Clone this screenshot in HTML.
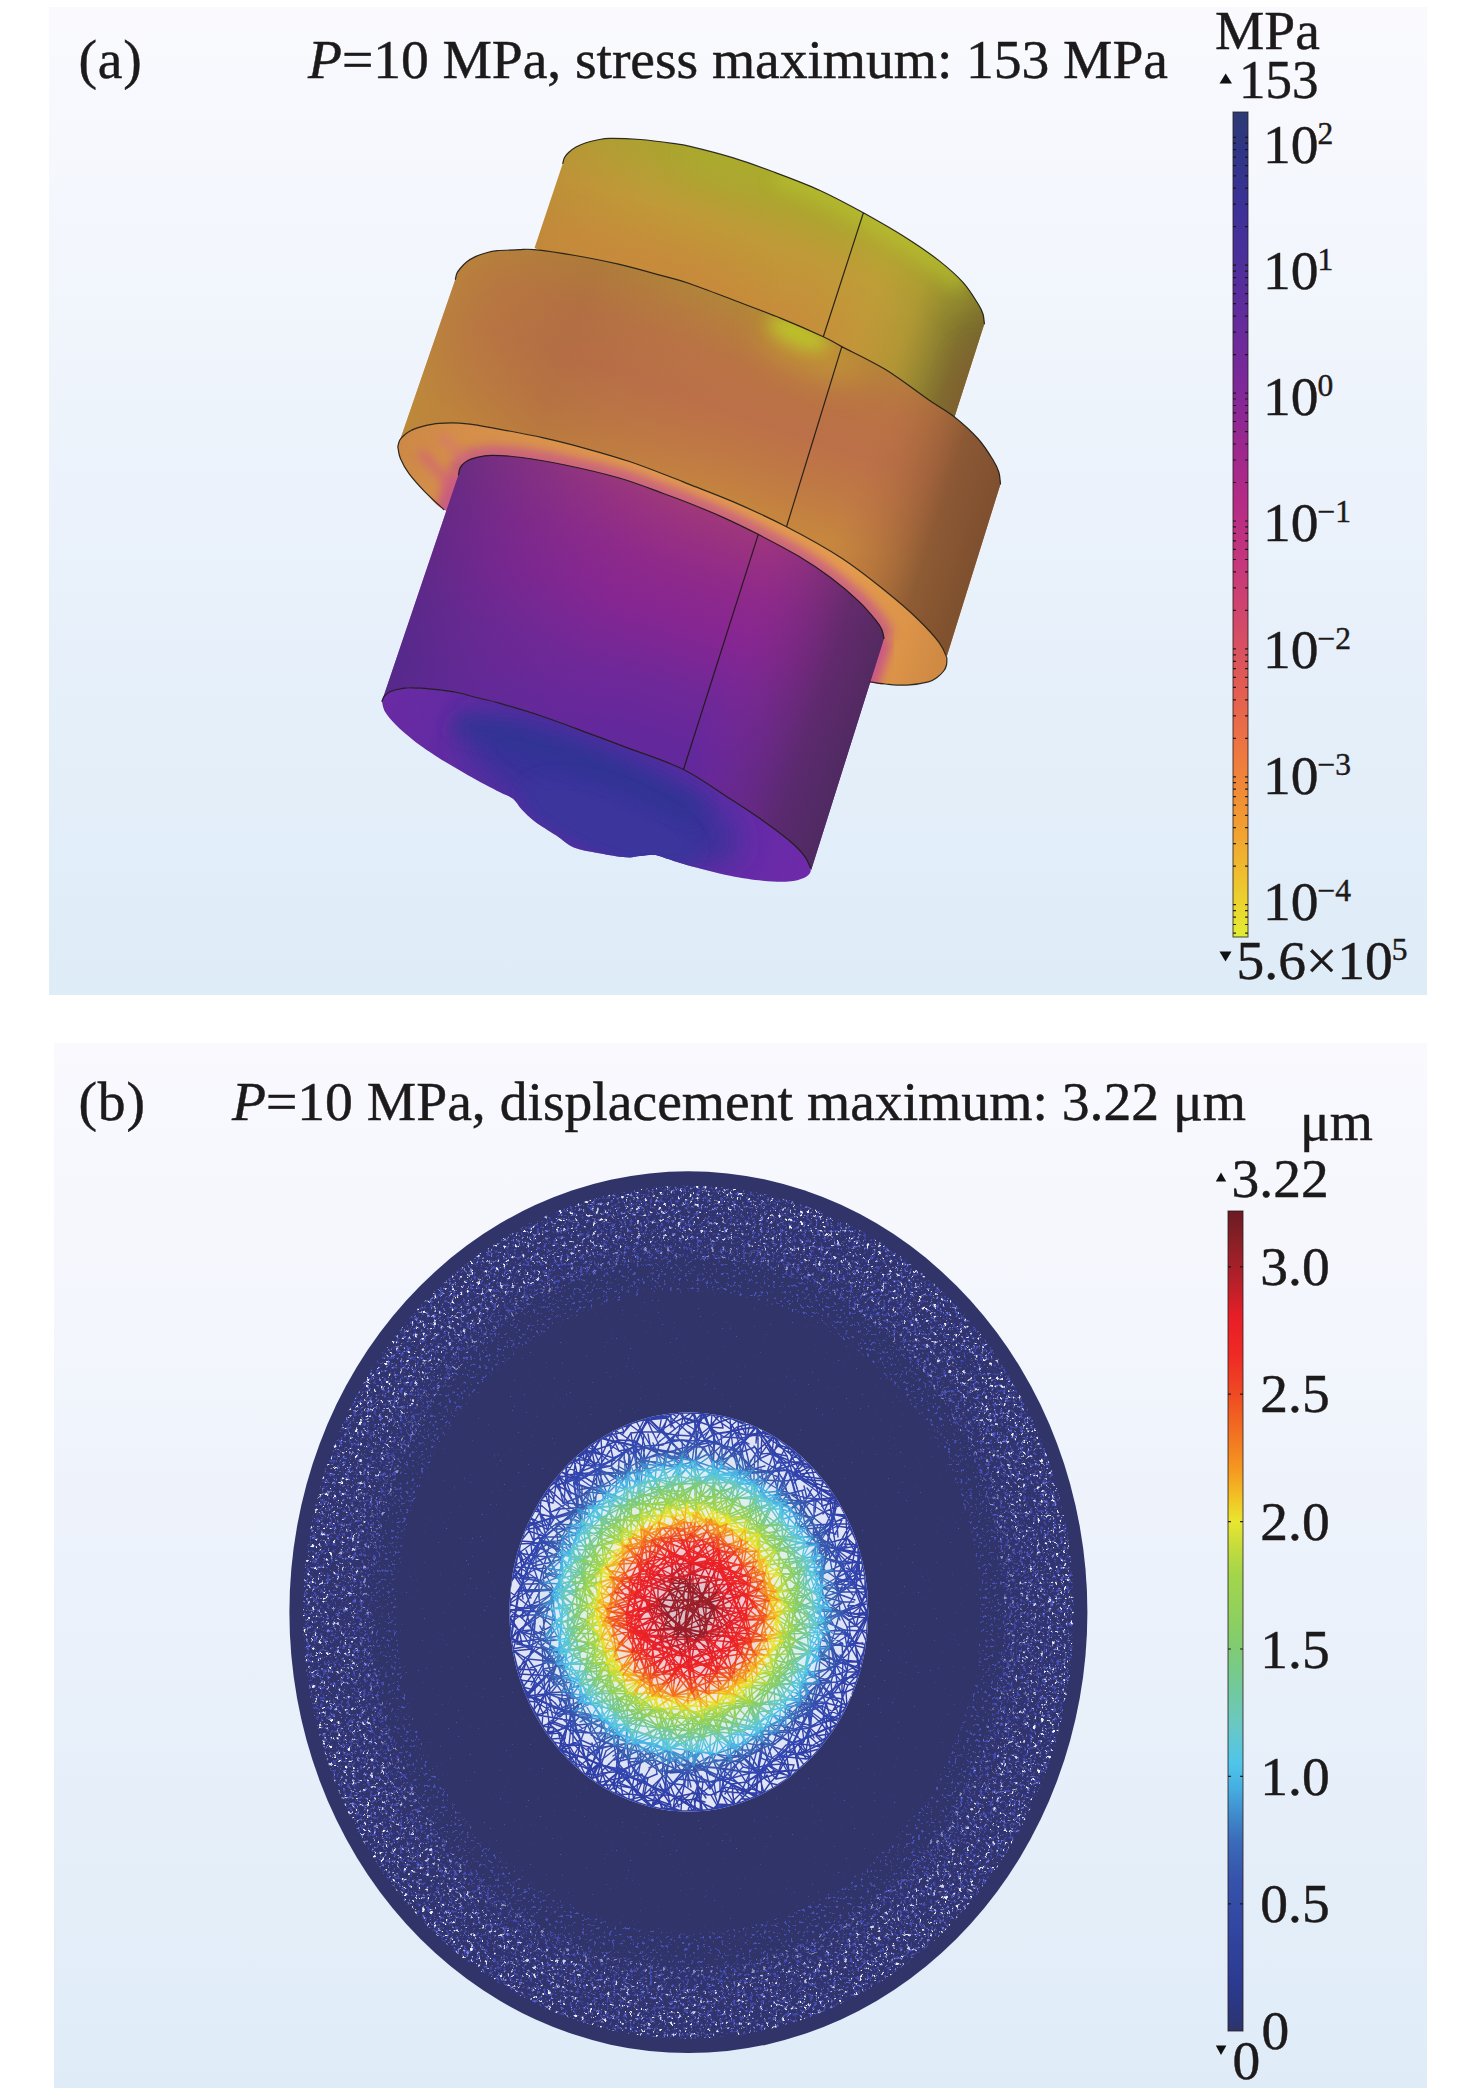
<!DOCTYPE html>
<html lang="en"><head><meta charset="utf-8"><title>Stress and displacement simulation</title>
<style>
html,body{margin:0;padding:0;background:#fff;}
body{width:1476px;height:2098px;overflow:hidden;position:relative;font-family:"Liberation Serif", serif;color:#1a1a1a;}
svg{position:absolute;left:0;top:0;display:block}
text{font-family:"Liberation Serif", serif;fill:#1d1a1b;stroke:#1d1a1b;stroke-width:0.45px;}
.t{font-size:55.6px}
.c{font-size:55.5px}
.s{font-size:31.5px}
.i{font-style:italic}
</style></head><body>
<svg width="1476" height="2098" viewBox="0 0 1476 2098">

<defs><linearGradient id="bgA" x1="0" y1="0" x2="0" y2="1"><stop offset="0.0000" stop-color="#fafafe"/><stop offset="0.2000" stop-color="#f4f7fd"/><stop offset="0.5000" stop-color="#ebf2fb"/><stop offset="0.8000" stop-color="#e3eef9"/><stop offset="1.0000" stop-color="#deecf8"/></linearGradient><linearGradient id="bgB" x1="0" y1="0" x2="0" y2="1"><stop offset="0.0000" stop-color="#f9f9fe"/><stop offset="0.2000" stop-color="#f5f7fd"/><stop offset="0.5000" stop-color="#ecf2fb"/><stop offset="0.8000" stop-color="#e4eef9"/><stop offset="1.0000" stop-color="#dfecf8"/></linearGradient><linearGradient id="cbA" x1="0" y1="0" x2="0" y2="1"><stop offset="0.0000" stop-color="#2d3a73"/><stop offset="0.0461" stop-color="#2f3585"/><stop offset="0.1067" stop-color="#3a3296"/><stop offset="0.1794" stop-color="#4b2f9b"/><stop offset="0.2521" stop-color="#642b9c"/><stop offset="0.3248" stop-color="#7b289a"/><stop offset="0.3976" stop-color="#98278f"/><stop offset="0.4703" stop-color="#b42b86"/><stop offset="0.5430" stop-color="#c4367c"/><stop offset="0.6158" stop-color="#d2486b"/><stop offset="0.6885" stop-color="#e05a55"/><stop offset="0.7612" stop-color="#ec7244"/><stop offset="0.8097" stop-color="#f08538"/><stop offset="0.8703" stop-color="#f1a030"/><stop offset="0.9309" stop-color="#eec22e"/><stop offset="0.9673" stop-color="#ead82f"/><stop offset="1.0000" stop-color="#e0ee33"/></linearGradient><linearGradient id="cbB" x1="0" y1="0" x2="0" y2="1"><stop offset="-0.0004" stop-color="#6b1b22"/><stop offset="0.0369" stop-color="#8a1f26"/><stop offset="0.0835" stop-color="#b4202a"/><stop offset="0.1301" stop-color="#e81e26"/><stop offset="0.1768" stop-color="#ee2a25"/><stop offset="0.2234" stop-color="#ef4a23"/><stop offset="0.2700" stop-color="#f27021"/><stop offset="0.3166" stop-color="#f59a20"/><stop offset="0.3477" stop-color="#f2c024"/><stop offset="0.3787" stop-color="#e9e62f"/><stop offset="0.4098" stop-color="#c4dc3c"/><stop offset="0.4409" stop-color="#a5d64a"/><stop offset="0.5030" stop-color="#8bcf62"/><stop offset="0.5341" stop-color="#7fcb74"/><stop offset="0.5807" stop-color="#72c99a"/><stop offset="0.6273" stop-color="#69c8c4"/><stop offset="0.6739" stop-color="#4fc5ea"/><stop offset="0.7050" stop-color="#45ade0"/><stop offset="0.7361" stop-color="#3f8bcc"/><stop offset="0.7671" stop-color="#3b6cba"/><stop offset="0.8138" stop-color="#3653ab"/><stop offset="0.8759" stop-color="#3146a0"/><stop offset="0.9380" stop-color="#2c3b92"/><stop offset="0.9753" stop-color="#2b367e"/><stop offset="1.0002" stop-color="#2d346c"/></linearGradient>
<clipPath id="cTw"><path d="M562.8 163.4C563.1 162.4 563.5 159.3 564.5 157.5C565.5 155.7 566.7 154.2 568.6 152.5C570.5 150.8 573.1 148.6 576.0 147.0C578.9 145.4 582.5 144.0 586.0 142.8C589.5 141.6 593.0 140.7 597.0 140.0C601.0 139.3 602.6 138.5 609.8 138.4C617.0 138.3 629.7 138.7 640.2 139.5C650.7 140.3 664.4 142.2 672.7 143.4C681.0 144.6 679.9 144.0 690.0 146.4C700.1 148.8 718.9 153.5 733.4 157.9C747.9 162.3 762.2 167.7 776.7 173.1C791.2 178.5 805.7 183.9 820.1 190.5C834.5 197.1 849.0 204.9 863.4 212.8C877.8 220.8 894.1 230.2 906.8 238.2C919.4 246.2 929.9 253.5 939.3 260.9C948.7 268.3 956.7 275.4 963.2 282.6C969.7 289.8 975.0 299.1 978.3 304.3C981.6 309.5 982.0 310.8 983.0 314.0C984.0 317.2 984.2 322.2 984.4 323.8L954.5 417.0L534.6 247.9Z"/></clipPath><clipPath id="cMw"><path d="M455.4 279.3C455.6 278.3 456.0 275.3 456.8 273.5C457.6 271.7 458.6 270.4 460.2 268.5C461.8 266.6 464.0 264.0 466.5 262.0C469.0 260.0 472.2 258.1 475.4 256.6C478.6 255.1 481.9 254.0 485.5 253.0C489.1 252.0 491.6 251.2 497.1 250.7C502.7 250.1 512.5 249.9 518.8 249.7C525.0 249.5 525.2 248.7 534.6 249.7C544.0 250.7 561.1 253.1 575.1 255.5C589.1 257.9 604.0 260.8 618.5 264.2C633.0 267.6 649.9 272.4 661.8 275.7C673.7 278.9 678.1 279.6 690.0 283.7C701.9 287.8 718.2 294.2 733.4 300.0C748.6 305.8 766.0 312.3 781.0 318.4C796.0 324.5 813.2 332.1 823.3 336.8C833.4 341.5 831.5 341.2 841.8 346.6C852.1 352.0 870.6 360.5 885.1 369.3C899.6 378.1 916.9 391.8 928.5 399.7C940.1 407.6 946.2 410.4 954.5 417.0C962.8 423.6 971.8 431.7 978.3 439.0C984.8 446.3 990.1 455.2 993.5 460.7C996.9 466.2 997.6 468.1 998.8 472.0C1000.0 475.9 1000.2 482.0 1000.5 484.0L946.9 656.0C945.6 655.5 944.2 649.3 939.3 642.8C934.4 636.3 926.6 627.7 917.6 619.0C908.6 610.3 897.7 600.9 885.1 590.8C872.5 580.7 858.2 569.0 841.8 558.3C825.4 547.6 804.6 536.2 786.5 526.8C768.4 517.4 749.5 508.9 733.4 501.9C717.3 494.9 700.0 488.6 690.0 484.6C680.0 480.6 683.5 481.8 673.5 478.0C663.5 474.2 644.7 466.7 630.2 461.8C615.8 456.9 601.3 452.8 586.8 448.8C572.3 444.8 557.8 441.1 543.4 437.9C529.0 434.6 512.7 431.6 500.1 429.3C487.5 427.0 477.7 424.8 467.6 423.8C457.5 422.8 447.3 422.8 439.4 423.4C431.4 423.9 424.5 426.0 419.9 427.1C415.2 428.2 414.0 429.0 411.5 430.3C409.0 431.6 406.6 433.1 404.7 434.7C402.8 436.3 400.9 438.0 399.8 440.0C398.7 442.0 398.1 445.5 397.8 446.6Z"/></clipPath><clipPath id="cMb"><path d="M397.8 446.6C398.1 445.5 398.7 442.0 399.8 440.0C400.9 438.0 402.8 436.3 404.7 434.7C406.6 433.1 409.0 431.6 411.5 430.3C414.0 429.0 415.2 428.2 419.9 427.1C424.5 426.0 431.4 423.9 439.4 423.4C447.3 422.8 457.5 422.8 467.6 423.8C477.7 424.8 487.5 427.0 500.1 429.3C512.7 431.6 529.0 434.6 543.4 437.9C557.8 441.1 572.3 444.8 586.8 448.8C601.3 452.8 615.8 456.9 630.2 461.8C644.7 466.7 663.5 474.2 673.5 478.0C683.5 481.8 680.0 480.6 690.0 484.6C700.0 488.6 717.3 494.9 733.4 501.9C749.5 508.9 768.4 517.4 786.5 526.8C804.6 536.2 825.4 547.6 841.8 558.3C858.2 569.0 872.5 580.7 885.1 590.8C897.7 600.9 908.6 610.3 917.6 619.0C926.6 627.7 934.4 636.3 939.3 642.8C944.2 649.3 945.6 655.5 946.9 658.0C946.8 659.2 947.0 662.8 946.5 665.0C946.0 667.2 945.3 668.9 943.7 671.0C942.1 673.1 939.5 675.7 937.0 677.5C934.5 679.3 933.5 680.5 928.5 681.8C923.5 683.1 914.0 684.7 906.8 685.1C899.6 685.5 891.2 684.5 885.1 684.0C879.0 683.5 887.5 686.6 870.0 681.8C852.5 677.0 815.0 667.0 780.0 655.0C745.0 643.0 696.7 625.0 660.0 610.0C623.3 595.0 588.3 578.3 560.0 565.0C531.7 551.7 509.4 539.2 490.0 530.0C470.6 520.8 454.7 516.0 443.7 509.5C432.7 503.0 430.0 497.1 424.2 491.1C418.4 485.1 413.0 479.1 409.0 473.7C405.0 468.3 402.3 463.0 400.4 458.5C398.5 454.0 398.2 448.6 397.8 446.6Z"/></clipPath><clipPath id="cBw"><path d="M458.5 474.8C458.7 473.9 458.9 471.1 459.5 469.5C460.1 467.9 460.9 466.4 462.1 465.0C463.4 463.6 465.0 462.1 467.0 461.0C469.0 459.9 470.0 459.1 474.1 458.1C478.2 457.2 483.4 455.4 491.4 455.3C499.3 455.2 509.5 455.9 521.8 457.5C534.1 459.1 548.9 461.6 565.1 465.0C581.4 468.4 603.0 473.3 619.3 478.0C635.6 482.7 650.9 488.9 662.7 493.2C674.5 497.4 680.0 499.5 690.0 503.5C700.0 507.5 711.1 512.0 722.5 517.1C733.9 522.2 745.6 527.9 758.3 534.4C770.9 540.9 786.3 548.9 798.4 556.1C810.5 563.3 820.8 570.2 830.9 577.8C841.0 585.4 851.5 594.4 859.1 601.6C866.7 608.8 872.7 616.4 876.5 621.1C880.3 625.8 880.8 627.1 882.0 630.0C883.2 632.9 883.7 637.1 884.0 638.5L811.2 870.0C809.6 865.9 807.5 859.8 803.8 855.1C800.1 850.4 795.5 845.8 788.6 840.0C781.7 834.2 772.4 827.3 762.6 820.4C752.9 813.5 743.3 807.3 730.1 798.8C716.9 790.3 700.1 777.8 683.5 769.5C666.9 761.2 646.3 755.0 630.2 748.9C614.1 742.8 601.3 738.0 586.8 732.6C572.3 727.2 557.8 721.7 543.4 716.8C529.0 711.9 510.9 706.5 500.1 703.4C489.3 700.3 485.6 699.8 478.4 698.0C471.2 696.2 463.9 693.9 456.7 692.5C449.5 691.1 442.2 690.2 435.0 689.4C427.8 688.6 418.8 688.0 413.4 687.8C408.0 687.6 406.3 687.7 402.5 688.3C398.7 688.9 393.5 690.2 390.5 691.5C387.5 692.8 385.9 694.4 384.5 696.0C383.1 697.6 382.3 700.4 381.9 701.3Z"/></clipPath><clipPath id="cBf"><path d="M381.9 701.3C382.3 700.4 383.1 697.6 384.5 696.0C385.9 694.4 387.5 692.8 390.5 691.5C393.5 690.2 398.7 688.9 402.5 688.3C406.3 687.7 408.0 687.6 413.4 687.8C418.8 688.0 427.8 688.6 435.0 689.4C442.2 690.2 449.5 691.1 456.7 692.5C463.9 693.9 471.2 696.2 478.4 698.0C485.6 699.8 489.3 700.3 500.1 703.4C510.9 706.5 529.0 711.9 543.4 716.8C557.8 721.7 572.3 727.2 586.8 732.6C601.3 738.0 614.1 742.8 630.2 748.9C646.3 755.0 666.9 761.2 683.5 769.5C700.1 777.8 716.9 790.3 730.1 798.8C743.3 807.3 752.9 813.5 762.6 820.4C772.4 827.3 781.7 834.2 788.6 840.0C795.5 845.8 800.1 850.4 803.8 855.1C807.5 859.8 809.6 865.9 810.7 868.1C810.6 868.9 811.1 871.4 810.0 873.0C808.9 874.6 807.4 876.5 803.8 877.9C800.2 879.3 795.5 881.1 788.6 881.6C781.7 882.1 772.4 881.7 762.6 880.7C752.9 879.7 742.8 878.3 730.1 875.7C717.5 873.1 697.6 867.9 686.7 864.9C675.9 861.9 670.4 859.6 665.0 858.0C659.6 856.4 658.4 855.4 654.2 855.1C650.0 854.8 644.7 855.6 640.0 856.0C635.3 856.4 633.1 857.8 626.0 857.3C618.9 856.8 606.3 854.6 597.6 853.0C588.9 851.4 580.7 850.4 573.8 847.5C566.9 844.6 562.9 839.9 556.4 835.6C549.9 831.3 540.6 825.8 534.8 821.5C529.0 817.2 525.4 813.4 521.8 809.6C518.2 805.8 516.7 801.7 513.1 798.8C509.5 795.9 507.7 796.3 500.1 792.3C492.5 788.3 478.5 781.0 467.6 774.9C456.8 768.8 444.0 761.2 435.0 755.4C426.0 749.6 419.9 745.3 413.4 740.2C406.9 735.1 400.7 729.7 396.0 725.0C391.3 720.3 387.6 716.0 385.2 712.0C382.8 708.0 382.4 703.1 381.9 701.3Z"/></clipPath><filter id="bl5" x="-60%" y="-60%" width="220%" height="220%"><feGaussianBlur stdDeviation="5"/></filter><filter id="bl8" x="-60%" y="-60%" width="220%" height="220%"><feGaussianBlur stdDeviation="8"/></filter><filter id="bl16" x="-60%" y="-60%" width="220%" height="220%"><feGaussianBlur stdDeviation="16"/></filter><filter id="bl28" x="-60%" y="-60%" width="220%" height="220%"><feGaussianBlur stdDeviation="28"/></filter><linearGradient id="gTv" gradientUnits="userSpaceOnUse" x1="700.0" y1="146.0" x2="641.5" y2="321.6"><stop offset="0.000" stop-color="#a6a62e"/><stop offset="0.150" stop-color="#aea432"/><stop offset="0.380" stop-color="#c09a38"/><stop offset="0.700" stop-color="#c68e3b"/><stop offset="1.000" stop-color="#c8863c"/></linearGradient><linearGradient id="gTu" gradientUnits="userSpaceOnUse" x1="562.8" y1="163.4" x2="989.8" y2="305.6"><stop offset="0.000" stop-color="#b88438" stop-opacity="0.35"/><stop offset="0.120" stop-color="#c08c3a" stop-opacity="0.2"/><stop offset="0.300" stop-color="#c2963a" stop-opacity="0.0"/><stop offset="0.600" stop-color="#c0a036" stop-opacity="0.0"/><stop offset="0.740" stop-color="#b8aa34" stop-opacity="0.3"/><stop offset="0.840" stop-color="#a09c30" stop-opacity="0.55"/><stop offset="0.910" stop-color="#84802e" stop-opacity="0.8"/><stop offset="0.960" stop-color="#7a702e" stop-opacity="0.92"/><stop offset="1.000" stop-color="#76682e" stop-opacity="0.95"/></linearGradient><linearGradient id="gMv" gradientUnits="userSpaceOnUse" x1="700.0" y1="285.0" x2="636.8" y2="474.8"><stop offset="0.000" stop-color="#b08a38"/><stop offset="0.120" stop-color="#b6803c"/><stop offset="0.300" stop-color="#ba7444"/><stop offset="0.550" stop-color="#bc7048"/><stop offset="0.800" stop-color="#c07a44"/><stop offset="1.000" stop-color="#c6863e"/></linearGradient><linearGradient id="gMu" gradientUnits="userSpaceOnUse" x1="455.4" y1="279.3" x2="1004.9" y2="462.3"><stop offset="0.000" stop-color="#b88a38" stop-opacity="0.6"/><stop offset="0.080" stop-color="#b27c3a" stop-opacity="0.4"/><stop offset="0.220" stop-color="#a4663e" stop-opacity="0.35"/><stop offset="0.400" stop-color="#b06a46" stop-opacity="0.15"/><stop offset="0.550" stop-color="#bc7048" stop-opacity="0.0"/><stop offset="0.760" stop-color="#bc7046" stop-opacity="0.0"/><stop offset="0.850" stop-color="#a0623a" stop-opacity="0.5"/><stop offset="0.920" stop-color="#845432" stop-opacity="0.85"/><stop offset="1.000" stop-color="#7c4e2e" stop-opacity="0.95"/></linearGradient><linearGradient id="gMb" gradientUnits="userSpaceOnUse" x1="397.8" y1="446.6" x2="947.3" y2="629.6"><stop offset="0.000" stop-color="#cc8846"/><stop offset="0.080" stop-color="#d48e4a"/><stop offset="0.400" stop-color="#e0984e"/><stop offset="0.800" stop-color="#e49c4e"/><stop offset="0.930" stop-color="#dc9448"/><stop offset="1.000" stop-color="#d08a44"/></linearGradient><linearGradient id="gBv" gradientUnits="userSpaceOnUse" x1="640.0" y1="476.0" x2="561.0" y2="713.2"><stop offset="0.000" stop-color="#a23e76"/><stop offset="0.100" stop-color="#9c347e"/><stop offset="0.300" stop-color="#902a8a"/><stop offset="0.500" stop-color="#862692"/><stop offset="0.750" stop-color="#702898"/><stop offset="1.000" stop-color="#62289c"/></linearGradient><linearGradient id="gBu" gradientUnits="userSpaceOnUse" x1="458.5" y1="474.8" x2="893.1" y2="619.5"><stop offset="0.000" stop-color="#4e2a80" stop-opacity="0.6"/><stop offset="0.120" stop-color="#5c2a88" stop-opacity="0.45"/><stop offset="0.300" stop-color="#6c2a8e" stop-opacity="0.2"/><stop offset="0.500" stop-color="#8a2692" stop-opacity="0.0"/><stop offset="0.680" stop-color="#8c2890" stop-opacity="0.0"/><stop offset="0.800" stop-color="#6e2a78" stop-opacity="0.45"/><stop offset="0.900" stop-color="#582a64" stop-opacity="0.8"/><stop offset="1.000" stop-color="#4e2a5c" stop-opacity="0.92"/></linearGradient><linearGradient id="gBf" gradientUnits="userSpaceOnUse" x1="381.9" y1="701.3" x2="818.4" y2="846.7"><stop offset="0.000" stop-color="#6a2aa4"/><stop offset="0.300" stop-color="#5c2ca0"/><stop offset="0.700" stop-color="#5e2ca4"/><stop offset="1.000" stop-color="#6e2aaa"/></linearGradient><clipPath id="cIn"><ellipse cx="688.8" cy="1612.0" rx="179.5" ry="199.5"/></clipPath><radialGradient id="gGlow" gradientUnits="userSpaceOnUse" cx="0" cy="0" r="1" gradientTransform="translate(688.5 1609.5) scale(176.5 190.0)"><stop offset="0.000" stop-color="#781a22" stop-opacity="0.26"/><stop offset="0.100" stop-color="#991e28" stop-opacity="0.24200000000000002"/><stop offset="0.200" stop-color="#d61e29" stop-opacity="0.224"/><stop offset="0.300" stop-color="#ec2426" stop-opacity="0.20600000000000002"/><stop offset="0.360" stop-color="#ee3924" stop-opacity="0.1952"/><stop offset="0.420" stop-color="#f26d21" stop-opacity="0.1844"/><stop offset="0.500" stop-color="#ecda2b" stop-opacity="0.17"/><stop offset="0.580" stop-color="#96d258" stop-opacity="0.15560000000000002"/><stop offset="0.660" stop-color="#72c99a" stop-opacity="0.1412"/><stop offset="0.720" stop-color="#57c6de" stop-opacity="0.13040000000000002"/><stop offset="0.800" stop-color="#3b6fbc" stop-opacity="0.11600000000000002"/><stop offset="0.900" stop-color="#3248af" stop-opacity="0.098"/><stop offset="1.000" stop-color="#2f3ca0" stop-opacity="0.08000000000000002"/></radialGradient><filter id="spk1" filterUnits="userSpaceOnUse" x="280" y="1160" width="820" height="905" color-interpolation-filters="sRGB"><feTurbulence type="fractalNoise" baseFrequency="0.3" numOctaves="3" seed="3" result="n"/><feColorMatrix in="n" type="matrix" values="0 0 0 0 0.263 0 0 0 0 0.298 0 0 0 0 0.714 7 0 0 0 -4.0" result="a"/><feComposite in="a" in2="SourceGraphic" operator="in"/></filter><filter id="spk2" filterUnits="userSpaceOnUse" x="280" y="1160" width="820" height="905" color-interpolation-filters="sRGB"><feTurbulence type="fractalNoise" baseFrequency="0.33" numOctaves="3" seed="8" result="n"/><feColorMatrix in="n" type="matrix" values="0 0 0 0 0.463 0 0 0 0 0.502 0 0 0 0 0.863 8 0 0 0 -5.15" result="a"/><feComposite in="a" in2="SourceGraphic" operator="in"/></filter><filter id="spk3" filterUnits="userSpaceOnUse" x="280" y="1160" width="820" height="905" color-interpolation-filters="sRGB"><feTurbulence type="fractalNoise" baseFrequency="0.27" numOctaves="3" seed="21" result="n"/><feColorMatrix in="n" type="matrix" values="0 0 0 0 0.941 0 0 0 0 0.949 0 0 0 0 1.000 9 0 0 0 -5.78" result="a"/><feComposite in="a" in2="SourceGraphic" operator="in"/></filter><filter id="spk4" filterUnits="userSpaceOnUse" x="280" y="1160" width="820" height="905" color-interpolation-filters="sRGB"><feTurbulence type="fractalNoise" baseFrequency="0.33" numOctaves="3" seed="5" result="n"/><feColorMatrix in="n" type="matrix" values="0 0 0 0 0.290 0 0 0 0 0.329 0 0 0 0 0.753 9 0 0 0 -5.6" result="a"/><feComposite in="a" in2="SourceGraphic" operator="in"/></filter><filter id="spk5" filterUnits="userSpaceOnUse" x="280" y="1160" width="820" height="905" color-interpolation-filters="sRGB"><feTurbulence type="fractalNoise" baseFrequency="0.5" numOctaves="2" seed="9" result="n"/><feColorMatrix in="n" type="matrix" values="0 0 0 0 0.290 0 0 0 0 0.329 0 0 0 0 0.753 10 0 0 0 -7.3" result="a"/><feComposite in="a" in2="SourceGraphic" operator="in"/></filter></defs>
<rect x="49" y="7" width="1378" height="988" fill="url(#bgA)"/><rect x="54" y="1043" width="1373" height="1045" fill="url(#bgB)"/>
<g id="figA"><g clip-path="url(#cTw)"><rect x="500" y="120" width="520" height="320" fill="url(#gTv)"/><rect x="500" y="120" width="520" height="320" fill="url(#gTu)"/><path d="M690.0 146.4C697.2 148.3 718.9 153.5 733.4 157.9C747.9 162.3 762.2 167.7 776.7 173.1C791.2 178.5 805.7 183.9 820.1 190.5C834.5 197.1 849.0 204.9 863.4 212.8C877.8 220.8 894.1 230.2 906.8 238.2C919.4 246.2 929.9 253.5 939.3 260.9C948.7 268.3 956.7 275.4 963.2 282.6C969.7 289.8 975.8 300.7 978.3 304.3" stroke="#b2b62e" stroke-width="34" fill="none" opacity="0.45" filter="url(#bl16)"/><path d="M776.7 173.1C783.9 176.0 805.7 183.9 820.1 190.5C834.5 197.1 849.0 204.9 863.4 212.8C877.8 220.8 894.1 230.2 906.8 238.2C919.4 246.2 929.9 253.5 939.3 260.9C948.7 268.3 959.2 279.0 963.2 282.6" stroke="#b8c42e" stroke-width="24" fill="none" opacity="0.55" filter="url(#bl8)"/><ellipse cx="964" cy="395" rx="18" ry="55" transform="rotate(18 964 395)" fill="#845c30" opacity="0.7" filter="url(#bl16)"/><ellipse cx="640" cy="262" rx="110" ry="26" transform="rotate(14 640 262)" fill="#c8883e" opacity="0.55" filter="url(#bl16)"/></g><g clip-path="url(#cMw)"><rect x="380" y="230" width="640" height="460" fill="url(#gMv)"/><rect x="380" y="230" width="640" height="460" fill="url(#gMu)"/><ellipse cx="812" cy="350" rx="58" ry="24" transform="rotate(24 812 350)" fill="#c8a034" opacity="0.6" filter="url(#bl16)"/><ellipse cx="798" cy="333" rx="32" ry="13" transform="rotate(24 798 333)" fill="#bcc42c" opacity="0.95" filter="url(#bl8)"/></g><g clip-path="url(#cMb)"><rect x="380" y="400" width="600" height="300" fill="url(#gMb)"/><path d="M458.5 474.8C458.7 473.9 458.9 471.1 459.5 469.5C460.1 467.9 460.9 466.4 462.1 465.0C463.4 463.6 465.0 462.1 467.0 461.0C469.0 459.9 470.0 459.1 474.1 458.1C478.2 457.2 483.4 455.4 491.4 455.3C499.3 455.2 509.5 455.9 521.8 457.5C534.1 459.1 548.9 461.6 565.1 465.0C581.4 468.4 603.0 473.3 619.3 478.0C635.6 482.7 650.9 488.9 662.7 493.2C674.5 497.4 680.0 499.5 690.0 503.5C700.0 507.5 711.1 512.0 722.5 517.1C733.9 522.2 745.6 527.9 758.3 534.4C770.9 540.9 786.3 548.9 798.4 556.1C810.5 563.3 820.8 570.2 830.9 577.8C841.0 585.4 851.5 594.4 859.1 601.6C866.7 608.8 872.7 616.4 876.5 621.1C880.3 625.8 880.8 627.1 882.0 630.0C883.2 632.9 883.7 637.1 884.0 638.5" stroke="#c6568a" stroke-width="19" fill="none" opacity="0.78" filter="url(#bl5)"/><path d="M458.5 474.8 L440 530" stroke="#c8528a" stroke-width="22" fill="none" opacity="0.85" filter="url(#bl5)"/><path d="M884 638.5 L868 690" stroke="#c8528a" stroke-width="18" fill="none" opacity="0.9" filter="url(#bl5)"/><path d="M420 452 L452 486" stroke="#d4647a" stroke-width="10" fill="none" opacity="0.7" filter="url(#bl5)"/><path d="M440 436 L468 462" stroke="#d8707a" stroke-width="8" fill="none" opacity="0.6" filter="url(#bl5)"/></g><g clip-path="url(#cBw)"><rect x="360" y="440" width="560" height="460" fill="url(#gBv)"/><rect x="360" y="440" width="560" height="460" fill="url(#gBu)"/></g><g clip-path="url(#cBf)"><rect x="360" y="670" width="480" height="230" fill="url(#gBf)"/><ellipse cx="600" cy="790" rx="150" ry="46" transform="rotate(24 600 790)" fill="#38329a" filter="url(#bl16)"/><ellipse cx="610" cy="822" rx="92" ry="34" transform="rotate(20 610 822)" fill="#3a349c" filter="url(#bl8)"/><path d="M455 722 C520 735 600 765 700 812" stroke="#2f3692" stroke-width="26" fill="none" opacity="0.65" filter="url(#bl8)"/></g><path d="M562.8 163.4C563.1 162.4 563.5 159.3 564.5 157.5C565.5 155.7 566.7 154.2 568.6 152.5C570.5 150.8 573.1 148.6 576.0 147.0C578.9 145.4 582.5 144.0 586.0 142.8C589.5 141.6 593.0 140.7 597.0 140.0C601.0 139.3 602.6 138.5 609.8 138.4C617.0 138.3 629.7 138.7 640.2 139.5C650.7 140.3 664.4 142.2 672.7 143.4C681.0 144.6 679.9 144.0 690.0 146.4C700.1 148.8 718.9 153.5 733.4 157.9C747.9 162.3 762.2 167.7 776.7 173.1C791.2 178.5 805.7 183.9 820.1 190.5C834.5 197.1 849.0 204.9 863.4 212.8C877.8 220.8 894.1 230.2 906.8 238.2C919.4 246.2 929.9 253.5 939.3 260.9C948.7 268.3 956.7 275.4 963.2 282.6C969.7 289.8 975.0 299.1 978.3 304.3C981.6 309.5 982.0 310.8 983.0 314.0C984.0 317.2 984.2 322.2 984.4 323.8M863.4 212.8C856.7 233.5 830.0 316.1 823.3 336.8M455.4 279.3C455.6 278.3 456.0 275.3 456.8 273.5C457.6 271.7 458.6 270.4 460.2 268.5C461.8 266.6 464.0 264.0 466.5 262.0C469.0 260.0 472.2 258.1 475.4 256.6C478.6 255.1 481.9 254.0 485.5 253.0C489.1 252.0 491.6 251.2 497.1 250.7C502.7 250.1 512.5 249.9 518.8 249.7C525.0 249.5 525.2 248.7 534.6 249.7C544.0 250.7 561.1 253.1 575.1 255.5C589.1 257.9 604.0 260.8 618.5 264.2C633.0 267.6 649.9 272.4 661.8 275.7C673.7 278.9 678.1 279.6 690.0 283.7C701.9 287.8 718.2 294.2 733.4 300.0C748.6 305.8 766.0 312.3 781.0 318.4C796.0 324.5 813.2 332.1 823.3 336.8C833.4 341.5 831.5 341.2 841.8 346.6C852.1 352.0 870.6 360.5 885.1 369.3C899.6 378.1 916.9 391.8 928.5 399.7C940.1 407.6 946.2 410.4 954.5 417.0C962.8 423.6 971.8 431.7 978.3 439.0C984.8 446.3 990.1 455.2 993.5 460.7C996.9 466.2 997.6 468.1 998.8 472.0C1000.0 475.9 1000.2 482.0 1000.5 484.0M841.8 346.6C832.6 376.6 795.7 496.8 786.5 526.8M397.8 446.6C398.1 445.5 398.7 442.0 399.8 440.0C400.9 438.0 402.8 436.3 404.7 434.7C406.6 433.1 409.0 431.6 411.5 430.3C414.0 429.0 415.2 428.2 419.9 427.1C424.5 426.0 431.4 423.9 439.4 423.4C447.3 422.8 457.5 422.8 467.6 423.8C477.7 424.8 487.5 427.0 500.1 429.3C512.7 431.6 529.0 434.6 543.4 437.9C557.8 441.1 572.3 444.8 586.8 448.8C601.3 452.8 615.8 456.9 630.2 461.8C644.7 466.7 663.5 474.2 673.5 478.0C683.5 481.8 680.0 480.6 690.0 484.6C700.0 488.6 717.3 494.9 733.4 501.9C749.5 508.9 768.4 517.4 786.5 526.8C804.6 536.2 825.4 547.6 841.8 558.3C858.2 569.0 872.5 580.7 885.1 590.8C897.7 600.9 908.6 610.3 917.6 619.0C926.6 627.7 934.4 636.3 939.3 642.8C944.2 649.3 945.6 655.5 946.9 658.0M458.5 474.8C458.7 473.9 458.9 471.1 459.5 469.5C460.1 467.9 460.9 466.4 462.1 465.0C463.4 463.6 465.0 462.1 467.0 461.0C469.0 459.9 470.0 459.1 474.1 458.1C478.2 457.2 483.4 455.4 491.4 455.3C499.3 455.2 509.5 455.9 521.8 457.5C534.1 459.1 548.9 461.6 565.1 465.0C581.4 468.4 603.0 473.3 619.3 478.0C635.6 482.7 650.9 488.9 662.7 493.2C674.5 497.4 680.0 499.5 690.0 503.5C700.0 507.5 711.1 512.0 722.5 517.1C733.9 522.2 745.6 527.9 758.3 534.4C770.9 540.9 786.3 548.9 798.4 556.1C810.5 563.3 820.8 570.2 830.9 577.8C841.0 585.4 851.5 594.4 859.1 601.6C866.7 608.8 872.7 616.4 876.5 621.1C880.3 625.8 880.8 627.1 882.0 630.0C883.2 632.9 883.7 637.1 884.0 638.5M758.3 534.4C745.8 573.6 696.0 730.3 683.5 769.5M381.9 701.3C382.3 700.4 383.1 697.6 384.5 696.0C385.9 694.4 387.5 692.8 390.5 691.5C393.5 690.2 398.7 688.9 402.5 688.3C406.3 687.7 408.0 687.6 413.4 687.8C418.8 688.0 427.8 688.6 435.0 689.4C442.2 690.2 449.5 691.1 456.7 692.5C463.9 693.9 471.2 696.2 478.4 698.0C485.6 699.8 489.3 700.3 500.1 703.4C510.9 706.5 529.0 711.9 543.4 716.8C557.8 721.7 572.3 727.2 586.8 732.6C601.3 738.0 614.1 742.8 630.2 748.9C646.3 755.0 666.9 761.2 683.5 769.5C700.1 777.8 716.9 790.3 730.1 798.8C743.3 807.3 752.9 813.5 762.6 820.4C772.4 827.3 781.7 834.2 788.6 840.0C795.5 845.8 800.1 850.4 803.8 855.1C807.5 859.8 809.6 865.9 810.7 868.1M946.9 658.0C946.8 659.2 947.0 662.8 946.5 665.0C946.0 667.2 945.3 668.9 943.7 671.0C942.1 673.1 939.5 675.7 937.0 677.5C934.5 679.3 933.5 680.5 928.5 681.8C923.5 683.1 914.0 684.7 906.8 685.1C899.6 685.5 891.2 684.5 885.1 684.0C879.0 683.5 872.5 682.2 870.0 681.8M443.7 509.5C440.4 506.4 430.0 497.1 424.2 491.1C418.4 485.1 413.0 479.1 409.0 473.7C405.0 468.3 402.3 463.0 400.4 458.5C398.5 454.0 398.2 448.6 397.8 446.6" stroke="#1c1a14" stroke-width="1.2" fill="none" stroke-linecap="round" opacity="0.9"/></g>
<g id="figB"><ellipse cx="688.4" cy="1612.2" rx="399.0" ry="440.9" fill="#303468"/><path d="M302.9 1612.2A385.5 426.5 0 1 1 1073.9 1612.2A385.5 426.5 0 1 1 302.9 1612.2ZM372.4 1612.2A316.0 355.0 0 1 0 1004.4 1612.2A316.0 355.0 0 1 0 372.4 1612.2Z" fill="#3a42a0" opacity="0.08"/><path d="M302.9 1612.2A385.5 426.5 0 1 1 1073.9 1612.2A385.5 426.5 0 1 1 302.9 1612.2ZM372.4 1612.2A316.0 355.0 0 1 0 1004.4 1612.2A316.0 355.0 0 1 0 372.4 1612.2Z" fill="#fff" filter="url(#spk1)"/><g filter="url(#spk2)"><path d="M358.5 1612.2A329.9 369.3 0 1 1 1018.3 1612.2A329.9 369.3 0 1 1 358.5 1612.2ZM372.4 1612.2A316.0 355.0 0 1 0 1004.4 1612.2A316.0 355.0 0 1 0 372.4 1612.2Z" fill="#fff" fill-opacity="0.5"/><path d="M331.7 1612.2A356.7 396.8 0 1 1 1045.1 1612.2A356.7 396.8 0 1 1 331.7 1612.2ZM356.1 1612.2A332.3 371.8 0 1 0 1020.7 1612.2A332.3 371.8 0 1 0 356.1 1612.2Z" fill="#fff" fill-opacity="0.85"/><path d="M302.9 1612.2A385.5 426.5 0 1 1 1073.9 1612.2A385.5 426.5 0 1 1 302.9 1612.2ZM329.3 1612.2A359.1 399.3 0 1 0 1047.5 1612.2A359.1 399.3 0 1 0 329.3 1612.2Z" fill="#fff" fill-opacity="1.0"/></g><g filter="url(#spk3)"><path d="M358.5 1612.2A329.9 369.3 0 1 1 1018.3 1612.2A329.9 369.3 0 1 1 358.5 1612.2ZM372.4 1612.2A316.0 355.0 0 1 0 1004.4 1612.2A316.0 355.0 0 1 0 372.4 1612.2Z" fill="#fff" fill-opacity="0.5"/><path d="M331.7 1612.2A356.7 396.8 0 1 1 1045.1 1612.2A356.7 396.8 0 1 1 331.7 1612.2ZM356.1 1612.2A332.3 371.8 0 1 0 1020.7 1612.2A332.3 371.8 0 1 0 356.1 1612.2Z" fill="#fff" fill-opacity="0.85"/><path d="M302.9 1612.2A385.5 426.5 0 1 1 1073.9 1612.2A385.5 426.5 0 1 1 302.9 1612.2ZM329.3 1612.2A359.1 399.3 0 1 0 1047.5 1612.2A359.1 399.3 0 1 0 329.3 1612.2Z" fill="#fff" fill-opacity="1.0"/></g><path d="M372.4 1612.2A316.0 355.0 0 1 1 1004.4 1612.2A316.0 355.0 0 1 1 372.4 1612.2ZM396.4 1612.2A292.0 321.0 0 1 0 980.4 1612.2A292.0 321.0 0 1 0 396.4 1612.2Z" fill="#fff" filter="url(#spk4)"/><path d="M396.4 1612.2A292.0 321.0 0 1 1 980.4 1612.2A292.0 321.0 0 1 1 396.4 1612.2ZM500.9 1612.2A187.5 207.5 0 1 0 875.9 1612.2A187.5 207.5 0 1 0 500.9 1612.2Z" fill="#fff" filter="url(#spk5)"/><ellipse cx="688.8" cy="1612.0" rx="179.5" ry="199.5" fill="#f1f4fd"/><g clip-path="url(#cIn)"><ellipse cx="688.8" cy="1612.0" rx="179.5" ry="199.5" fill="url(#gGlow)"/><path d="M790 1461l8 -7M559 1476l-6 6M600 1762l-3 21M579 1478l-18 -6M731 1803l7 1M846 1692l9 -4M554 1722l-12 4M794 1452l-4 9M651 1807l-17 -5M633 1423l16 -5M649 1418l13 -3M648 1421l14 -6M540 1512l1 -12M519 1553l-5 15M553 1503l-12 -3M628 1426l-6 1M695 1793l-7 17M833 1505l-2 9M859 1562l1 -12M798 1744l8 15M563 1746l-2 6M860 1579l3 -17M624 1798l-16 -8M866 1578l2 21M659 1432l3 -17M529 1646l-17 3M778 1446l-4 -10M640 1432l-9 1M844 1551l11 1M559 1476l20 2M592 1451l3 15M556 1485l-3 18M708 1810l-14 1M741 1793l-21 -2M593 1443l12 -7M800 1479l12 -13M554 1728l-12 -2M597 1783l11 7M746 1781l-5 12M838 1701l-8 15M519 1553l2 -12M868 1610l-0 -11M783 1764l-4 9M680 1413l11 -0M535 1697l8 16M860 1672l2 -8M585 1775l-5 -4M543 1713l-1 13M534 1522l-7 3M677 1811l-14 -2M788 1757l-5 7M860 1579l8 20M830 1499l2 -8M592 1451l1 -8M581 1465l-8 -5M783 1764l11 1M723 1428l-3 -13M860 1607l7 11M580 1771l-10 -10M705 1413l15 2M720 1415l15 4M846 1692l1 14M536 1509l5 -9M790 1461l17 6M831 1514l15 3M723 1428l-14 -1M779 1773l-9 10M764 1778l-12 8M752 1786l-11 7M535 1697l-8 1M554 1728l-3 11M747 1437l3 -13M711 1795l8 14M829 1734l-13 2M619 1783l13 5M592 1451l10 3M632 1788l10 11M534 1522l-0 20M847 1538l13 12M859 1562l4 -0M864 1653l-2 11M527 1592l-18 12M832 1491l6 11M855 1644l4 20M738 1804l-19 5M573 1460l10 -9M556 1485l-15 15M788 1757l18 2M559 1476l-3 9M778 1446l-6 7M779 1773l-15 5M662 1415l18 -2M535 1697l-1 16M534 1542l-13 -1M624 1432l-19 4M762 1433l-12 -9M741 1793l-10 10M536 1509l4 3M812 1480l12 1M816 1736l7 7M847 1538l6 -6M695 1793l13 17M831 1514l15 1M608 1790l-16 -10M565 1738l-2 8M691 1413l14 0M860 1672l-1 5M849 1616l18 2M652 1806l-1 1M615 1779l-7 11M542 1726l-8 -13M584 1460l-11 -0M534 1713l-7 -15M823 1743l-2 4M522 1567l-8 1M789 1447l9 7M830 1499l8 3M510 1617l17 -2M798 1744l13 14M559 1476l-4 7M568 1482l-12 3M859 1664l1 8M847 1538l8 14M555 1483l-2 -1M610 1445l-18 6M522 1567l-1 10M510 1617l-1 1M554 1728l11 10M868 1630l-2 11M527 1698l-7 -18M520 1680l-3 -12M812 1466l12 15M819 1493l5 -12M741 1793l11 0M752 1793l11 0M683 1418l-3 -5M829 1734l-6 9M535 1682l-8 16M762 1433l12 3M520 1608l-10 9M510 1590l4 -22M846 1517l-0 -2M860 1550l3 12M673 1809l-10 0M770 1783l8 2M819 1493l11 6M510 1617l9 14M823 1743l8 -10M610 1445l-5 -9M648 1421l-8 11M830 1716l1 17M709 1427l11 -12M798 1744l12 1M810 1745l11 2M821 1747l-10 11M859 1664l4 -11M863 1653l3 -12M862 1631l6 -1M521 1541l6 -16M720 1791l8 15M556 1485l-3 -3M830 1499l3 6M615 1779l-18 4M669 1425l-10 7M860 1607l8 -8M695 1793l-20 4M534 1542l-7 -17M624 1432l-2 -5M778 1446l10 6M762 1433l1 -2M843 1678l12 10M642 1799l10 7M551 1739l-9 -13M763 1431l11 5M846 1517l-11 5M673 1809l4 2M632 1788l2 14M512 1649l-1 -11M645 1781l-13 7M779 1773l11 3M656 1791l-14 8M540 1512l-6 10M830 1716l11 3M526 1663l-6 17M580 1745l-8 13M709 1427l-4 -14M764 1778l6 5M788 1452l1 -5M794 1452l4 2M584 1460l-1 -9M572 1758l-2 3M596 1757l-11 18M720 1791l-9 4M631 1433l-7 11M520 1608l-11 -4M737 1427l13 -3M509 1618l0 -14M675 1797l-2 12M741 1799l10 0M509 1604l1 -14M846 1515l7 17M853 1532l7 18M843 1678l16 -1M838 1701l9 5M737 1427l5 11M741 1793l10 6M683 1418l8 -5M521 1577l-7 -9M700 1423l5 -10M642 1799l-8 3M829 1734l2 -1M535 1682l-15 -2M600 1762l-8 18M831 1733l-10 14M867 1618l-5 13M580 1745l-17 1M514 1568l3 -15M808 1735l13 12M863 1562l3 16M669 1425l11 -12M772 1453l2 -17M688 1810l6 1M770 1783l-7 10M847 1672l13 -0M794 1452l-5 -5M563 1746l9 12M572 1758l8 13M550 1706l-7 7M751 1799l-13 5M553 1482l8 -10M600 1762l-15 13M648 1421l11 11M561 1472l12 -12M526 1663l-14 -14M675 1797l-12 12M747 1437l15 -4M859 1664l3 0M862 1631l4 10M534 1542l-15 11M807 1467l5 -1M540 1512l-6 -1M737 1427l-13 10M517 1668l-5 -19M719 1809l-11 1M535 1682l0 15M806 1759l5 -1M630 1777l-11 6M555 1483l1 2M700 1423l-9 -10M642 1799l9 8M788 1452l6 0M675 1797l4 10M519 1631l-10 -13M565 1738l-14 1M846 1517l1 21M859 1562l1 17M656 1791l7 18M728 1806l-9 3M762 1433l-1 21M645 1781l-3 18M683 1418l-2 8M511 1638l-2 -20M656 1791l-4 15M852 1585l16 14M519 1631l-2 13M572 1758l-11 -6M527 1525l7 -14M862 1631l-7 13M559 1476l2 -4M592 1451l-8 9M741 1799l-3 5M761 1454l13 -18M767 1765l12 8M695 1793l16 2M519 1553l-2 -0M628 1426l5 -3M534 1511l7 -11M541 1500l12 -18M830 1499l1 15M519 1553l3 14M867 1618l1 -8M783 1764l7 12M728 1806l10 -2M794 1765l-4 11M585 1775l7 5M615 1779l15 -2M683 1418l-14 7M694 1811l-17 0M605 1436l17 -9M860 1579l6 -1M592 1451l-9 -0M683 1418l17 5M540 1514l-3 -8M629 1794l0 6M617 1795l-18 -10M599 1785l-14 -11M790 1454l-13 -10M776 1438l17 12M859 1662l-10 -18M660 1803l2 6M653 1433l-6 -13M718 1804l-1 5M804 1765l-13 11M570 1761l-11 -11M765 1436l1 -4M614 1785l3 10M568 1483l-10 -7M521 1680l-4 -11M522 1584l-9 -14M697 1421l15 -7M644 1796l-12 -8M803 1461l2 -1M513 1651l-2 -12M511 1639l-1 -12M864 1571l3 21M777 1444l16 6M619 1451l-8 -16M851 1571l10 -14M777 1786l-15 8M815 1483l-14 -9M601 1438l11 -6M725 1794l7 -10M797 1755l7 -14M825 1722l14 -7M662 1809l-13 -3M712 1414l19 4M509 1616l1 -12M510 1604l0 -12M790 1454l3 -4M718 1804l16 1M746 1435l20 -3M521 1680l2 7M532 1649l-19 2M693 1811l3 -12M696 1799l2 -13M629 1794l3 -6M766 1432l10 6M644 1796l-15 -2M644 1435l-15 -11M575 1464l-2 -4M697 1421l-11 3M673 1808l8 3M547 1734l-9 -13M660 1803l-16 -7M629 1794l-12 1M856 1592l1 -16M718 1804l3 -13M801 1474l15 -2M536 1670l-13 17M849 1644l16 4M660 1803l-11 3M614 1785l-11 -12M667 1418l-20 2M647 1420l-11 1M523 1687l-6 -18M842 1699l6 -14M856 1541l5 16M686 1424l-4 -11M713 1809l-17 2M524 1563l-5 -13M765 1436l11 2M854 1555l7 2M602 1455l9 -20M632 1788l-18 -3M839 1715l-17 -9M851 1571l13 -0M521 1600l-11 -8M529 1521l8 -15M773 1455l4 -11M511 1628l-1 -1M718 1804l-4 -11M528 1659l-15 -8M861 1605l-5 -13M614 1785l12 -14M863 1643l-14 1M859 1662l-16 -0M713 1809l4 0M843 1662l17 10M559 1750l-12 -16M831 1733l-12 16M519 1550l-2 3M816 1472l13 16M548 1489l10 -13M842 1682l18 -10M693 1811l-11 -16M524 1563l-7 -10M629 1794l-15 -9M602 1455l-1 -17M597 1775l4 -10M603 1773l-4 12M711 1426l9 -4M850 1528l6 13M575 1464l9 -14M673 1808l-11 1M538 1721l-5 -10M533 1711l-5 -10M528 1701l-5 -14M849 1522l7 19M551 1724l-4 10M577 1473l-3 0M529 1531l-8 10M868 1615l-0 14M868 1629l-3 19M577 1473l-2 -9M536 1670l-19 -1M720 1422l-8 -8M534 1690l-11 -3M815 1483l14 5M842 1699l0 -17M611 1435l-10 3M746 1435l-5 -9M673 1808l9 -13M602 1455l-18 -5M777 1444l-12 -8M765 1436l-19 -1M860 1672l-3 10M850 1528l-1 -6M517 1553l4 -12M644 1435l-8 -14M513 1651l4 18M623 1434l6 -10M791 1776l-14 10M584 1450l17 -12M546 1708l-10 -6M856 1626l12 -11M732 1784l7 9M739 1793l7 8M859 1662l6 -14M574 1473l1 -9M856 1626l5 -21M706 1798l-8 -12M851 1571l3 -16M762 1794l-16 7M559 1730l-12 4M612 1432l17 -8M614 1772l-11 1M595 1466l-11 -16M698 1786l-1 13M601 1765l-16 9M577 1759l8 15M519 1550l2 -9M542 1506l-5 0M761 1774l1 20M857 1576l10 16M854 1555l2 -9M510 1627l-1 -11M711 1426l-14 -5M597 1775l-12 -1M848 1685l-6 -3M644 1796l5 10M841 1718l-10 15M537 1506l11 -17M536 1702l-8 -1M529 1531l-0 -10M839 1715l3 -16M553 1742l-6 -8M532 1564l-13 -14M865 1648l-2 12M675 1429l-8 -11M839 1715l8 -9M636 1421l-7 3M797 1755l11 -3M808 1752l11 -3M848 1685l9 -3M720 1422l11 -4M819 1749l-7 8M812 1757l-8 8M611 1435l1 -3M746 1435l-11 -3M573 1460l11 -10M718 1804l-5 5M667 1418l-19 -0M801 1474l-5 -10M796 1464l-6 -10M746 1782l16 12M856 1546l0 -5M711 1426l1 -12M670 1795l-11 -9M528 1659l-11 10M734 1805l-17 4M771 1762l3 12M592 1445l9 -7M850 1528l-13 -2M845 1539l5 -11M569 1745l-16 -3M673 1808l-13 -5M732 1784l2 21M859 1662l1 10M513 1570l4 -17M681 1811l-19 -2M663 1432l4 -14M602 1455l-10 -10M803 1461l-13 -7M696 1413l16 1M848 1685l12 -13M569 1745l-10 5M735 1432l-15 -10M761 1774l-15 8M682 1795l-1 16M644 1796l4 -18M857 1682l-5 12M820 1499l-5 -16M521 1541l8 -20M649 1806l-20 -6M731 1418l14 5M592 1445l-8 5M670 1795l-13 0M657 1795l-13 1M825 1722l6 11M577 1759l-8 -14M829 1488l12 17M644 1796l-15 4M536 1702l-13 -15M569 1745l1 16M529 1579l-16 -9M839 1715l-8 -18M746 1801l-12 4M511 1610l-2 6M746 1435l-1 -12M839 1715l2 3M797 1755l7 10M538 1529l-9 -8M603 1773l-6 2M868 1615l-0 -11M868 1604l-1 -12M861 1605l6 -13M820 1499l21 6M667 1418l-2 -4M856 1592l11 0M614 1785l-15 -0M825 1722l16 -4M824 1512l17 -7M577 1759l4 -19M717 1809l-21 2M560 1489l-2 -13M665 1414l17 -1M682 1413l14 -0M643 1780l-10 8M783 1758l8 18M573 1743l7 8M580 1751l7 9M694 1799l10 5M704 1804l11 5M843 1537l7 -13M515 1562l3 -11M711 1427l7 -12M518 1551l4 -11M522 1540l3 -10M857 1681l-4 11M591 1445l10 -7M601 1438l10 -6M739 1784l9 8M566 1475l11 -19M603 1775l-13 4M611 1432l11 -5M622 1427l11 -5M773 1788l-15 8M758 1796l-11 4M747 1800l-12 5M808 1739l-2 12M643 1780l-5 11M638 1791l-6 10M694 1799l-6 1M757 1427l17 9M677 1417l-6 -4M625 1431l8 -9M609 1791l-9 -6M600 1785l-10 -6M699 1426l-5 -13M695 1427l-1 -14M857 1543l3 10M842 1704l-3 18M804 1464l-11 11M793 1475l18 -9M525 1658l-12 -8M767 1775l6 13M549 1722l-2 12M603 1775l6 16M564 1503l-16 -15M676 1798l12 2M664 1795l7 10M632 1801l-11 -5M621 1796l-12 -5M845 1682l-2 11M526 1696l-4 -12M842 1704l6 -0M843 1660l20 2M518 1672l-3 -11M806 1751l19 -9M525 1658l-7 14M613 1788l10 8M525 1530l9 -19M534 1511l7 -12M541 1499l7 -11M614 1431l19 -9M694 1799l11 3M848 1704l-9 18M832 1732l-7 10M732 1425l6 -5M776 1779l15 -3M852 1583l15 6M849 1559l8 -16M671 1427l-0 -14M832 1524l18 0M545 1694l-19 2M623 1796l9 5M587 1760l-10 8M764 1765l12 14M525 1612l-16 -9M688 1800l8 11M822 1506l16 -5M856 1648l7 14M800 1740l6 11M735 1805l-20 4M549 1500l-1 -12M774 1436l10 8M784 1444l11 7M657 1800l-12 1M717 1806l-2 3M590 1779l-13 -11M783 1758l-7 21M587 1760l3 19M863 1564l2 12M600 1761l3 14M525 1612l-15 11M657 1800l14 5M827 1715l-1 14M826 1729l-1 13M513 1650l-2 -13M511 1637l-1 -14M594 1451l-3 -6M732 1425l7 13M732 1425l-2 12M566 1475l-5 -3M847 1671l16 -9M577 1474l-11 1M749 1779l-1 13M748 1792l-13 13M618 1440l-7 -8M538 1527l-13 3M650 1790l7 10M821 1490l-14 -8M758 1450l16 -14M566 1475l-9 6M557 1481l-9 7M618 1440l-12 6M704 1791l-10 8M613 1788l-4 3M861 1603l6 -14M664 1795l-7 5M548 1488l13 -16M519 1630l-9 -7M748 1792l10 4M562 1727l-13 -5M620 1782l3 14M561 1733l-14 1M724 1787l11 18M683 1413l11 -0M756 1778l-8 14M739 1438l-1 -18M696 1811l-13 -0M683 1811l-13 -1M811 1466l12 13M664 1795l-10 -7M614 1431l-3 1M868 1612l-0 -12M868 1600l-1 -11M732 1425l-14 -10M810 1728l15 14M618 1767l-5 21M787 1456l-6 -10M781 1446l-7 -10M748 1792l-12 -3M736 1789l-12 -2M795 1451l8 8M803 1459l8 7M835 1512l3 -11M545 1694l-12 17M686 1423l8 -10M577 1768l-15 -15M806 1751l-12 3M562 1753l-8 -9M554 1744l-7 -10M521 1586l-8 -12M808 1477l15 2M842 1704l-15 11M861 1603l7 9M566 1475l-1 14M724 1787l-7 19M868 1623l-1 11M519 1630l3 14M554 1498l-6 -10M657 1800l-7 7M717 1806l18 -1M867 1634l-2 14M865 1648l-2 14M547 1708l2 14M821 1490l17 11M827 1715l12 7M521 1586l-12 17M858 1627l9 7M561 1472l8 -8M569 1464l8 -8M594 1451l-17 5M600 1761l-10 18M657 1800l13 10M808 1761l-8 7M800 1768l-9 8M804 1464l7 2M791 1776l-9 6M782 1782l-9 6M694 1413l12 1M706 1414l12 1M849 1559l14 5M821 1490l2 -11M718 1415l20 5M767 1775l-10 9M757 1784l-9 8M670 1810l-20 -3M573 1743l-11 10M830 1490l8 11M623 1796l-14 -5M838 1501l6 12M849 1620l19 -8M547 1734l-7 -12M540 1722l-7 -11M533 1711l-7 -15M758 1439l-1 -12M694 1799l2 12M588 1460l-11 -4M787 1456l-14 -3M688 1800l-18 10M804 1464l-9 -13M519 1630l-6 20M575 1755l2 13M855 1642l4 -10M859 1632l5 -10M864 1622l4 -10M830 1736l-9 11M620 1771l-2 11M618 1782l-3 12M642 1805l-13 -6M511 1642l-1 -16M510 1626l-1 -16M555 1743l-10 -11M866 1604l-14 5M519 1674l-4 -16M515 1658l-4 -16M595 1756l-5 14M615 1430l15 -6M630 1424l15 -6M732 1792l3 13M731 1433l-1 -15M769 1765l10 6M779 1771l11 6M602 1763l-12 7M865 1589l-14 -1M558 1731l3 12M561 1743l3 11M758 1771l3 11M761 1782l3 11M801 1462l-7 11M588 1447l13 -8M601 1439l14 -9M695 1421l7 -8M801 1462l8 13M809 1475l8 13M777 1463l10 -18M519 1674l-1 -1M521 1593l-10 6M752 1789l12 4M858 1574l-0 -14M858 1560l-0 -15M811 1758l-10 9M801 1767l-11 10M669 1416l3 -3M537 1715l8 17M790 1777l-13 8M801 1462l-15 5M636 1802l-11 -4M619 1444l-4 -14M528 1557l-12 8M580 1770l-12 -11M810 1747l10 -6M820 1741l10 -5M695 1421l-12 -4M771 1451l-5 -11M554 1500l-9 -8M669 1416l-12 1M657 1417l-12 1M598 1453l-10 -6M549 1717l-12 -2M523 1609l-14 1M743 1424l-13 -6M516 1565l12 8M854 1614l14 -2M519 1674l17 1M693 1792l-11 9M826 1703l20 5M512 1577l3 -11M515 1566l2 -11M517 1555l3 -11M615 1794l-11 -7M604 1787l-11 -6M788 1764l2 13M548 1723l10 8M807 1733l3 14M645 1418l14 -2M516 1630l-5 12M568 1478l-2 -12M590 1770l-11 -5M579 1765l-11 -6M509 1610l1 -11M866 1645l-3 14M832 1492l7 11M516 1565l4 -21M639 1430l6 -12M669 1416l-6 11M526 1662l-7 12M701 1797l-1 14M822 1724l8 12M799 1754l12 4M801 1462l10 4M654 1785l-9 9M817 1488l15 4M516 1565l-4 12M656 1786l-7 9M735 1805l-12 2M723 1807l-11 2M712 1809l-12 2M699 1426l3 -13M868 1612l-1 16M867 1628l-1 17M865 1589l0 -13M855 1642l2 16M857 1658l2 16M850 1665l9 9M825 1483l7 9M545 1732l-8 -14M844 1544l14 1M842 1695l4 13M801 1462l-14 -17M540 1530l-9 -12M764 1793l-15 6M749 1799l-14 6M542 1702l-5 13M566 1481l0 -15M531 1518l7 -13M538 1505l7 -13M568 1759l-8 -9M560 1750l-7 -9M553 1741l-8 -9M574 1757l16 13M519 1674l6 15M525 1689l5 15M865 1589l2 11M867 1600l1 12M855 1642l11 3M558 1731l-13 1M636 1802l6 3M535 1543l-15 1M831 1719l-1 17M828 1503l4 -11M520 1544l5 -13M525 1531l6 -13M858 1545l4 16M862 1561l3 15M558 1731l8 13M566 1744l8 13M672 1413l15 0M687 1413l15 0M657 1808l-15 -3M585 1461l3 -14M568 1478l-2 3M859 1674l-4 11M851 1697l-5 11M845 1514l4 10M849 1524l5 11M854 1535l4 10M518 1673l-3 -15M515 1658l-4 -16M700 1811l-14 -0M686 1811l-14 -0M549 1506l-4 -14M822 1724l-6 11M590 1770l3 11M526 1641l-15 1M582 1475l-16 -9M858 1574l7 2M537 1715l-7 -11M633 1442l-18 -12M669 1416l11 9M724 1797l11 8M526 1579l-14 -2M867 1600l-1 -12M866 1588l-1 -12M544 1525l-13 -7M810 1747l1 11M530 1704l-4 -10M526 1694l-4 -10M522 1684l-4 -11M817 1488l-3 -11M814 1477l-3 -11M695 1421l-15 4M545 1492l7 -8M559 1475l7 -9M666 1788l3 11M669 1799l3 12M579 1459l9 -12M548 1712l-11 3M789 1462l12 -0M730 1418l15 5M774 1437l13 8M609 1764l-8 8M757 1430l-1 13M840 1524l5 -10M566 1481l-10 6M579 1459l3 16M757 1430l6 11M763 1441l7 11M579 1459l-13 7M702 1413l14 2M716 1415l14 3M574 1757l-6 2M511 1599l-2 11M522 1618l-13 -8M846 1708l-8 14" stroke="#303fa6" stroke-width="1.4" fill="none" stroke-linecap="round"/><path d="M565 1487l-7 -12M815 1734l11 -5M826 1729l11 -4M585 1758l-13 -4M572 1754l-13 -4M854 1583l3 -15M857 1568l3 -15M823 1499l13 -1M735 1786l11 5M746 1791l10 6M623 1443l-11 -2M612 1441l-11 -3M519 1591l-2 12M517 1603l-2 12M515 1615l-2 11M513 1626l-2 12M758 1773l14 -1M772 1772l13 -1M785 1771l14 -1M582 1747l3 11M665 1792l-13 15M698 1423l5 -10M539 1522l-13 5M824 1715l13 10M585 1758l6 10M591 1768l5 9M596 1777l6 10M539 1700l-12 -4M563 1737l-4 13M796 1756l3 14M849 1551l11 2M520 1630l-9 8M534 1687l-8 8M665 1792l-12 -5M850 1665l11 4M708 1424l-5 -11M596 1763l-11 -5M627 1780l8 9M635 1789l9 9M644 1798l8 9M698 1788l2 11M700 1799l2 12M748 1437l8 -10M772 1449l-8 -11M764 1438l-8 -11M665 1792l12 6M677 1798l12 7M689 1805l13 6M657 1427l-9 -9M807 1481l10 6M817 1487l9 5M826 1492l10 6M856 1614l12 1M834 1510l2 -12M535 1688l-8 8M526 1561l-7 10M519 1571l-8 10M588 1461l6 -12M594 1449l7 -11M856 1634l6 -10M862 1624l6 -9M641 1432l7 -14M523 1645l-12 -7M728 1432l14 -3M742 1429l14 -2M619 1772l-9 7M610 1779l-8 8M758 1773l-1 12M757 1785l-1 12M841 1683l10 -7M851 1676l10 -7M859 1594l4 10M863 1604l5 11" stroke="#303fa6" stroke-width="2.1" fill="none" stroke-linecap="round"/><path d="M842 1562l17 0M526 1663l9 19M669 1783l6 14M683 1785l-8 12M847 1538l-15 4M645 1781l11 10M724 1437l18 1M731 1779l-11 12M823 1696l7 20M855 1644l-6 9M683 1785l12 8M596 1757l4 5M600 1762l8 9M556 1485l12 6M752 1769l-6 12M798 1744l-10 13M534 1522l6 18M855 1552l-13 10M554 1722l13 5M761 1454l11 -1M847 1538l-11 12M700 1423l-8 13M630 1777l15 4M532 1630l-13 1M819 1493l-5 5M849 1653l-2 19M847 1538l-3 13M772 1453l18 8M808 1735l-10 9M747 1437l-5 1M860 1607l-11 9M640 1432l5 14M844 1630l18 1M790 1461l10 18M847 1647l8 -3M556 1485l12 18M800 1479l12 1M517 1644l12 2M832 1693l14 -1M567 1727l-2 11M681 1426l11 10M579 1478l-11 4M720 1776l0 15M535 1697l15 9M860 1579l-8 6M519 1553l17 3M550 1694l-15 3M800 1479l10 7M810 1486l9 7M747 1437l-3 4M847 1580l13 -1M540 1512l8 18M536 1556l-14 11M581 1465l-2 13M832 1693l6 8M811 1726l-3 9M610 1445l14 9M778 1754l5 10M752 1769l12 9M550 1706l4 16M567 1727l13 18M709 1427l7 15M610 1445l3 13M859 1562l-16 2M640 1432l19 -0M659 1432l16 3M520 1608l7 7M767 1765l-3 13M595 1466l-14 -1M617 1762l-2 17M519 1631l3 2M709 1427l15 10M584 1460l11 6M534 1522l14 8M823 1696l15 5M778 1754l10 3M742 1438l2 3M830 1716l-19 10M580 1745l16 12M847 1672l-4 6M772 1758l11 6M631 1433l3 21M783 1764l-16 1M859 1562l-12 18M521 1577l6 15M825 1722l-16 6M536 1670l-8 -11M842 1699l-11 -2M838 1537l-1 -11M682 1795l3 -13M527 1596l-5 -12M782 1459l-9 -4M761 1774l-0 -2M771 1762l-10 10M532 1649l-10 -17M528 1659l4 -10M857 1576l-6 -5M746 1782l15 -10M531 1608l-20 2M746 1782l-14 2M546 1537l-17 -6M809 1728l5 10M856 1546l-16 3M721 1791l3 -13M780 1759l-9 3M708 1795l-10 -9M682 1795l-8 -11M834 1517l-10 -5M714 1793l-5 -11M797 1755l-7 -5M825 1722l-3 -16M837 1526l-3 -9M632 1788l-6 -17M556 1714l-5 10M780 1759l10 -9M522 1584l7 -5M861 1605l-13 1M815 1483l-8 15M556 1518l-16 -4M522 1632l4 -10M632 1788l3 -15M854 1555l-14 -6M717 1437l-6 -11M569 1745l2 -19M556 1714l-10 -6M577 1473l18 -7M602 1455l-7 11M801 1474l-9 -8M792 1466l-10 -7M831 1697l11 -15M571 1726l-12 4M626 1771l-12 1M701 1434l-15 -10M851 1571l-6 -11M804 1741l-14 9M701 1434l-4 -13M840 1549l5 -10M543 1525l-3 -11M711 1426l-10 8M848 1584l9 -8M761 1774l10 -12M670 1795l-3 -11M556 1518l-14 -12M581 1740l-12 5M804 1741l5 -13M532 1564l-8 -1M530 1611l-19 -1M614 1768l-13 -3M529 1579l-5 -16M563 1503l-3 -14M842 1682l1 -20M704 1439l7 -12M541 1534l-10 10M821 1490l1 16M729 1775l10 9M830 1693l12 11M810 1728l-2 11M704 1439l-5 -13M521 1586l2 13M564 1713l-15 9M847 1671l-2 11M531 1544l1 11M594 1451l6 14M566 1475l12 9M850 1634l6 14M671 1440l-10 -12M550 1512l-1 -12M739 1438l10 6M589 1747l-2 13M618 1440l-9 12M714 1783l2 12M589 1747l-16 -4M588 1473l-11 1M827 1715l-17 13M526 1550l7 16M843 1660l4 11M807 1482l-14 -7M635 1441l-17 -1M714 1783l-10 8M618 1767l2 15M764 1765l-8 13M861 1603l-11 5M537 1675l-6 10M654 1788l-11 -8M832 1524l3 -12M677 1433l9 -10M519 1630l11 8M794 1754l-11 4M793 1475l15 2M618 1767l-15 8M545 1694l2 14M787 1456l6 19M849 1620l9 7M660 1784l4 11M758 1450l-0 -11M600 1465l-12 -5M531 1622l-12 8M628 1773l-6 10M638 1777l-1 13M582 1475l-16 6M729 1779l11 5M826 1703l5 16M608 1460l-10 -7M561 1719l-12 -2M786 1751l2 13M568 1478l14 -3M858 1574l-12 5M633 1442l6 -12M663 1427l-6 11M533 1651l-7 11M703 1782l-2 15M523 1609l-1 9M786 1751l13 3M695 1421l2 19M697 1440l2 -14M837 1682l5 13M547 1689l-5 13M826 1703l-4 21M545 1685l-8 10M777 1758l-8 7M823 1514l5 -11M582 1475l3 -14M680 1425l-2 12M566 1481l5 13M680 1425l-10 8M573 1733l0 12M769 1765l-11 6M858 1574l-12 -6M777 1463l12 -1M835 1534l5 -10M837 1682l11 -4M770 1452l7 11" stroke="#3143ad" stroke-width="1.4" fill="none" stroke-linecap="round"/><path d="M804 1739l11 -5M725 1781l10 5M635 1446l-12 -3M693 1434l5 -11M529 1566l-5 12M524 1578l-5 13M552 1518l-13 4M550 1705l-11 -5M568 1725l-5 12M793 1743l3 13M838 1549l11 2M674 1783l-9 9M529 1622l-9 8M542 1680l-8 7M653 1787l-11 -5M642 1782l-12 -5M630 1777l-11 -5M714 1434l-6 -10M619 1772l-12 -5M607 1767l-11 -4M619 1772l8 8M739 1447l9 -10M788 1470l-8 -11M780 1459l-8 -10M666 1436l-9 -9M530 1590l-11 1M788 1470l10 5M798 1475l9 6M831 1522l3 -12M543 1680l-8 8M533 1551l-7 10M574 1483l7 -11M581 1472l7 -11M850 1643l6 -9M635 1446l6 -14M596 1750l-11 8M767 1766l-9 7M714 1434l14 -2M666 1778l-1 14M831 1691l10 -8M854 1583l5 11M854 1583l-7 -9" stroke="#3143ad" stroke-width="2.1" fill="none" stroke-linecap="round"/><path d="M720 1776l11 3M521 1577l15 1M849 1653l-13 12M595 1466l1 3M539 1605l-19 3M724 1437l-8 5M617 1762l13 15M836 1665l7 13M744 1441l3 13M543 1669l-8 13M836 1534l-11 -3M532 1630l-10 3M772 1453l4 16M807 1488l7 10M540 1540l-4 16M814 1498l9 8M535 1682l15 12M790 1461l-14 8M706 1770l4 19M720 1776l-10 13M522 1567l14 2M527 1615l5 15M847 1647l2 6M701 1776l9 13M602 1454l11 4M548 1530l-8 10M536 1569l-15 8M744 1441l8 9M847 1580l5 5M761 1454l-2 5M550 1694l-0 12M624 1444l0 10M532 1630l-3 16M836 1524l-11 7M790 1461l-6 20M831 1514l-6 13M550 1706l16 6M843 1564l4 16M596 1469l-17 9M599 1749l-3 8M844 1630l3 17M566 1712l-12 10M832 1693l-9 3M843 1602l11 -0M692 1436l-17 -1M836 1665l11 7M778 1754l-6 4M742 1438l-9 8M701 1776l-6 17M754 1446l7 8M624 1444l10 10M599 1749l1 13M844 1630l11 14M831 1682l1 11M566 1712l1 15M551 1512l-3 18M786 1745l-8 9M772 1758l-5 7M744 1441l-11 5M642 1774l3 7M844 1551l-8 -1M669 1783l14 2M568 1503l-17 9M772 1453l-13 6M731 1773l-0 6M743 1767l-12 12M752 1769l15 -4M642 1774l-12 3M592 1743l4 14M786 1745l12 -1M809 1728l-7 -2M628 1449l-9 2M822 1706l9 -9M531 1608l-4 -12M794 1483l7 -9M659 1445l-6 -12M847 1627l9 -1M845 1581l6 -10M746 1782l-11 -17M571 1726l-15 -12M578 1490l-10 -7M722 1448l-1 -13M771 1762l-10 -4M804 1741l-16 -9M742 1452l4 -17M826 1527l8 -10M842 1682l-12 -13M581 1740l-10 -14M825 1722l-15 -11M589 1480l-12 -7M856 1592l-17 -0M742 1452l-7 -20M722 1448l13 -16M531 1608l-10 -8M601 1765l-2 -17M650 1445l-6 -10M849 1644l-2 -17M648 1778l-13 -5M553 1529l-13 -15M606 1751l-5 14M578 1490l-4 -17M556 1714l-5 -11M551 1703l-5 -10M778 1477l4 -18M526 1622l4 -11M843 1662l-1 -19M755 1447l-13 5M837 1526l-9 5M578 1490l-1 -17M599 1748l-18 -8M848 1606l8 -14M807 1498l-3 -12M546 1537l-12 2M533 1584l-11 0M820 1499l-13 -1M601 1470l1 -15M642 1448l2 -13M534 1635l-12 -3M708 1443l-7 -9M546 1537l-3 -12M532 1564l7 -14M546 1693l-5 -12M541 1681l-5 -11M856 1626l-8 -20M831 1697l-7 -9M804 1741l-2 -15M761 1460l-6 -13M546 1537l-8 -8M856 1626l-16 -12M709 1782l15 -4M626 1771l-12 -3M793 1475l4 13M814 1701l13 14M836 1549l7 -12M812 1714l-2 14M695 1441l-0 -14M542 1646l-17 12M836 1549l13 10M703 1779l11 4M618 1767l13 7M849 1620l1 14M521 1586l10 12M822 1506l10 18M657 1774l-14 6M720 1767l4 20M794 1730l6 10M545 1694l10 9M677 1433l-6 7M547 1542l-16 2M730 1437l-3 11M609 1452l-9 13M649 1770l-6 10M749 1767l-0 12M832 1524l2 12M551 1524l-13 3M543 1664l-13 4M550 1512l10 -3M635 1441l8 6M576 1732l-14 -5M850 1634l-4 13M603 1747l-3 14M847 1671l-14 5M688 1774l-0 13M570 1723l6 9M533 1566l-6 10M565 1489l-1 14M544 1679l1 15M599 1472l-11 -8M615 1460l-15 5M636 1771l7 9M849 1559l-6 10M589 1747l11 14M531 1544l11 5M836 1549l11 -3M772 1746l11 12M550 1512l1 12M845 1586l8 9M618 1440l11 15M780 1467l13 8M745 1439l-12 9M522 1618l9 10M835 1670l2 12M766 1754l3 11M531 1595l-8 14M733 1448l-2 -15M816 1500l-1 12M839 1554l10 10M539 1550l-11 7M651 1450l-18 -8M563 1507l-9 -7M651 1450l-3 -16M573 1721l-12 -2M811 1714l11 10M594 1475l-12 0M532 1610l-10 8M697 1440l11 -8M662 1777l-8 8M855 1600l-11 -4M761 1757l-3 14M662 1777l-6 9M840 1655l10 10M824 1529l10 -8M786 1751l-9 7M845 1634l10 8M729 1779l-13 2M716 1781l-13 1M553 1520l-4 -14M758 1771l-15 4M743 1775l-14 4M789 1740l-3 11M837 1682l-5 11M832 1693l-6 10M689 1432l8 8M670 1433l-10 8M573 1721l-0 12M750 1763l8 8M662 1777l4 11M573 1721l-15 10M617 1756l-8 8M703 1782l-14 -2" stroke="#3247af" stroke-width="1.4" fill="none" stroke-linecap="round"/><path d="M571 1498l-6 -11M793 1743l11 -4M618 1759l1 13M759 1762l-1 11M811 1501l12 -2M714 1776l11 5M714 1434l-10 7M579 1736l3 11M540 1541l-5 12M535 1553l-6 13M812 1705l12 10M561 1709l-11 -4M635 1446l-10 6M625 1452l-10 6M595 1471l-10 6M585 1477l-11 6M838 1662l12 3M696 1776l2 12M788 1470l4 11M854 1583l-9 6M758 1773l-13 -1M788 1470l-12 1M843 1612l13 2M829 1535l2 -13M540 1541l-7 10M844 1652l6 -9M631 1766l-12 6M535 1651l-12 -6M799 1731l-6 12M793 1743l-9 8M784 1751l-8 7M776 1758l-9 8M847 1574l-7 -9M758 1773l-8 -8" stroke="#3247af" stroke-width="2.1" fill="none" stroke-linecap="round"/><path d="M611 1466l-15 3M757 1750l-5 19M832 1542l4 8M536 1615l-4 15M825 1531l7 11M834 1584l18 1M843 1602l6 14M556 1524l-8 6M539 1605l-12 10M549 1557l-13 -1M613 1458l-2 8M759 1459l17 10M675 1435l-12 10M568 1491l12 6M836 1665l-5 17M823 1696l-13 16M805 1504l9 -6M579 1730l11 3M645 1446l-11 8M831 1682l-8 14M716 1442l6 3M613 1458l11 -4M752 1450l7 9M536 1578l-9 14M733 1446l8 11M543 1669l6 11M675 1435l-9 18M757 1750l15 8M752 1769l-9 -2M793 1720l15 15M793 1720l18 6M579 1478l13 9M847 1580l-13 4M547 1550l-11 6M825 1527l0 4M659 1771l10 12M740 1762l12 7M768 1746l4 12M645 1446l18 -1M550 1694l15 7M617 1762l11 -3M579 1478l1 19M776 1469l8 12M784 1481l16 -2M847 1647l-11 18M716 1442l-12 5M810 1712l1 14M536 1556l0 13M596 1469l-4 18M675 1435l11 12M814 1498l0 20M549 1680l1 14M541 1648l-12 -2M595 1466l16 -0M536 1615l-9 0M628 1759l2 18M689 1770l-6 15M802 1491l3 13M540 1591l-13 1M692 1436l-6 11M596 1469l11 4M836 1550l6 12M624 1454l-13 12M639 1758l-9 19M685 1782l2 -13M635 1773l6 -10M824 1512l-15 -9M839 1592l6 -11M530 1611l1 -3M735 1765l-11 13M531 1608l7 -13M836 1559l4 -10M532 1649l2 -14M771 1762l-7 -9M761 1772l-11 -17M790 1750l-2 -18M674 1784l-9 -11M635 1773l-8 -17M847 1627l-7 -13M802 1726l8 -15M824 1512l-13 6M581 1740l6 -16M822 1706l-12 5M724 1778l2 -11M809 1728l1 -17M697 1445l4 -11M742 1452l-20 -4M556 1714l12 -6M837 1560l3 -11M536 1612l-5 -4M562 1699l-16 -6M548 1661l-16 -12M722 1448l-5 -11M562 1692l-16 1M697 1445l-15 -5M851 1571l-17 0M556 1714l6 -15M544 1583l-15 -4M548 1661l-20 -2M698 1786l-11 -17M534 1635l1 -12M619 1460l9 -11M539 1550l7 -13M839 1592l9 -8M570 1714l-14 -0M571 1726l-1 -12M682 1440l-11 2M671 1442l-12 3M843 1662l-13 7M782 1459l-15 13M708 1443l-11 2M840 1549l-11 -6M822 1706l-12 -0M534 1635l-2 -12M767 1472l6 -17M545 1558l-13 6M543 1573l-11 -9M840 1612l9 8M720 1767l9 8M559 1699l5 14M780 1467l-11 9M814 1701l-2 13M758 1450l-7 11M811 1495l-10 6M554 1685l-9 9M577 1498l-13 5M810 1728l-16 2M691 1774l12 5M600 1465l-1 7M688 1774l3 13M836 1578l16 5M600 1465l14 4M836 1578l14 -7M555 1703l9 10M560 1509l-9 15M834 1634l16 -0M574 1711l2 21M793 1475l-8 12M682 1772l3 14M720 1767l-6 16M794 1730l-6 14M772 1746l-8 19M682 1772l-9 11M834 1536l2 13M622 1755l-4 12M836 1549l0 15M540 1611l-15 1M850 1608l-10 4M543 1664l-6 11M850 1634l-11 7M758 1450l0 12M530 1638l12 8M808 1713l2 15M591 1733l-15 -1M695 1441l-12 -1M683 1440l-12 -0M543 1664l1 15M643 1447l-14 8M704 1439l12 4M716 1443l11 5M828 1703l-14 -2M533 1566l6 17M832 1524l-7 10M629 1762l7 9M843 1569l-7 9M613 1751l-13 10M832 1524l-16 1M531 1628l9 11M786 1751l-12 -4M852 1609l-13 5M640 1765l-2 12M540 1581l-9 14M601 1741l-6 15M851 1588l-15 0M794 1473l-7 11M601 1741l-14 8M830 1544l9 10M786 1467l-14 5M550 1542l-11 8M528 1573l12 8M536 1675l16 1M605 1474l-11 1M735 1767l-6 12M540 1639l-7 12M537 1602l-14 7M804 1490l-12 3M552 1676l-5 13M552 1676l-7 9M550 1542l-15 1M826 1703l-13 1M582 1475l11 8M540 1639l-14 2M733 1448l-12 -3M721 1445l-12 -3M709 1442l-12 -2M660 1441l-9 9M540 1581l-14 -2M777 1463l-5 9M573 1721l9 7M837 1682l-12 1M569 1705l-10 4M689 1780l-13 -1M633 1442l2 16" stroke="#334ab0" stroke-width="1.4" fill="none" stroke-linecap="round"/><path d="M838 1662l-6 11M550 1546l-10 -5M761 1751l-2 11M540 1541l6 12M704 1441l-11 6M714 1434l-0 14M575 1725l4 11M688 1444l5 -10M565 1514l-13 4M640 1455l-5 -9M572 1713l-11 -4M572 1713l-4 12M827 1547l11 2M684 1774l-10 9M537 1614l-8 8M550 1672l-8 8M615 1458l-10 6M605 1464l-10 7M793 1743l-10 -5M635 1446l1 11M792 1481l3 11M745 1772l-13 -2M549 1533l-9 8M674 1445l-8 -9M574 1483l2 13M550 1672l-7 8M788 1470l-5 11M838 1662l6 -10M834 1651l4 11M805 1718l-6 13M607 1742l-11 8M585 1487l-11 -4M812 1705l10 -7M822 1698l9 -7M647 1448l-12 -2M840 1565l-6 -9" stroke="#334ab0" stroke-width="2.1" fill="none" stroke-linecap="round"/><path d="M590 1733l7 6M747 1454l3 13M784 1481l3 11M713 1760l7 16M731 1761l-11 15M645 1446l-2 13M832 1542l-15 1M550 1694l21 2M843 1564l-12 6M834 1584l9 18M689 1770l-14 1M624 1454l1 12M786 1726l11 5M532 1630l13 6M592 1487l-12 10M675 1771l-16 0M536 1569l9 4M614 1745l-15 4M536 1556l11 12M750 1467l9 -8M740 1762l3 5M844 1630l-15 1M808 1693l15 3M847 1647l-16 -4M558 1544l-18 -4M843 1564l-9 20M833 1654l3 11M565 1701l1 11M655 1449l11 4M614 1745l3 17M819 1683l4 13M568 1503l15 2M814 1518l11 9M782 1736l-14 10M731 1761l-0 12M634 1454l-4 12M716 1442l-7 15M596 1469l1 19M786 1726l6 9M648 1763l11 8M733 1446l4 13M805 1504l9 14M546 1638l-17 8M824 1558l19 6M842 1562l-18 -4M547 1568l-11 1M844 1630l-13 13M686 1447l18 0M568 1503l2 15M733 1446l-8 9M563 1678l-13 16M570 1518l-14 6M810 1712l-17 8M787 1492l18 12M731 1761l9 1M843 1602l-8 7M831 1682l-12 1M539 1605l-3 10M835 1609l14 7M836 1665l-11 5M689 1770l17 0M722 1445l-13 12M580 1716l-10 -2M735 1765l15 -10M810 1711l-0 -5M601 1487l-0 -17M842 1643l-11 -6M788 1493l-10 -16M543 1604l-12 4M802 1726l-8 -7M599 1748l-6 -12M593 1736l-6 -12M829 1647l13 -4M711 1455l-3 -12M601 1487l-12 -7M562 1699l-0 -7M687 1769l-22 4M587 1724l-16 2M807 1498l-19 -5M710 1775l-5 -12M627 1756l-13 4M715 1451l-7 -8M818 1537l3 -12M778 1477l-11 -5M657 1454l-7 -9M834 1571l3 -11M698 1772l-11 -3M562 1537l-16 0M830 1681l-12 -1M567 1515l-11 3M657 1454l2 -9M568 1708l-6 -9M828 1531l-10 6M631 1466l-12 -6M601 1487l-6 -21M578 1501l-0 -11M640 1461l-12 -12M810 1711l-16 8M552 1678l-4 -17M683 1457l-1 -17M544 1583l-11 1M535 1623l1 -11M640 1461l2 -13M775 1744l13 -12M615 1745l-16 3M589 1488l-11 2M631 1466l-3 -17M802 1726l-14 6M824 1688l-6 -8M843 1662l-14 -15M578 1512l-15 -9M829 1543l-11 -6M606 1751l9 -6M571 1726l9 -10M830 1669l-1 -11M839 1592l-5 -21M562 1537l-9 -8M566 1529l-10 -11M653 1443l6 14M599 1472l4 11M797 1488l4 13M727 1448l9 12M542 1646l1 18M836 1549l-10 7M829 1648l14 12M682 1772l6 2M553 1673l1 12M819 1682l11 11M599 1472l-5 10M594 1482l-5 10M589 1492l-12 6M836 1578l1 12M837 1590l2 11M839 1601l1 11M695 1441l13 13M671 1440l-4 15M546 1641l-14 -5M643 1447l2 12M553 1660l-10 4M574 1711l-10 2M655 1760l2 14M655 1760l-6 10M750 1755l-1 12M642 1761l-13 1M833 1676l-14 6M614 1473l-15 -1M836 1549l-7 10M568 1697l-4 16M548 1563l-15 3M539 1583l0 14M573 1508l-13 1M740 1449l2 11M589 1725l-13 7M548 1675l6 10M783 1738l-11 8M819 1544l17 5M682 1772l-12 1M542 1549l10 5M840 1612l-3 11M836 1578l9 8M543 1614l-12 8M833 1658l2 12M540 1639l4 12M548 1664l4 12M697 1440l-11 10M763 1742l3 12M558 1533l-8 9M625 1748l-12 8M663 1764l-1 13M573 1514l-10 -7M733 1448l-10 7M800 1705l11 9M651 1450l11 5M542 1602l-10 8M733 1448l10 10M694 1766l9 16M846 1579l-12 4M742 1756l-7 11M844 1596l-11 -4M763 1742l-2 15M706 1770l11 5M672 1770l-10 7M843 1644l-12 2M697 1440l-1 13M835 1626l10 8M733 1448l2 11M754 1469l18 3M582 1487l-0 11M797 1716l-4 12M550 1542l-3 13M547 1555l-4 13M543 1568l-3 13M591 1735l10 6M742 1756l8 7M755 1456l-1 13M765 1466l-11 3M772 1472l4 12" stroke="#354fad" stroke-width="1.4" fill="none" stroke-linecap="round"/><path d="M578 1509l-7 -11M832 1673l-7 11M825 1684l-7 11M818 1695l-6 10M618 1747l0 12M799 1503l12 -2M704 1770l10 6M572 1713l3 12M683 1454l5 -10M838 1662l-10 -5M693 1765l3 11M730 1456l9 -9M795 1492l4 11M845 1589l-9 7M732 1770l-13 -2M568 1517l-9 8M559 1525l-10 8M541 1590l-11 0M776 1471l-13 1M827 1547l2 -12M576 1496l2 13M644 1761l-13 5M546 1658l-11 -7M812 1705l-7 13M596 1490l-11 -3M668 1764l-2 14M671 1452l-12 -2M659 1450l-12 -2M834 1556l-7 -9M750 1765l-7 -8" stroke="#354fad" stroke-width="2.1" fill="none" stroke-linecap="round"/><path d="M843 1602l-14 6M547 1568l-2 5M737 1750l3 12M825 1531l-8 12M781 1491l6 1M553 1650l-9 12M676 1759l-1 12M580 1497l3 8M757 1750l-17 12M583 1505l-13 13M825 1527l-14 11M835 1609l5 11M784 1481l-3 10M697 1760l9 10M814 1518l-8 11M583 1501l0 4M704 1447l-6 11M793 1720l-7 6M671 1762l4 9M571 1696l-6 5M536 1578l18 12M611 1466l6 11M592 1487l5 1M825 1527l-19 2M819 1683l-11 10M741 1457l9 10M643 1459l-0 5M597 1739l17 6M803 1515l11 3M556 1524l2 20M731 1761l-18 -1M768 1746l-11 4M611 1466l14 13M639 1758l9 5M831 1643l2 11M614 1745l14 14M814 1675l17 7M545 1636l1 2M571 1696l-5 16M671 1762l-12 9M787 1492l2 7M805 1504l-2 11M686 1447l-20 6M592 1487l-9 14M558 1544l-11 6M761 1469l2 11M799 1701l11 11M627 1744l1 15M786 1726l-4 10M805 1504l-16 -5M808 1693l2 19M543 1669l20 9M704 1447l5 10M565 1665l-22 4M686 1447l3 11M824 1621l20 9M572 1525l-16 -1M639 1758l-11 1M818 1658l18 7M651 1752l8 19M544 1662l10 -7M551 1609l-15 6M634 1454l9 10M584 1702l-18 10M825 1531l-14 7M553 1650l-12 -2M592 1716l-2 17M666 1453l-11 3M655 1456l-12 3M776 1469l-13 11M713 1760l-7 10M722 1445l-5 18M580 1497l3 4M556 1524l12 8M563 1678l-14 2M607 1473l10 4M676 1759l13 11M784 1481l-21 -1M824 1597l19 5M540 1626l5 10M562 1692l-10 -14M837 1631l-6 -11M829 1553l-11 -16M641 1763l5 -10M788 1732l-14 1M742 1452l-20 8M549 1653l-8 -9M587 1724l-7 -8M538 1595l6 -12M830 1669l-11 -8M764 1753l-8 -8M839 1592l-12 -9M747 1472l-5 -20M830 1669l-13 2M695 1461l2 -16M818 1680l12 -11M735 1765l-7 -9M687 1769l7 -8M536 1612l9 -7M769 1487l9 -10M548 1661l1 -8M618 1480l-17 -10M726 1767l2 -11M557 1664l-9 -3M566 1529l-13 -0M832 1570l-3 -17M811 1518l-13 -3M829 1553l-13 -8M722 1460l-7 -9M810 1706l4 -13M814 1693l4 -13M618 1480l1 -20M719 1766l9 -10M544 1583l-1 -10M798 1515l9 -17M821 1562l8 -9M722 1460l-0 -12M831 1609l8 -17M578 1512l-11 3M788 1732l6 -13M775 1744l-19 1M756 1745l-6 10M657 1454l-17 7M750 1755l-22 1M834 1571l-2 -1M683 1457l-12 -6M552 1626l-16 -14M665 1773l-2 -11M575 1698l-13 1M794 1719l16 -13M640 1750l-13 6M818 1537l-7 -19M578 1512l-0 -11M775 1744l-14 -9M793 1504l-5 -11M840 1614l-9 6M670 1457l-13 -3M558 1553l-12 -16M631 1466l9 -5M767 1472l-20 0M665 1773l6 -15M697 1445l-14 12M577 1702l-9 6M670 1456l-13 -2M580 1716l-12 -8M788 1732l-8 -9M543 1573l8 -10M552 1626l-18 9M820 1693l-2 -13M552 1678l5 -14M736 1470l6 -18M663 1762l-14 6M601 1487l-12 1M627 1756l-12 -11M592 1503l-14 -13M809 1503l-11 12M840 1614l-9 -5M611 1485l-10 -15M829 1658l0 -11M747 1472l4 -12M558 1553l-13 5M779 1477l-2 11M778 1731l16 -1M831 1605l9 7M548 1602l-8 9M655 1760l14 6M669 1766l13 6M553 1660l0 13M701 1765l-10 9M688 1760l-6 12M751 1461l-7 10M754 1743l-4 12M819 1670l-0 12M631 1751l-2 11M834 1634l-5 14M674 1761l8 11M801 1501l-1 13M575 1505l11 2M546 1641l-4 5M614 1469l14 5M820 1658l14 7M563 1540l-16 2M836 1578l-10 6M778 1731l-6 15M696 1764l-14 8M819 1682l-5 19M629 1455l-1 19M840 1612l-11 6M540 1611l3 3M727 1448l-5 14M543 1614l1 13M544 1627l2 14M729 1757l-9 10M819 1682l-13 16M627 1742l2 20M655 1760l-13 1M547 1575l-8 8M606 1733l-3 14M573 1696l1 15M801 1501l-10 7M839 1641l-10 7M542 1646l11 14M539 1597l1 14M695 1441l-3 21M586 1507l-13 1M758 1462l-0 12M806 1698l8 3M806 1698l2 15M801 1501l-13 -1M789 1709l5 21M606 1733l-15 -0M761 1750l-11 5M825 1534l-6 10M750 1755l-15 6M735 1761l-15 6M837 1623l-3 11M832 1659l-12 -1M627 1742l-14 9M822 1568l14 10M772 1472l-6 10M625 1748l-2 11M540 1639l10 6M831 1646l2 12M544 1651l4 13M774 1747l-11 -5M641 1752l-7 11M681 1764l11 9M825 1659l6 11M641 1752l-1 13M641 1752l11 12M787 1484l-8 12M601 1741l12 4M613 1745l12 3M814 1524l-1 12M628 1472l-4 -14M552 1574l-12 7M570 1527l-12 6M813 1536l17 8M546 1617l-3 11M543 1628l-3 11M628 1472l-10 -6M614 1735l-13 6M616 1473l-11 1M800 1705l4 14M556 1663l-4 13M561 1544l-11 -2M743 1458l11 11M550 1542l13 10M552 1594l-15 8M590 1722l5 10M595 1732l6 9M694 1766l12 4M681 1764l-9 6M830 1544l-8 12M792 1493l-13 3M580 1702l-7 19M763 1742l-10 7M753 1749l-11 7M552 1676l9 9M813 1536l11 -7M813 1704l-13 1M813 1536l5 -11M593 1483l10 7M582 1498l-0 12M676 1448l-2 12M800 1705l-3 11M694 1766l-13 -2M742 1756l-12 2M706 1763l-12 3M630 1457l-2 15M651 1450l-7 11M825 1683l-12 1M834 1562l-12 -6M607 1731l-6 10M625 1748l-8 8" stroke="#3758ae" stroke-width="1.4" fill="none" stroke-linecap="round"/><path d="M565 1689l4 12M569 1701l3 12M561 1551l-11 -5M762 1740l-1 11M808 1694l4 11M693 1765l11 5M546 1553l6 12M827 1547l-9 7M693 1447l-10 7M584 1718l-12 -5M714 1448l-1 14M578 1509l-13 5M646 1465l-6 -10M812 1705l-11 -3M693 1765l-9 9M546 1605l-9 9M558 1664l-8 8M783 1738l-10 -4M827 1547l-12 -2M636 1457l1 12M719 1768l-13 -1M706 1767l-13 -2M578 1509l-10 8M683 1454l-9 -9M799 1503l7 11M806 1514l7 11M813 1525l7 11M820 1536l7 11M763 1472l-12 1M831 1610l12 2M827 1547l-2 13M558 1664l-8 8M783 1481l-5 11M579 1703l-7 10M812 1705l-12 6M830 1641l4 10M558 1664l-12 -6M683 1454l-12 -2" stroke="#3758ae" stroke-width="2.1" fill="none" stroke-linecap="round"/><path d="M769 1725l-1 21M635 1744l4 14M651 1752l-3 11M750 1467l1 14M563 1678l8 18M666 1453l-3 13M737 1750l20 -0M614 1745l13 -1M651 1752l-12 6M811 1538l6 5M583 1505l5 1M562 1557l-13 -0M554 1590l-15 15M606 1719l-9 20M635 1744l-7 15M831 1570l-12 6M676 1759l-5 3M831 1643l-13 15M625 1466l0 13M583 1501l12 5M651 1752l20 10M829 1631l2 12M553 1650l1 5M716 1754l-3 6M688 1750l1 20M643 1464l-9 7M545 1573l15 6M786 1726l-17 -1M808 1693l-9 8M579 1714l13 2M829 1608l6 1M562 1557l-15 11M686 1447l-5 15M592 1487l3 19M583 1501l5 5M666 1453l15 9M568 1532l-10 12M570 1518l2 7M597 1488l-2 18M545 1573l9 17M799 1701l-6 19M789 1499l14 16M572 1525l-4 7M716 1754l15 7M756 1735l1 15M814 1675l5 8M819 1576l15 8M617 1477l-10 6M607 1483l-10 5M643 1459l20 7M630 1466l-5 13M558 1544l4 13M737 1459l4 13M806 1529l5 9M588 1506l-18 12M803 1515l-11 -3M570 1518l11 4M712 1753l-6 17M737 1750l-6 11M725 1455l-8 8M750 1467l-9 5M756 1735l12 11M817 1543l7 15M763 1480l18 11M536 1615l20 6M803 1515l3 14M546 1638l7 12M781 1491l8 8M554 1590l-14 1M547 1568l13 11M592 1716l-12 6M835 1609l-11 12M539 1605l12 4M606 1719l-16 14M750 1467l13 13M769 1725l13 11M825 1670l-11 5M709 1457l8 6M834 1584l-10 13M666 1453l14 11M544 1662l21 3M821 1640l10 3M613 1726l-16 13M591 1718l-11 -2M756 1745l-10 -2M736 1470l-14 -10M554 1599l-10 -16M611 1485l7 -5M774 1733l-13 2M562 1537l4 -8M569 1675l-17 3M794 1719l-10 -7M839 1592l-19 6M562 1692l7 -17M831 1637l-10 -5M687 1769l-0 -11M615 1745l6 -11M554 1599l-11 5M557 1664l-8 -11M628 1477l3 -11M715 1468l-4 -13M666 1461l-9 -7M695 1461l6 -9M657 1462l-0 -8M687 1769l-16 -11M809 1687l9 -7M563 1575l-20 -2M695 1461l-12 -4M683 1459l-0 -2M640 1473l0 -12M592 1503l-14 9M558 1553l4 -16M794 1719l-12 -2M753 1482l14 -10M788 1493l-14 2M574 1694l-12 -2M728 1756l-14 -2M631 1466l-13 14M627 1756l6 -13M657 1462l-17 -1M648 1470l-8 -9M802 1528l9 -10M798 1515l-5 -11M683 1459l-13 -2M601 1734l1 -14M683 1457l-13 -1M566 1529l12 -17M671 1758l-8 4M551 1563l7 -10M756 1745l5 -10M781 1503l7 -10M633 1743l-18 2M611 1485l-10 2M810 1706l-10 -12M750 1755l-4 -12M816 1545l2 -8M549 1653l2 -14M794 1719l3 -12M764 1485l3 -13M587 1724l15 -4M818 1537l-13 -0M728 1756l9 -6M592 1503l9 -16M834 1571l-19 3M831 1620l-0 -11M638 1463l8 7M603 1483l4 11M553 1660l12 9M840 1612l-19 -1M736 1460l8 11M826 1556l-11 7M710 1756l10 11M708 1454l-16 8M574 1711l14 3M589 1492l-3 15M769 1476l-11 10M710 1756l-9 9M539 1583l18 11M806 1698l-17 11M783 1720l-5 11M820 1658l-1 12M606 1733l10 5M560 1654l-7 6M789 1709l10 10M554 1631l-8 10M565 1669l-11 16M785 1487l-9 12M645 1459l1 11M745 1740l5 15M710 1756l-14 8M682 1451l10 11M607 1494l-18 -2M829 1648l-9 10M627 1742l-5 13M650 1457l-4 13M554 1567l-7 8M811 1517l-12 10M708 1454l5 11M628 1474l-14 -1M829 1559l-7 9M571 1682l-3 15M738 1746l12 9M562 1559l-14 4M589 1492l5 17M759 1731l13 15M742 1460l2 11M560 1654l-18 -8M571 1682l-17 3M602 1717l-13 8M644 1750l11 10M557 1640l-11 1M809 1536l10 8M823 1636l6 12M546 1641l14 13M550 1604l-7 10M552 1554l10 5M816 1525l-17 2M805 1526l8 10M686 1450l-12 10M839 1614l-14 4M819 1647l6 12M754 1469l-16 2M663 1752l-0 12M836 1588l-14 -0M743 1744l-1 12M813 1536l4 10M817 1546l5 10M801 1685l12 9M800 1705l-9 9M791 1714l-9 9M782 1723l-10 10M772 1733l-9 9M828 1632l3 14M823 1635l8 11M582 1521l-9 -7M549 1605l-3 12M723 1455l-9 8M825 1618l15 -2M662 1455l12 5M628 1472l-12 1M552 1594l-10 8M559 1636l-19 3M834 1583l-12 5M831 1646l-12 1M580 1702l5 10M585 1712l5 10M833 1592l-11 -4M641 1752l-16 -4M733 1748l9 8M540 1581l12 13M561 1685l10 8M571 1693l9 9M696 1453l-0 13M754 1469l0 11M558 1533l15 12M825 1618l10 8M567 1678l-15 -2M735 1459l3 12M822 1556l-0 16M576 1508l6 13M730 1758l-12 3M718 1761l-12 2M644 1461l-7 12M580 1702l-11 3M635 1458l2 15M776 1484l3 12" stroke="#3b6cba" stroke-width="1.4" fill="none" stroke-linecap="round"/><path d="M558 1664l4 13M562 1677l3 12M618 1734l0 13M606 1729l-11 -5M595 1724l-11 -6M828 1657l-10 -6M799 1503l-14 -0M722 1466l8 -10M590 1508l-12 1M836 1596l-9 6M553 1589l-12 1M825 1560l-2 12M693 1765l-12 -7M578 1509l4 11M800 1711l-13 6M693 1461l-10 -7M656 1755l-12 6M826 1630l4 11M618 1734l-11 8M799 1503l-11 8M607 1493l-11 -3M743 1757l-8 -8" stroke="#3b6cba" stroke-width="2.1" fill="none" stroke-linecap="round"/><path d="M741 1472l10 9M751 1481l12 -1M773 1715l13 11M595 1506l-7 0M829 1631l-8 9M554 1590l-3 19M688 1750l-12 9M668 1748l3 14M821 1640l-3 18M563 1678l12 4M620 1735l7 9M789 1499l-8 10M562 1557l4 -5M558 1544l13 7M717 1463l12 5M729 1468l12 4M824 1597l5 11M763 1480l-11 4M688 1750l9 10M643 1464l-2 19M698 1458l-6 11M709 1457l8 13M568 1532l12 2M797 1527l9 2M741 1472l-5 5M712 1753l1 7M558 1640l-12 -2M597 1488l18 12M634 1471l-9 8M709 1457l-17 12M643 1464l6 10M730 1743l7 7M817 1543l-12 4M819 1576l5 21M568 1532l3 19M716 1754l-4 -1M575 1682l-4 14M763 1480l-3 13M819 1683l-19 -0M663 1466l-20 -2M813 1562l11 -4M617 1477l-1 12M824 1621l5 10M558 1544l8 8M779 1505l10 -6M717 1463l0 7M554 1655l11 10M635 1744l16 8M556 1621l-11 15M547 1568l16 3M817 1543l-4 19M824 1558l-5 18M829 1608l-5 13M668 1748l8 11M689 1458l3 11M799 1701l-14 5M571 1696l13 6M785 1706l1 20M785 1706l8 14M781 1491l-2 14M556 1621l-10 17M756 1735l-9 8M747 1743l-10 7M814 1675l-6 -1M717 1463l10 7M584 1702l8 14M781 1491l-21 2M572 1525l8 9M800 1683l8 10M635 1744l-8 0M814 1675l-14 8M818 1658l-4 17M625 1479l-8 -2M565 1665l-2 13M613 1726l1 19M681 1462l-1 2M663 1466l17 -2M803 1515l-6 12M551 1609l5 12M580 1685l-9 11M730 1743l1 18M602 1720l-11 -2M831 1620l-14 6M715 1468l7 -8M663 1762l6 -12M646 1753l6 -10M816 1545l-12 -4M821 1632l10 -12M687 1758l-18 -8M639 1485l-8 -19M577 1535l-11 -6M728 1756l-0 -10M561 1564l-3 -11M798 1515l-17 -12M827 1583l-12 -9M695 1461l-12 -2M817 1671l-12 2M671 1758l-2 -8M715 1468l-20 -7M694 1761l7 -9M675 1468l-18 -6M545 1605l9 -6M582 1684l-20 8M675 1468l-9 -7M589 1515l-11 -3M557 1664l6 -17M705 1763l-4 -11M761 1735l5 -10M615 1745l-2 -17M582 1528l-4 -16M831 1609l-11 -11M800 1694l9 -7M683 1459l-8 9M818 1680l-13 -7M604 1500l-12 3M814 1572l7 -10M829 1647l-8 -15M552 1626l1 -14M553 1612l1 -13M832 1570l-18 2M580 1716l7 -20M811 1558l5 -13M736 1470l-21 -2M544 1583l19 -8M714 1754l-13 -2M604 1500l7 -15M795 1526l3 -11M587 1696l-12 2M577 1535l-15 2M800 1694l1 -5M815 1558l1 -13M815 1574l17 -4M561 1584l-17 -1M818 1680l-17 9M747 1472l-11 -2M587 1696l-10 6M687 1758l-16 -0M817 1626l14 -17M829 1647l-20 5M557 1636l-5 -10M753 1482l-6 -10M582 1528l-16 1M604 1500l-3 -13M551 1639l1 -13M797 1707l3 -13M761 1735l-15 8M571 1557l-9 -20M563 1647l-14 6M701 1752l-14 6M737 1750l9 -7M663 1762l-11 -19M569 1675l-12 -11M687 1758l6 -7M606 1738l7 -10M777 1488l-1 11M659 1457l5 13M822 1568l-4 11M744 1471l14 15M823 1597l8 8M557 1594l-9 8M592 1703l-18 8M588 1714l14 3M805 1668l14 14M789 1709l-6 11M759 1731l-5 12M633 1739l-2 12M806 1698l-12 1M560 1654l5 15M665 1749l9 12M800 1514l-1 13M616 1738l11 4M633 1739l-6 3M806 1698l-10 -5M563 1540l-1 19M602 1717l4 16M834 1634l-17 -10M667 1455l-3 15M665 1749l-10 11M594 1509l-8 -2M819 1544l-4 19M829 1618l-12 6M780 1715l-2 16M778 1731l-19 -0M791 1508l8 19M563 1540l8 9M806 1683l-0 15M628 1474l-11 10M617 1484l-10 10M738 1746l-9 11M562 1559l-8 8M829 1648l-21 3M776 1499l15 9M586 1507l-3 21M573 1534l-10 6M571 1682l2 14M815 1563l7 5M769 1722l9 9M758 1474l-0 12M819 1544l-8 8M583 1528l-16 -2M788 1500l-12 -1M692 1462l-14 4M646 1470l-18 4M633 1739l11 11M819 1544l-14 -2M562 1622l-19 -8M799 1527l10 9M745 1740l-7 6M619 1734l8 8M572 1518l11 10M557 1594l-7 10M610 1725l-4 8M565 1669l6 13M738 1746l-14 5M724 1751l-14 5M744 1471l-13 3M766 1482l-5 11M779 1496l9 10M788 1506l8 10M796 1516l9 10M779 1496l1 11M550 1645l10 5M744 1732l19 10M738 1471l4 9M672 1752l9 12M791 1695l9 10M637 1473l-9 -1M652 1746l-11 6M825 1618l3 14M627 1728l-2 20M801 1685l-1 20M563 1568l-11 6M674 1460l-12 4M662 1464l-13 5M649 1469l-12 4M582 1521l-12 6M628 1472l-7 12M813 1536l-5 11M552 1594l-3 11M674 1460l11 9M552 1594l2 14M560 1650l-4 13M822 1588l1 15M823 1603l2 15M573 1545l-12 -1M698 1752l-4 14M685 1750l-4 14M692 1751l2 15M760 1727l3 15M580 1691l-0 11M813 1536l-15 2M754 1469l-12 11M582 1510l-0 11M822 1572l-0 16M628 1472l2 14M634 1740l7 12M800 1705l-14 2M822 1556l-5 11M813 1684l-12 1" stroke="#408fce" stroke-width="1.4" fill="none" stroke-linecap="round"/><path d="M565 1655l-7 9M763 1729l-1 11M804 1682l4 12M552 1565l6 12M589 1514l-11 -5M618 1734l-12 -5M651 1475l-5 -10M801 1702l-11 -3M683 1454l-4 13M555 1597l-9 8M773 1734l-10 -5M696 1753l-3 12M815 1545l-12 -2M637 1469l1 12M751 1473l-13 1M818 1609l13 1M823 1572l-1 12M681 1758l-12 -8M778 1492l-6 11M787 1717l-12 6M775 1723l-12 6M703 1468l-10 -7M669 1750l-13 5M822 1619l4 11M559 1652l-1 12M669 1750l-1 14" stroke="#408fce" stroke-width="2.1" fill="none" stroke-linecap="round"/><path d="M773 1715l-4 10M680 1464l-7 11M814 1607l10 14M661 1739l-10 13M563 1571l-3 8M800 1683l-1 18M779 1505l2 4M554 1590l4 -1M625 1479l3 12M730 1743l-14 11M613 1726l7 9M565 1665l13 13M570 1643l-17 7M680 1464l11 11M821 1640l-10 13M553 1650l14 1M584 1702l15 2M632 1733l-5 11M797 1527l0 9M810 1627l19 4M717 1470l19 7M813 1562l6 14M781 1509l8 9M789 1518l8 9M562 1557l1 14M681 1462l11 7M578 1678l-3 4M571 1551l-5 1M751 1481l-15 -4M811 1653l7 5M578 1678l-15 0M571 1551l-9 6M688 1750l12 2M700 1752l12 1M744 1735l12 0M752 1484l8 9M562 1557l5 11M616 1489l-1 11M692 1469l13 1M705 1470l12 -0M572 1525l20 1M731 1734l6 16M637 1732l-2 12M568 1532l9 14M751 1481l1 3M808 1674l-8 9M615 1500l-20 6M560 1579l-6 11M806 1667l8 8M575 1682l5 3M736 1477l16 7M652 1737l-17 7M663 1466l-14 8M727 1470l9 7M592 1716l14 3M606 1719l7 7M756 1723l0 12M715 1743l-3 10M786 1699l-1 7M760 1493l9 6M769 1499l10 6M786 1699l13 2M792 1512l-11 -3M785 1706l-12 9M632 1733l3 11M617 1477l11 14M806 1667l2 7M811 1538l-8 7M567 1651l-2 14M556 1621l7 11M769 1725l-13 10M797 1536l14 2M599 1704l-7 12M806 1529l-9 7M688 1750l-20 -2M588 1506l4 20M560 1579l-2 10M567 1651l-13 4M580 1685l4 17M625 1479l16 4M814 1607l15 1M692 1469l-12 -5M651 1752l17 -4M652 1737l-1 15M818 1658l-12 9M824 1597l-10 10M554 1590l9 7M582 1684l-13 -9M652 1743l-19 0M801 1689l4 -16M800 1694l-12 6M753 1482l-15 3M728 1756l-10 -16M669 1750l-17 -7M784 1712l-9 -7M756 1496l-3 -14M816 1545l-14 2M571 1557l-13 -4M563 1575l-2 -11M678 1476l5 -17M665 1474l10 -6M819 1661l-10 -9M783 1519l-2 -16M746 1743l-18 3M625 1489l3 -12M761 1735l-5 -9M577 1535l5 -7M815 1642l6 -10M761 1497l8 -10M820 1598l-2 -12M818 1586l-3 -12M821 1632l-4 -6M766 1725l5 -11M746 1743l10 -17M698 1472l-3 -11M701 1752l-8 -1M601 1518l-9 -15M655 1480l2 -18M625 1489l-7 -9M639 1485l1 -12M782 1717l-11 -3M761 1497l-8 -15M831 1609l-19 -7M774 1495l-13 2M746 1743l-7 -12M728 1481l8 -11M587 1696l-13 -2M573 1655l-16 9M655 1480l-7 -10M652 1743l-12 7M793 1537l9 -9M574 1546l3 -11M781 1503l-20 -6M814 1572l1 -14M604 1500l10 -6M602 1720l-7 -12M595 1708l-8 -12M646 1736l-13 7M563 1647l-6 -11M780 1723l-9 -9M738 1485l-2 -15M613 1728l-11 -8M554 1599l7 -15M562 1597l-8 2M738 1485l9 -13M761 1497l3 -12M687 1758l-2 -16M800 1694l-9 -10M815 1574l-1 -2M678 1476l17 -15M783 1519l15 -4M625 1489l-14 -4M818 1579l-3 11M573 1660l-8 9M815 1590l8 7M791 1508l-4 21M695 1748l-7 12M628 1474l-1 14M776 1499l-5 4M759 1731l-14 9M562 1559l7 9M628 1724l-1 18M571 1682l11 11M582 1693l10 10M758 1486l-22 -4M577 1539l-6 10M710 1744l-0 12M820 1658l-15 10M758 1486l9 6M767 1492l9 7M607 1494l2 11M821 1611l-4 13M610 1725l-8 -8M692 1462l-10 12M799 1527l6 15M594 1509l-11 19M562 1622l-8 9M705 1470l-13 -8M781 1700l8 9M607 1494l-13 15M822 1568l-15 -1M826 1584l-11 6M791 1508l-20 -5M562 1559l-2 12M560 1571l-1 11M559 1582l-2 12M808 1651l12 7M805 1668l1 15M722 1462l-5 15M713 1465l4 12M583 1528l-10 6M628 1474l8 10M592 1703l10 14M646 1470l-1 11M724 1739l14 7M571 1549l-9 10M758 1486l13 17M665 1749l-11 -3M654 1746l-10 -3M644 1743l-11 -4M678 1466l-14 4M705 1745l5 11M664 1470l-18 0M817 1624l6 12M610 1725l9 9M744 1471l-8 11M557 1594l2 14M738 1471l-15 3M587 1694l-7 8M816 1624l2 12M818 1636l1 11M810 1640l9 7M744 1732l-1 12M560 1583l-8 11M637 1473l14 4M674 1460l2 12M582 1521l-5 12M577 1533l-4 12M816 1624l7 11M621 1484l-7 13M560 1650l7 10M559 1636l1 14M714 1463l-10 8M627 1728l-13 7M812 1577l10 11M554 1608l2 14M556 1622l3 14M593 1705l-13 -3M603 1505l-11 8M592 1513l-10 8M779 1496l-12 3M819 1647l-6 13M813 1660l-6 12M807 1672l-6 13M563 1592l-11 2M552 1594l8 11M724 1740l9 8M819 1647l-11 6M825 1618l-9 6M754 1480l1 12M603 1490l11 7M825 1618l-10 -6M637 1473l-3 14M581 1680l-14 -2M627 1728l7 12M803 1558l19 -2M817 1567l-5 10M614 1721l-7 10M738 1471l-7 9" stroke="#48b4e3" stroke-width="1.4" fill="none" stroke-linecap="round"/><path d="M571 1556l-10 -5M571 1664l-13 0M558 1577l6 12M669 1750l-13 -4M656 1746l-13 -4M643 1742l-12 -4M631 1738l-13 -4M818 1554l-8 8M713 1462l0 14M564 1589l-9 8M785 1503l-13 -0M713 1476l9 -10M602 1507l-12 1M827 1602l-9 7M564 1589l-11 0M738 1474l-12 1M822 1584l-2 12M820 1596l-2 13M625 1726l-7 8M586 1693l-7 10M582 1520l4 10M818 1609l4 10M618 1497l-11 -4M561 1627l-1 12M560 1639l-1 13M616 1722l2 12M735 1749l-8 -8" stroke="#48b4e3" stroke-width="2.1" fill="none" stroke-linecap="round"/><path d="M599 1704l7 15M595 1506l14 6M571 1576l-11 3M797 1670l11 4M570 1608l-14 13M752 1484l-10 8M810 1635l1 18M773 1715l-17 8M692 1469l-1 6M800 1683l-14 16M779 1505l-8 4M580 1685l15 9M595 1506l-3 20M736 1477l-2 11M641 1483l-13 8M771 1509l10 0M641 1483l7 -2M760 1493l11 16M674 1740l14 10M571 1551l6 -5M729 1733l1 10M661 1739l7 9M572 1604l-21 5M595 1506l8 19M805 1575l14 1M736 1477l-4 11M570 1643l-12 -3M808 1614l16 7M649 1474l-8 9M717 1470l1 8M718 1478l18 -1M731 1734l-1 9M556 1621l11 1M813 1562l-8 13M570 1643l-3 8M810 1627l11 13M819 1576l-8 15M704 1737l8 16M731 1734l13 1M797 1670l3 13M649 1474l-1 7M578 1678l2 7M663 1466l-3 15M756 1723l13 2M628 1491l-13 9M610 1710l-4 9M824 1621l-14 6M620 1718l-7 8M811 1591l13 6M810 1635l11 5M663 1466l4 19M649 1474l11 7M637 1732l-5 1M571 1551l-4 17M620 1718l-14 1M581 1522l11 4M613 1726l19 7M563 1632l7 11M680 1464l2 19M674 1740l-6 8M811 1653l-5 14M806 1667l-9 3M581 1661l-16 4M592 1526l-12 8M781 1509l1 16M563 1571l4 -3M580 1534l-3 12M717 1470l-15 12M752 1484l-1 13M719 1732l-3 22M551 1609l19 -1M595 1694l-11 8M797 1527l-15 -2M788 1700l-13 5M804 1541l-11 -4M678 1476l-3 -8M571 1569l0 -12M685 1742l-16 8M771 1714l4 -9M589 1531l-7 -3M791 1684l14 -11M568 1613l-14 -14M701 1752l17 -12M601 1518l3 -18M621 1734l7 -11M655 1480l10 -6M781 1503l-19 10M778 1524l3 -21M728 1746l-10 -6M809 1652l6 -10M693 1751l-8 -9M601 1518l-12 -3M589 1531l-12 4M771 1714l-3 -1M587 1696l-5 -12M552 1626l16 -13M633 1743l-5 -20M561 1584l2 -9M628 1723l-15 5M821 1632l-14 1M573 1655l-10 -8M602 1720l-0 -15M814 1572l-9 -2M812 1602l8 -4M805 1570l6 -12M756 1726l-17 5M801 1689l-10 -5M793 1537l2 -11M583 1545l-6 -10M571 1557l3 -11M701 1752l-5 -11M728 1746l11 -15M562 1597l-1 -13M614 1494l11 -5M569 1675l4 -20M771 1714l-15 12M805 1673l4 -21M701 1752l3 -13M715 1468l-13 14M601 1518l-19 10M718 1480l-3 -12M815 1574l-10 -4M563 1647l5 -18M652 1743l9 -7M793 1537l-10 -18M613 1728l3 -15M761 1497l-5 -1M756 1726l12 -13M706 1484l9 -16M805 1537l-12 -0M655 1480l-16 5M563 1575l8 -18M568 1629l-16 -3M616 1713l-14 7M817 1626l-3 -12M639 1485l-14 4M756 1496l-18 -11M808 1651l-3 17M607 1494l20 8M572 1566l-10 -7M805 1668l-10 5M738 1726l7 14M589 1688l3 15M574 1649l-14 5M557 1594l10 12M755 1718l4 13M585 1672l-14 10M677 1745l-12 4M815 1563l-13 -4M754 1499l17 4M771 1503l8 13M610 1708l-8 9M583 1528l2 11M812 1603l9 8M758 1486l-10 6M646 1470l6 18M794 1699l-13 1M583 1528l-6 11M759 1731l-21 -5M796 1693l-10 -4M817 1624l-4 14M813 1638l-5 13M645 1734l-12 5M787 1529l18 13M717 1477l-12 -7M821 1611l-11 -4M738 1726l-0 20M799 1527l-12 2M781 1700l-1 15M610 1725l18 -1M585 1672l-20 -3M594 1509l10 9M815 1590l6 21M566 1586l-9 8M569 1638l-9 16M760 1713l9 9M615 1712l-5 13M811 1552l-9 7M805 1542l-3 17M664 1470l-12 18M815 1563l-8 4M628 1724l5 15M569 1638l-12 2M692 1462l5 21M670 1738l-5 11M805 1542l-13 3M758 1486l-4 13M807 1567l4 11M811 1578l4 12M571 1549l6 12M717 1477l19 5M662 1739l3 10M559 1608l3 14M731 1474l-14 3M594 1509l6 10M794 1675l7 10M614 1497l-4 11M780 1507l1 11M723 1474l-14 2M663 1739l9 13M663 1739l-11 7M663 1739l-0 13M567 1572l-7 11M651 1477l14 4M639 1732l-12 -4M742 1480l-4 12M581 1680l6 14M575 1561l-12 7M808 1547l-5 11M567 1660l7 10M574 1670l7 10M822 1588l-14 6M568 1639l-8 11M742 1480l7 11M742 1480l-11 8M704 1471l-9 8M685 1469l10 10M607 1708l-14 -3M614 1497l-11 8M563 1552l12 9M702 1738l-4 14M803 1558l9 19M689 1737l3 14M587 1538l-14 7M587 1694l11 6M696 1466l-1 13M581 1680l-1 11M801 1685l-14 -5M571 1649l-11 1M786 1707l-14 3M573 1545l2 16" stroke="#56c6df" stroke-width="1.4" fill="none" stroke-linecap="round"/><path d="M571 1646l-6 9M799 1671l5 11M772 1503l-12 -6M760 1497l-11 -5M725 1481l-12 -5M600 1519l-11 -5M818 1651l-10 -5M657 1485l-6 -10M790 1699l-11 -4M678 1742l-9 8M679 1467l-4 12M698 1741l-2 12M803 1543l-12 -2M756 1717l7 12M638 1481l1 11M763 1729l-12 -2M726 1475l-13 1M713 1476l-10 -8M666 1739l3 11M788 1511l-11 8M564 1589l-1 12M563 1601l-1 13M562 1614l-1 13" stroke="#56c6df" stroke-width="2.1" fill="none" stroke-linecap="round"/><path d="M691 1475l11 7M673 1475l-6 10M760 1706l13 9M567 1651l14 10M719 1732l11 11M780 1684l6 15M610 1710l10 8M718 1478l-16 4M558 1589l14 15M771 1509l11 16M641 1483l-1 11M637 1732l15 5M797 1527l-14 12M581 1661l-3 17M745 1720l11 3M660 1481l-12 -0M813 1562l-17 -1M567 1622l3 21M729 1733l2 1M718 1478l5 11M580 1559l-13 9M599 1704l11 6M756 1506l15 3M595 1694l4 10M604 1700l6 10M587 1668l-7 17M604 1700l-5 4M768 1702l17 4M760 1493l-4 13M692 1469l10 13M805 1547l-11 5M805 1575l6 16M811 1653l-11 1M652 1737l9 2M661 1739l13 1M587 1668l-9 10M576 1592l-18 -3M756 1723l-12 6M744 1729l-13 5M599 1533l-19 1M693 1737l-5 13M595 1694l9 6M580 1534l7 12M579 1650l-12 1M808 1614l2 13M587 1546l-10 0M810 1627l-0 8M704 1737l-16 13M571 1551l9 8M811 1653l-11 4M615 1500l5 5M691 1475l2 9M768 1702l5 13M560 1579l16 13M648 1481l-8 13M797 1536l-3 16M794 1552l19 10M577 1546l3 13M719 1732l-4 11M776 1687l10 12M691 1475l-9 8M628 1491l12 3M797 1536l-14 3M803 1545l-9 7M814 1607l-6 7M780 1684l20 -1M563 1571l20 2M786 1699l-18 3M628 1491l-8 14M615 1500l-6 12M811 1591l3 16M620 1718l12 15M677 1736l11 14M718 1478l-6 10M563 1597l9 7M570 1608l-3 14M752 1484l4 22M636 1497l-11 -8M595 1686l-13 -2M756 1726l-11 -11M571 1581l0 -12M802 1547l-15 1M690 1479l-12 -3M621 1508l4 -19M756 1726l-3 -12M585 1560l-14 -3M578 1641l-15 6M820 1598l-17 -13M817 1626l-10 -9M568 1613l-6 -16M571 1581l-8 -6M702 1482l-4 -10M571 1581l-10 3M775 1705l-7 8M587 1696l8 -10M783 1519l-5 5M809 1652l-2 -19M602 1691l-15 5M718 1740l10 -4M728 1736l11 -5M762 1513l-6 -17M669 1750l0 -21M670 1483l8 -7M678 1476l-11 2M667 1478l-12 2M762 1513l-1 -16M693 1751l-3 -20M621 1508l-17 -8M805 1673l-12 -8M650 1488l-11 -3M756 1496l-15 2M809 1652l-16 13M590 1669l-21 6M652 1743l6 -15M793 1537l-15 -13M636 1497l3 -12M562 1597l9 -16M568 1629l-0 -16M589 1531l12 -13M807 1633l10 -7M628 1723l-12 -10M815 1574l-12 11M814 1614l-2 -12M775 1705l8 -10M783 1695l8 -11M815 1590l-11 6M717 1477l-20 6M595 1528l-12 -0M585 1672l4 16M808 1651l-14 10M701 1735l-6 13M689 1740l-12 5M627 1488l-0 14M779 1516l8 13M569 1568l6 9M736 1482l2 16M711 1732l-1 12M736 1482l-21 1M609 1505l2 11M682 1474l-10 11M562 1622l7 16M599 1694l-7 9M771 1503l-4 10M575 1577l-9 9M771 1503l-12 8M805 1668l-15 5M636 1484l8 9M586 1550l-15 -1M645 1481l-1 12M711 1732l13 7M807 1567l-1 15M817 1624l-15 5M701 1735l4 10M606 1701l-14 2M802 1559l5 8M809 1614l8 10M794 1661l11 7M664 1470l8 15M781 1700l-15 2M717 1477l-2 6M637 1719l-4 20M761 1493l-6 10M610 1508l-5 11M781 1518l1 11M709 1476l-14 3M783 1685l8 10M816 1624l-12 0M575 1561l-8 11M676 1472l3 12M663 1739l13 -1M663 1739l-12 -3M651 1736l-12 -4M805 1612l11 12M749 1491l6 12M748 1717l-4 15M767 1499l-12 4M689 1737l-4 13M620 1711l7 17M793 1549l10 9M575 1590l-12 2M560 1605l8 11M573 1545l9 11M744 1732l-13 -2M598 1700l11 5M632 1500l-18 -3M715 1732l9 8M808 1653l-10 6M758 1712l2 15M585 1669l-4 11M755 1492l0 11M798 1538l-15 3M751 1722l-7 10M815 1612l-11 -6M634 1487l-2 13M582 1521l19 9M576 1627l-17 9M636 1722l-9 6M630 1486l2 14M772 1710l-14 2M803 1558l-3 14M812 1577l-9 12M620 1711l-6 10M599 1688l-12 6M731 1480l-8 8M614 1497l8 9" stroke="#69c8c2" stroke-width="1.4" fill="none" stroke-linecap="round"/><path d="M818 1609l-10 9M582 1561l-11 -5M583 1664l-12 0M795 1659l4 12M749 1492l-12 -6M737 1486l-12 -5M810 1562l-9 7M713 1476l-11 7M713 1476l1 12M575 1596l-11 -7M615 1506l-13 1M818 1609l-13 -3M751 1727l-12 -3M577 1583l-13 6M632 1718l-7 8M593 1683l-7 10M586 1530l4 10M772 1503l-11 4M629 1500l-11 -3M772 1503l-5 10M614 1710l2 12M727 1741l-8 -8" stroke="#69c8c2" stroke-width="2.1" fill="none" stroke-linecap="round"/><path d="M760 1706l-4 17M702 1482l10 6M581 1661l6 7M609 1512l-6 13M695 1732l-18 4M796 1561l9 14M583 1573l-12 3M811 1591l-8 10M643 1719l9 18M742 1492l-10 8M805 1575l-7 -1M695 1732l9 5M771 1509l-8 17M734 1488l-2 12M643 1719l-6 13M667 1729l-15 8M660 1481l-4 16M797 1622l13 5M609 1512l6 7M732 1488l-3 11M797 1670l-17 14M788 1661l18 6M667 1729l7 11M570 1643l9 7M729 1733l-10 -1M783 1539l11 13M660 1481l7 4M618 1702l-8 8M682 1483l-15 2M572 1604l2 11M768 1702l-8 4M751 1713l5 10M579 1650l2 11M667 1729l-6 10M782 1525l-8 8M572 1604l-2 4M610 1693l-0 17M794 1552l2 9M795 1641l16 12M600 1677l-5 17M805 1575l-6 12M760 1704l8 -2M574 1633l5 17M677 1736l-3 4M782 1525l1 14M620 1505l-11 7M600 1677l-20 8M610 1693l-15 1M643 1719l-11 14M667 1729l10 7M599 1533l-12 13M776 1687l-8 15M567 1568l16 5M574 1633l-4 10M682 1483l11 1M702 1482l-9 2M693 1737l11 -0M719 1732l-15 5M788 1661l9 9M810 1635l-15 6M587 1546l-7 13M814 1607l-20 4M734 1718l-3 16M592 1526l7 7M648 1481l8 16M574 1615l-7 7M567 1622l7 11M677 1736l16 1M695 1732l-2 5M751 1497l-2 13M811 1591l-12 -4M631 1718l-11 -0M603 1525l-11 1M628 1491l-1 19M734 1718l-5 15M570 1608l4 7M791 1684l2 -19M807 1633l-5 -13M580 1590l-18 7M578 1641l-10 -12M628 1723l-1 -13M726 1500l12 -15M702 1482l-12 -3M571 1581l7 -11M602 1691l-7 -5M739 1731l-3 -13M793 1537l-19 -1M787 1548l6 -11M573 1655l5 -14M601 1518l10 -5M611 1513l10 -5M791 1684l-9 -10M775 1705l-13 -1M807 1633l-9 6M592 1662l-19 -7M602 1540l-13 -9M649 1494l-13 3M636 1497l-15 11M580 1607l-18 -10M573 1655l12 -5M791 1684l-7 -10M738 1485l-17 7M718 1740l0 -14M805 1570l-9 -11M796 1559l-9 -11M590 1544l-1 -13M778 1524l-16 -11M685 1742l-16 -13M662 1491l-7 -11M602 1705l-0 -14M812 1602l-9 -17M739 1731l-21 -5M791 1684l-17 1M685 1742l5 -11M662 1491l8 -8M658 1728l-15 -2M643 1726l-15 -3M721 1492l7 -11M590 1669l-17 -14M718 1740l-11 -14M683 1491l-5 -15M803 1585l2 -15M696 1741l-6 -10M662 1491l-12 -3M616 1713l-7 -11M609 1702l-7 -11M580 1629l-12 0M809 1652l-20 -6M812 1602l-14 -12M658 1728l-12 8M704 1739l3 -13M582 1684l8 -15M721 1492l-3 -12M706 1484l-4 -2M752 1509l4 -13M661 1736l8 -7M812 1602l-15 6M775 1705l-1 -20M568 1629l6 -11M807 1633l-8 -12M590 1556l-19 1M627 1710l-11 3M610 1526l-9 -8M715 1483l12 8M727 1491l11 7M583 1573l-11 -7M795 1673l-9 6M637 1719l-9 5M581 1652l-8 8M607 1529l-12 -1M567 1606l10 11M776 1684l5 16M585 1672l10 6M652 1488l-8 5M672 1485l-20 3M701 1735l-12 5M585 1539l1 11M804 1596l8 7M798 1642l10 9M748 1492l-10 6M807 1567l-14 1M786 1689l-10 -5M578 1629l-9 9M624 1711l4 13M658 1728l-13 6M577 1617l-15 5M810 1607l-10 -4M644 1493l-17 9M715 1483l-5 10M808 1651l-13 -5M791 1554l11 5M738 1726l-14 3M724 1729l-13 3M754 1499l-16 -1M711 1732l-10 3M697 1483l-12 1M685 1484l-13 1M806 1582l-2 14M697 1483l18 -0M802 1559l-11 5M807 1567l-8 13M787 1529l-14 3M800 1603l9 11M577 1561l6 12M658 1728l4 11M745 1715l-7 11M600 1519l7 10M573 1627l-4 11M715 1483l-9 9M787 1665l7 10M605 1519l-4 11M782 1529l1 12M679 1484l-12 4M801 1632l9 8M665 1481l14 3M658 1724l5 15M676 1738l13 -1M803 1558l-7 10M576 1627l-8 12M620 1711l-13 -3M783 1541l10 8M568 1616l8 11M695 1479l-16 5M601 1530l-14 8M731 1730l-12 -3M609 1705l11 6M597 1679l-10 15M671 1732l-8 7M695 1479l7 13M755 1503l7 9M762 1512l7 10M758 1712l-7 10M583 1649l-12 0M575 1561l6 13M731 1723l13 9M803 1558l-13 1M597 1679l-16 1" stroke="#70c9a2" stroke-width="1.4" fill="none" stroke-linecap="round"/><path d="M577 1637l-6 9M611 1524l-11 -5M808 1646l-11 -5M779 1695l-10 -3M686 1734l-8 8M675 1479l-4 13M701 1729l-3 12M791 1541l-11 -2M627 1505l-12 1M663 1727l3 12M777 1519l-10 8M613 1699l1 11" stroke="#70c9a2" stroke-width="2.1" fill="none" stroke-linecap="round"/><path d="M798 1574l1 13M630 1704l-20 6M779 1667l18 3M756 1506l7 20M734 1718l11 2M667 1485l-0 14M723 1489l6 10M603 1525l-4 8M784 1563l12 -2M667 1485l-11 12M630 1704l-10 14M667 1485l6 14M597 1554l-17 5M808 1614l-11 8M587 1546l16 -1M794 1552l-10 11M810 1627l-16 3M587 1668l13 9M643 1719l12 5M655 1724l12 5M640 1712l-20 6M800 1654l-12 -0M713 1717l-9 20M587 1546l10 8M580 1559l3 14M712 1488l1 9M794 1611l14 3M693 1484l7 12M712 1488l-12 8M640 1494l-13 16M620 1505l7 5M640 1494l16 3M682 1483l-9 16M760 1704l-0 2M627 1510l-12 9M800 1657l-12 4M756 1506l-7 4M723 1713l6 20M640 1494l4 8M576 1592l-4 12M587 1642l-8 8M763 1526l19 -1M620 1505l-5 14M780 1684l-4 3M574 1615l0 18M796 1561l2 13M794 1630l16 5M712 1488l17 11M756 1506l-5 12M763 1693l-3 11M610 1693l-6 7M583 1573l-7 19M643 1719l-12 -1M603 1525l12 -6M702 1482l-2 14M802 1620l-5 -12M787 1548l-13 -12M798 1590l5 -5M721 1492l-15 -8M578 1570l7 -10M647 1715l-19 8M753 1714l-3 -12M807 1633l-19 1M683 1491l-21 -0M807 1617l-10 -9M768 1713l-18 -11M626 1518l-5 -10M784 1674l-2 -0M793 1665l-4 -19M662 1491l-13 3M726 1500l-5 -8M631 1507l5 -10M620 1521l1 -13M718 1726l-11 0M683 1491l19 -9M590 1556l-0 -12M616 1713l5 -11M580 1607l-12 6M789 1561l-2 -13M585 1572l-0 -12M645 1503l-9 -6M805 1570l-13 4M586 1584l-15 -3M782 1674l11 -9M707 1726l-17 5M590 1556l-7 -11M568 1629l13 -6M614 1691l-12 -0M778 1524l-21 2M774 1536l4 -12M741 1498l-15 2M669 1729l-11 -1M700 1493l2 -11M595 1686l-5 -17M602 1540l-1 -22M803 1585l-11 -11M580 1590l-9 -9M574 1618l6 -11M690 1731l-21 -2M585 1560l5 -4M620 1521l-19 -3M784 1674l9 -9M786 1679l-10 5M589 1643l-15 6M804 1596l-4 7M595 1663l-10 9M752 1705l3 13M619 1698l-9 10M697 1483l-9 9M586 1550l7 9M754 1499l-8 19M652 1488l13 6M627 1502l-3 15M794 1661l-9 8M699 1723l2 12M628 1708l9 11M627 1502l-7 12M600 1545l-14 5M611 1516l3 11M619 1698l5 13M794 1661l-11 6M699 1723l12 9M787 1529l-8 20M605 1684l-6 10M598 1671l-13 1M779 1549l12 5M575 1577l10 2M575 1577l1 14M576 1591l1 13M577 1604l0 13M767 1513l-4 11M788 1651l6 10M644 1493l6 11M604 1518l10 9M715 1483l-1 13M637 1719l11 5M648 1724l10 4M586 1550l-2 11M584 1561l-1 12M790 1673l-14 5M583 1573l-8 4M607 1529l-11 10M596 1539l-10 11M652 1488l-2 16M752 1705l8 8M721 1716l17 10M619 1698l-4 14M569 1638l20 5M675 1726l-5 12M619 1698l-13 3M792 1545l-13 4M675 1726l13 5M688 1731l13 4M675 1726l-17 2M766 1702l-14 3M752 1705l-7 10M577 1617l-4 10M587 1658l-2 14M632 1500l11 4M774 1675l9 10M667 1488l-12 4M655 1492l-11 4M644 1496l-12 4M632 1710l-12 1M738 1492l-5 11M755 1503l1 12M794 1600l11 12M808 1594l-14 6M731 1488l-11 9M616 1523l-15 7M753 1701l-5 16M591 1566l-16 -5M706 1724l-4 14M580 1614l-4 13M695 1479l0 16M601 1530l-3 12M706 1724l-17 13M763 1700l-5 12M582 1556l9 10M706 1724l9 8M680 1725l-9 7M798 1659l-11 6M589 1658l-4 11M769 1522l7 9M776 1531l7 10M755 1503l-13 6M787 1680l-13 -5M804 1606l-10 -6M645 1716l-9 6M616 1696l4 15M800 1572l-3 14M803 1589l-9 11M753 1701l5 11M723 1488l-7 9M622 1506l9 10" stroke="#7aca84" stroke-width="1.4" fill="none" stroke-linecap="round"/><path d="M808 1618l-11 9M595 1663l-12 1M791 1648l4 11M801 1569l-8 7M702 1483l-12 7M662 1495l-5 -10M695 1726l-9 8M750 1705l6 12M639 1492l0 12M639 1504l-12 1M805 1606l-12 -3M739 1724l-12 -2M600 1673l-7 10M590 1540l4 10M761 1507l-11 5M639 1504l-10 -4M767 1513l-6 11M719 1733l-8 -8" stroke="#7aca84" stroke-width="2.1" fill="none" stroke-linecap="round"/><path d="M615 1519l4 11M729 1499l4 5M732 1500l17 10M702 1716l2 21M729 1499l3 1M803 1601l-9 10M603 1525l10 8M732 1500l1 4M767 1683l1 19M583 1573l1 14M779 1667l1 17M627 1520l-12 -1M746 1702l-12 16M702 1716l-7 16M746 1702l14 4M692 1719l3 13M588 1606l-14 9M784 1563l14 11M797 1622l-3 8M595 1655l-8 13M790 1580l9 7M746 1699l14 5M794 1630l1 11M783 1539l-8 11M788 1654l0 7M595 1655l-14 6M606 1663l-19 5M627 1694l-9 8M760 1704l-14 -2M599 1533l11 4M572 1604l16 2M693 1484l-6 19M794 1552l-19 -2M746 1702l5 11M713 1717l6 15M788 1654l-9 13M774 1533l-8 8M576 1592l8 -5M788 1661l-9 6M630 1704l10 8M700 1496l13 1M723 1713l11 5M576 1592l12 14M670 1717l-3 12M733 1504l16 6M599 1533l4 12M597 1554l-7 10M590 1564l-7 9M589 1645l-10 5M579 1650l16 5M656 1497l-12 5M644 1502l-17 8M794 1611l3 11M574 1633l22 1M723 1713l-4 19M751 1518l12 8M641 1708l2 11M799 1587l-2 12M797 1599l-3 12M663 1718l4 11M615 1519l9 9M795 1641l-7 13M729 1499l-16 -2M574 1615l13 9M656 1497l11 2M781 1574l17 -0M682 1483l5 20M670 1717l7 19M766 1541l17 -2M640 1712l3 7M780 1684l-13 -1M794 1611l3 11M587 1624l-13 9M767 1683l-4 10M767 1683l9 4M692 1719l-15 17M749 1510l2 8M600 1677l10 16M773 1671l7 13M762 1513l-14 9M798 1590l-11 1M757 1526l5 -13M669 1729l-4 -10M690 1731l-4 -11M745 1715l-11 -11M737 1511l-11 -11M669 1729l5 -11M658 1728l7 -9M721 1502l-0 -10M698 1504l8 -20M590 1556l12 -16M612 1675l-17 11M602 1691l10 -16M709 1498l12 -6M683 1491l-3 4M680 1495l-18 -4M762 1704l-12 -2M798 1639l-9 7M654 1510l8 -19M797 1608l1 -18M658 1728l-11 -13M626 1518l5 -11M774 1685l8 -11M601 1667l-11 2M787 1548l-11 4M580 1607l0 -17M792 1574l-3 -13M586 1584l-1 -12M690 1731l-16 -13M595 1686l6 -19M793 1665l-18 -5M750 1702l12 -9M762 1693l12 -8M774 1536l-17 -10M590 1669l2 -7M726 1500l-5 2M718 1726l8 -11M792 1574l-8 -11M578 1641l14 -12M748 1522l4 -13M596 1645l-18 -4M798 1590l-6 -16M799 1621l-9 -11M647 1715l-20 -5M626 1518l-6 3M580 1590l6 -6M738 1498l8 20M589 1643l-8 9M577 1617l10 3M595 1678l10 6M605 1684l14 14M721 1716l-10 16M790 1593l14 3M688 1492l-10 8M787 1633l11 9M665 1494l13 6M627 1502l15 9M585 1609l-8 8M785 1669l-9 9M776 1678l-0 6M619 1698l9 10M620 1514l-6 13M587 1620l-9 9M800 1603l-7 15M644 1493l-2 18M699 1723l-12 1M687 1724l-12 2M614 1527l-7 2M710 1493l-6 9M776 1684l-12 11M764 1695l-12 10M752 1705l-12 2M583 1573l2 6M776 1684l-12 1M789 1592l11 11M759 1511l-13 7M697 1483l-1 18M790 1593l10 10M640 1704l-3 15M672 1485l6 15M802 1629l-15 4M799 1580l-9 13M585 1579l-2 13M583 1592l-3 12M580 1604l-3 13M729 1710l9 16M651 1714l-14 5M738 1498l-7 9M772 1674l4 10M706 1492l-10 9M589 1643l-2 15M738 1498l-9 8M601 1530l10 6M679 1484l-2 16M792 1625l9 7M804 1624l-12 1M643 1710l-11 0M679 1484l8 14M688 1718l1 19M756 1515l1 13M796 1568l-7 9M631 1516l-15 7M787 1665l-13 10M576 1627l9 10M783 1541l-9 10M583 1601l-3 13M598 1542l-4 12M594 1554l-3 12M632 1500l-1 16M774 1675l-5 13M769 1688l-6 12M783 1541l-12 6M586 1588l-11 2M719 1727l-13 -3M790 1638l-1 14M789 1652l-2 13M760 1692l-7 9M596 1663l1 16M594 1648l-11 1M581 1574l5 14M628 1700l-8 11M718 1713l13 10M790 1559l-13 1M576 1627l14 -3M797 1586l-3 14M612 1681l-13 7M597 1679l15 2M780 1656l7 9" stroke="#85cd6b" stroke-width="1.4" fill="none" stroke-linecap="round"/><path d="M797 1627l-10 9M584 1628l-7 9M592 1566l-10 -5M690 1490l-11 7M714 1488l1 13M797 1641l-10 -5M586 1603l-11 -7M769 1692l-11 -3M703 1718l-2 11M780 1539l-12 -2M727 1722l-12 -2M590 1577l-13 6M640 1710l-8 8M653 1504l-14 -0M660 1716l3 11M611 1687l2 12M711 1725l-8 -7" stroke="#85cd6b" stroke-width="2.1" fill="none" stroke-linecap="round"/><path d="M596 1576l-13 -3M782 1611l15 11M735 1701l-1 17M673 1499l14 4M702 1716l11 1M611 1674l-1 19M597 1554l-1 22M772 1668l7 -1M746 1699l0 3M781 1574l9 6M624 1681l-14 12M627 1510l12 11M779 1667l-6 4M702 1716l-10 3M784 1563l-3 11M606 1663l-6 14M596 1576l-12 11M700 1496l3 7M723 1713l-10 4M588 1606l-1 18M733 1504l-5 13M751 1518l-11 -1M787 1605l7 6M700 1496l-13 7M713 1497l-10 6M603 1545l-6 9M641 1708l-1 4M799 1587l-12 18M733 1504l-17 7M749 1510l-21 7M751 1518l7 11M763 1526l3 15M627 1694l3 10M644 1502l5 14M783 1644l5 10M772 1668l1 3M787 1605l7 6M763 1526l-5 3M673 1499l-6 -0M766 1541l9 9M634 1703l-4 1M782 1591l17 -4M713 1497l3 14M794 1611l-0 0M625 1686l-15 7M670 1717l22 2M659 1707l-16 12M729 1499l-13 12M775 1550l9 13M656 1497l-7 19M644 1502l-5 19M584 1587l4 19M611 1674l-11 3M610 1693l17 1M634 1703l6 9M773 1671l-6 12M596 1585l-12 2M627 1694l7 9M634 1703l7 5M767 1683l-11 8M756 1691l-10 8M748 1522l-11 -11M674 1718l-9 1M620 1534l-0 -13M603 1555l-1 -15M604 1565l-19 -5M736 1718l-2 -14M789 1646l-7 -12M776 1552l-2 -16M707 1726l-9 -14M667 1507l-5 -16M750 1702l-16 2M774 1685l-9 -20M757 1526l-9 -4M698 1504l11 -6M593 1616l-13 -9M789 1646l-1 -12M592 1662l4 -17M620 1534l-18 6M789 1646l-11 2M707 1726l9 -18M586 1584l9 -9M667 1507l13 -12M690 1731l8 -19M627 1710l-1 -19M585 1650l11 -5M797 1608l-7 2M698 1504l-15 -13M776 1552l-8 -8M586 1584l10 -9M665 1719l-18 -4M627 1710l7 -15M621 1702l5 -11M686 1508l-3 -17M614 1543l-12 -3M654 1510l-9 -7M792 1574l-14 0M797 1608l-14 -7M603 1555l-13 1M774 1685l-21 -3M601 1667l-9 -5M775 1660l14 -14M727 1512l-1 -12M581 1623l12 -7M626 1691l-12 0M788 1634l1 -12M789 1622l1 -12M647 1715l-6 -10M760 1535l-3 -9M592 1629l-12 0M782 1674l-17 -9M726 1715l8 -11M647 1715l6 -7M698 1504l2 -11M784 1563l-8 -11M721 1502l-12 1M782 1674l-7 -14M604 1565l-14 -9M620 1534l6 -16M798 1590l-15 11M665 1719l-12 -11M640 1514l-14 4M718 1726l-2 -18M774 1536l-14 -1M784 1583l8 -9M620 1534l-10 -8M679 1716l-4 10M696 1501l-18 -1M691 1714l8 9M593 1559l7 9M793 1568l-14 0M624 1517l-2 16M769 1541l10 8M587 1620l1 12M588 1632l1 11M729 1710l-8 6M614 1527l1 13M615 1540l-15 5M793 1618l-6 15M783 1667l-11 7M678 1500l-14 2M664 1502l-14 2M619 1698l21 6M779 1549l0 19M600 1568l-15 11M610 1670l-5 14M800 1603l-13 8M779 1549l-11 -5M610 1670l-12 1M795 1646l-12 -5M665 1709l-7 19M740 1707l-11 3M721 1716l-11 3M710 1719l-11 4M665 1709l10 17M763 1524l-5 10M772 1674l4 4M783 1641l5 10M607 1529l8 11M714 1496l-1 13M630 1694l-11 4M642 1511l-10 11M618 1689l-13 -5M790 1593l-1 -1M650 1504l-8 7M791 1564l-12 4M773 1532l-15 2M614 1527l8 6M785 1580l5 13M775 1663l-3 11M600 1568l-17 5M643 1504l11 4M654 1709l4 15M654 1709l-11 1M794 1600l-8 8M733 1503l-5 12M718 1713l-12 11M720 1497l-11 9M591 1566l-3 11M588 1577l-2 11M585 1637l9 11M753 1701l-12 4M741 1705l-12 4M586 1588l-3 13M792 1625l-2 13M774 1675l-7 9M767 1684l-7 8M688 1718l-8 7M702 1492l7 14M594 1648l-5 10M742 1509l-14 6M688 1718l18 6M594 1648l2 15M654 1709l-9 7M794 1600l-1 12M793 1612l-1 13M612 1681l4 15M604 1560l-13 6M642 1516l-11 -0M772 1663l2 12M716 1497l-7 9M740 1698l13 3M610 1674l-13 5" stroke="#94d15a" stroke-width="1.4" fill="none" stroke-linecap="round"/><path d="M590 1619l-6 9M787 1636l4 12M793 1576l-9 7M622 1529l-11 -5M679 1497l-11 8M668 1505l-6 -10M703 1718l-8 8M671 1492l-3 13M743 1694l7 11M715 1720l-12 -2M639 1504l2 11M668 1505l-15 -1M594 1550l4 11M750 1512l-10 5M767 1527l-11 7M761 1524l-5 10M609 1675l2 12" stroke="#94d15a" stroke-width="2.1" fill="none" stroke-linecap="round"/><path d="M619 1530l3 11M781 1574l1 17M794 1630l-17 4M687 1503l-14 4M597 1554l11 13M717 1705l6 8M775 1550l-10 9M784 1563l-17 2M625 1686l2 8M613 1533l9 8M687 1503l16 0M587 1624l9 10M667 1499l6 8M659 1707l11 10M782 1611l12 0M735 1701l-12 12M639 1521l-12 -1M769 1655l19 -1M748 1529l10 0M758 1529l8 12M782 1611l12 19M642 1695l-8 8M588 1606l7 10M746 1699l-11 2M688 1709l4 10M610 1537l12 4M751 1518l-3 11M703 1503l13 8M688 1709l-18 8M787 1605l-5 6M595 1655l11 8M740 1517l-12 -0M600 1640l-5 15M777 1634l18 7M606 1663l5 11M775 1618l19 12M769 1655l10 12M603 1545l10 7M600 1640l-11 5M584 1587l14 14M622 1541l-19 4M637 1692l-3 11M596 1634l-9 8M603 1545l3 11M659 1707l4 11M656 1497l6 18M641 1708l18 -1M717 1705l-4 12M735 1701l11 1M757 1675l10 8M667 1499l-5 16M596 1576l-0 9M717 1705l-15 11M673 1499l0 8M782 1591l5 14M757 1675l16 -4M603 1545l8 10M629 1539l-3 -21M665 1719l6 -10M686 1720l-4 -11M580 1607l18 -5M778 1648l4 -14M734 1704l-18 4M595 1575l9 -10M626 1691l-14 -16M592 1629l1 -13M770 1563l6 -11M634 1695l-8 -4M745 1530l3 -8M601 1667l4 -19M768 1544l-8 -9M605 1648l-13 14M757 1526l-12 4M775 1660l3 -12M750 1702l3 -20M724 1513l-3 -11M600 1582l-14 2M790 1610l-7 -9M604 1565l-1 -10M598 1602l-12 -18M713 1511l8 -9M674 1718l8 -9M641 1705l-7 -10M596 1645l-4 -16M686 1508l-6 -13M750 1702l-14 -7M636 1527l-10 -9M709 1503l-11 1M698 1504l-12 4M598 1602l-18 -12M782 1634l4 -12M786 1622l4 -12M750 1702l-1 -15M788 1634l-6 0M653 1708l-9 -7M644 1701l-10 -6M674 1718l-3 -9M667 1507l-13 3M654 1510l-14 4M612 1675l-11 -8M772 1674l-11 4M620 1682l10 12M789 1592l-7 13M604 1653l-9 10M787 1633l-4 8M650 1700l-10 4M734 1695l-5 15M758 1534l-1 6M594 1607l-7 13M630 1694l10 10M593 1601l-8 8M758 1534l11 7M746 1518l-15 3M746 1518l12 16M729 1710l-11 -2M587 1620l7 9M779 1568l5 12M784 1580l5 12M585 1579l16 14M704 1502l-6 10M768 1544l-11 -4M678 1500l10 6M764 1685l-12 1M752 1705l-18 -10M632 1522l-10 11M622 1533l-7 7M601 1638l-12 5M630 1694l-12 -5M589 1643l15 10M740 1688l12 17M707 1707l14 9M707 1707l-8 16M665 1709l-14 5M678 1500l4 12M779 1568l6 12M731 1507l-7 9M615 1540l-8 14M607 1554l-7 14M783 1641l-4 11M779 1652l-4 11M602 1587l-17 -8M772 1559l7 9M696 1501l2 11M665 1709l-12 -2M653 1707l-13 -3M678 1500l-9 11M729 1506l-8 8M586 1588l8 8M775 1597l19 3M611 1536l10 7M654 1508l11 4M586 1588l6 11M762 1673l12 2M599 1634l-5 14M603 1655l-9 -7M751 1686l2 15M687 1498l9 14M757 1528l1 12M644 1519l-13 -3M631 1516l-0 11M789 1577l-7 10M718 1713l-15 2M703 1715l-15 3M729 1709l-11 4M695 1495l1 17M792 1625l-13 7M600 1583l-14 5M688 1718l-11 -3M677 1715l-12 -3M665 1712l-11 -3M635 1690l-7 10M778 1616l14 9M709 1506l19 9M591 1566l11 6M654 1516l-12 -0M631 1516l9 9M774 1647l6 9" stroke="#a3d54c" stroke-width="1.4" fill="none" stroke-linecap="round"/><path d="M703 1718l-12 -7M780 1623l7 13M787 1636l-8 8M602 1571l-10 -5M608 1663l-13 0M715 1501l2 13M680 1510l-12 -5M596 1609l-10 -6M787 1636l-12 2M758 1689l-11 -4M712 1709l-9 9M768 1537l-12 -3M793 1603l-13 -3M602 1571l-12 6M647 1701l-7 9M608 1663l-8 10M598 1561l4 10M657 1705l3 11M608 1663l1 12" stroke="#a3d54c" stroke-width="2.1" fill="none" stroke-linecap="round"/><path d="M703 1503l-6 10M748 1529l4 11M611 1674l13 7M767 1565l14 9M602 1626l-6 8M716 1511l12 6M758 1529l-1 22M608 1567l-12 9M703 1503l8 16M639 1521l2 8M652 1696l-11 12M673 1696l-3 21M757 1551l18 -1M624 1681l1 5M639 1521l-6 16M652 1696l-18 7M772 1668l-15 7M728 1517l10 6M738 1523l10 6M606 1663l10 -3M766 1541l-9 10M649 1516l-10 5M649 1516l13 -1M774 1586l8 5M598 1601l-10 5M616 1660l-5 14M688 1709l14 7M649 1516l-8 13M746 1681l-0 18M746 1681l21 2M777 1634l6 10M769 1655l3 13M596 1634l4 6M606 1556l2 11M624 1528l9 9M781 1574l-7 12M587 1624l15 2M673 1507l-11 8M701 1699l1 17M616 1650l-21 5M596 1585l2 16M735 1701l-18 4M775 1550l-8 15M787 1591l-11 1M606 1567l-2 -2M686 1508l-19 -1M626 1691l9 -7M593 1616l5 -14M748 1522l-21 2M600 1617l-7 -1M716 1708l-18 4M605 1648l-9 -3M783 1601l-7 -9M600 1617l-8 12M596 1575l10 -8M626 1691l-3 -16M749 1687l4 -5M776 1552l-19 9M698 1712l19 -9M783 1601l-5 -1M629 1539l-9 -5M734 1704l2 -9M727 1524l-3 -11M698 1712l-16 -3M749 1687l-13 8M625 1547l-5 -13M727 1524l-0 -12M612 1675l8 -4M734 1704l-17 -1M775 1660l-11 -5M614 1551l-11 4M606 1567l-3 -12M790 1610l-12 -10M682 1709l-11 0M671 1709l-18 -1M775 1660l-10 5M753 1682l12 -17M647 1693l-13 2M650 1523l4 -13M716 1708l1 -5M623 1675l-11 -0M706 1519l-8 -15M620 1671l-19 -4M760 1535l-15 -5M790 1610l-13 6M675 1518l-8 -11M776 1592l8 -9M759 1548l1 -13M683 1705l-4 11M772 1674l-16 -7M761 1678l-11 5M604 1653l6 17M633 1531l-11 2M610 1670l10 12M683 1705l-18 4M659 1522l-17 -11M683 1705l8 9M622 1533l11 5M746 1518l-4 22M775 1618l12 15M601 1593l-8 8M642 1511l2 19M630 1694l20 -1M776 1590l13 2M601 1638l3 15M624 1673l-14 -3M612 1557l-12 11M783 1641l-9 9M718 1708l-11 -1M594 1629l7 9M787 1611l-12 7M688 1506l10 6M615 1540l9 6M622 1533l2 13M752 1686l-12 2M773 1631l10 10M650 1693l-10 11M779 1630l4 11M779 1568l-7 10M640 1687l-10 7M650 1504l9 18M600 1568l2 19M757 1540l7 9M764 1549l8 10M677 1500l-1 16M592 1599l6 11M613 1662l-10 -7M786 1608l-8 8M758 1540l1 13M631 1527l-0 11M627 1680l-15 1M663 1703l-9 6M782 1587l-7 10M680 1707l8 11M709 1506l6 14M727 1694l-9 19M774 1551l-10 10M709 1506l-13 6M771 1547l-12 6M623 1669l-11 12M708 1705l10 8M777 1560l-13 1M590 1624l14 -3M648 1695l6 14M617 1555l-13 5M728 1515l8 9M665 1516l-11 0M688 1703l0 15M769 1651l3 12M727 1694l13 4M623 1669l-13 5" stroke="#c3dc3c" stroke-width="1.4" fill="none" stroke-linecap="round"/><path d="M691 1711l-12 -6M596 1609l-6 10M779 1644l-9 7M617 1669l-9 -6M784 1583l-8 7M633 1534l-11 -5M605 1650l3 13M756 1534l-13 -2M701 1706l2 12M668 1505l-8 11M720 1700l-8 9M668 1505l4 11M641 1515l2 12M740 1517l-11 4M602 1571l-2 13M598 1597l-2 12M756 1534l-9 8M756 1534l2 13" stroke="#c3dc3c" stroke-width="2.1" fill="none" stroke-linecap="round"/><path d="M756 1655l16 13M633 1537l-11 4M633 1537l8 -8M709 1694l8 11M775 1618l2 16M687 1503l-3 19M752 1540l5 11M782 1591l-12 8M716 1511l-5 8M728 1517l-4 13M588 1606l20 5M720 1690l-3 15M673 1696l-14 11M770 1599l12 12M720 1690l15 11M748 1529l-8 9M757 1551l8 8M728 1517l-17 2M610 1577l-14 8M728 1687l7 14M728 1687l18 12M728 1517l4 13M595 1616l7 10M602 1626l-2 14M649 1516l8 13M782 1611l-7 7M641 1680l-14 14M687 1701l1 8M662 1515l11 3M608 1567l2 10M652 1696l7 11M600 1640l16 10M701 1699l-13 10M622 1541l5 5M673 1507l11 15M641 1680l-16 6M701 1699l16 6M765 1559l2 6M596 1585l11 2M616 1650l-10 13M777 1634l-4 11M773 1645l-4 10M596 1576l14 1M616 1660l4 11M620 1671l4 10M769 1601l13 10M781 1574l-18 7M770 1599l17 6M748 1529l-16 1M687 1503l4 20M757 1675l-11 6M611 1555l8 9M612 1636l-16 9M663 1528l4 -21M727 1524l-11 -2M753 1682l-11 -4M612 1636l-20 -7M782 1634l-16 1M745 1530l-18 -6M736 1695l-1 -11M749 1687l-7 -9M765 1574l5 -11M600 1617l-2 -15M736 1695l6 -17M778 1600l-2 -8M778 1648l-12 -13M734 1704l-15 -14M625 1547l-11 -4M745 1530l-12 4M682 1709l-9 -13M671 1709l-11 -18M778 1574l-13 0M623 1675l-3 -4M778 1648l-12 1M671 1709l2 -13M653 1708l7 -17M706 1519l7 -8M698 1712l-3 -13M717 1703l-22 -4M695 1699l-13 10M598 1602l8 -12M645 1536l-9 -9M629 1539l-4 8M625 1547l-11 4M620 1671l-8 -12M612 1659l-7 -11M606 1567l10 -10M693 1517l-7 -9M663 1528l-9 -18M760 1535l-14 16M700 1526l-2 -22M750 1683l-10 5M644 1530l-11 1M782 1605l-7 13M661 1697l4 12M661 1697l-11 3M601 1593l-7 14M672 1701l11 4M758 1534l-16 6M740 1688l-6 7M622 1666l-12 4M707 1707l-12 -1M695 1706l-12 -1M731 1521l-14 3M712 1522l-14 -10M624 1546l-12 11M783 1641l-16 -0M774 1650l-9 8M765 1658l-9 9M614 1657l-4 13M609 1618l-22 2M600 1568l12 3M757 1540l-2 12M748 1677l-8 11M602 1587l-1 6M713 1509l-1 13M775 1618l4 12M742 1540l15 -0M779 1568l-14 5M724 1516l-7 8M757 1540l-9 8M669 1511l-10 11M721 1514l-9 8M734 1695l-14 6M720 1701l-13 6M594 1596l9 8M764 1561l4 12M665 1512l11 4M598 1610l6 11M749 1671l13 2M604 1621l-5 13M623 1669l-10 -7M759 1553l5 8M749 1671l2 15M658 1523l-14 -4M778 1616l-5 11M696 1512l-20 4M728 1515l-2 14M696 1512l12 10M779 1632l-12 7M728 1515l-8 18M775 1597l3 19M602 1572l11 6M736 1524l8 10M744 1534l8 9M752 1543l7 10M676 1516l-11 0M696 1512l-12 7M767 1639l7 8" stroke="#eae12e" stroke-width="1.4" fill="none" stroke-linecap="round"/><path d="M679 1705l-12 -6M774 1610l6 13M770 1651l-8 8M626 1675l-9 -6M596 1609l3 14M599 1623l3 13M602 1636l3 14M743 1532l-13 -3M717 1514l1 12M693 1515l-13 -5M747 1685l-11 -3M660 1516l-8 11M615 1652l-7 11M728 1691l-8 9M736 1682l7 12M613 1563l-11 8M614 1578l-12 -7M655 1693l-8 8M729 1521l-11 5M655 1693l2 12M600 1584l-2 13M758 1547l2 13" stroke="#eae12e" stroke-width="2.1" fill="none" stroke-linecap="round"/><path d="M616 1650l-0 10M724 1530l8 0M609 1623l-7 3M697 1513l-6 10M767 1565l-4 16M756 1655l1 20M709 1694l-8 5M782 1611l-16 4M763 1581l11 5M633 1537l-6 9M762 1640l7 15M673 1696l15 13M650 1686l-8 9M619 1564l-9 13M732 1530l8 8M602 1626l10 0M608 1567l11 -3M634 1672l-10 9M763 1581l8 6M687 1701l14 -2M657 1529l-16 -0M771 1587l-1 12M746 1681l-18 6M608 1611l-6 15M650 1686l2 10M652 1696l21 0M769 1655l-13 0M662 1515l-5 14M641 1680l-17 1M774 1586l-3 1M673 1518l11 4M761 1636l16 -2M598 1601l17 4M746 1681l-17 -1M777 1634l-15 6M687 1701l-14 -5M613 1552l10 7M771 1587l-2 14M711 1519l13 11M616 1660l18 12M641 1680l-4 12M774 1586l-4 13M598 1601l10 10M765 1559l-9 8M766 1615l9 3M775 1618l-7 9M740 1538l17 13M765 1559l-12 3M767 1565l-9 5M745 1661l12 14M622 1541l1 18M627 1546l-4 13M612 1626l-12 14M691 1523l20 -4M609 1595l-11 6M782 1634l-18 -12M753 1682l-3 -20M621 1561l-15 6M716 1522l-10 -3M706 1519l-6 7M634 1695l9 -19M607 1609l-9 -7M765 1665l-15 -3M635 1684l8 -8M612 1636l-6 -9M606 1627l-6 -10M776 1592l-11 -18M765 1574l-8 -13M717 1703l2 -13M629 1539l16 -3M614 1579l-8 -12M600 1617l7 -8M771 1611l7 -11M643 1676l-20 -1M605 1648l7 -12M618 1650l-13 -2M717 1703l-12 -12M778 1600l-13 1M746 1551l-1 -21M614 1579l-14 3M736 1695l-17 -5M684 1529l2 -21M695 1699l-11 -2M606 1590l8 -11M660 1691l-13 2M730 1547l15 -17M645 1536l5 -13M765 1665l-11 -14M616 1557l9 -10M613 1619l-13 -2M700 1526l-7 -9M777 1616l-13 6M615 1592l-17 10M757 1561l2 -13M602 1587l9 9M609 1618l-8 20M661 1697l-11 -4M659 1522l11 4M724 1689l10 6M661 1697l11 4M712 1522l-6 3M764 1587l12 3M624 1546l-0 13M637 1676l-13 -3M698 1512l-3 11M677 1695l-16 2M712 1522l5 2M717 1524l12 8M729 1532l13 8M732 1678l8 10M692 1693l15 14M619 1644l-15 9M756 1667l-8 10M756 1667l-12 5M769 1602l6 16M706 1692l1 15M601 1638l18 6M659 1522l-15 8M601 1593l4 13M772 1578l-8 9M698 1512l8 13M613 1580l-11 7M682 1512l5 11M732 1678l2 17M767 1617l8 1M692 1693l-9 12M611 1596l-10 -3M768 1573l3 12M771 1585l4 12M767 1584l8 13M621 1543l10 6M767 1639l-6 10M755 1660l-6 11M676 1516l-5 11M623 1669l10 5M759 1553l-12 -4M764 1561l-5 11M604 1621l5 12M609 1633l4 12M613 1645l5 12M618 1657l5 12M671 1527l-13 -4M631 1538l-0 11M643 1680l-16 0M673 1696l-10 7M773 1627l-6 12M673 1696l7 11M778 1616l-12 1M715 1520l5 13M727 1694l-13 -1M759 1553l-9 8M749 1671l-11 12M738 1683l-11 11M613 1578l-13 5M759 1553l0 19M721 1684l6 10M643 1680l-8 10M698 1697l10 8M766 1609l12 7M643 1680l5 15M631 1549l-14 6M640 1525l10 10M696 1512l-1 12M775 1597l-11 -1M767 1639l2 12" stroke="#f3b623" stroke-width="1.4" fill="none" stroke-linecap="round"/><path d="M667 1699l-12 -6M767 1597l7 13M607 1617l-11 -8M762 1659l-9 8M753 1667l-8 7M745 1674l-9 8M655 1693l-10 -6M645 1687l-9 -6M636 1681l-10 -6M776 1590l-9 7M644 1539l-11 -5M730 1529l-12 -3M718 1526l-13 -5M705 1521l-12 -6M775 1638l-12 2M698 1694l3 12M610 1604l-14 5M736 1682l-8 9M672 1516l5 12M780 1600l-13 -3M623 1555l-10 8M643 1527l1 12M760 1560l3 12" stroke="#f3b623" stroke-width="2.1" fill="none" stroke-linecap="round"/><path d="M711 1519l5 18M641 1529l14 10M728 1687l-8 3M769 1601l-3 14M724 1530l-8 7M732 1530l3 22M633 1537l9 10M745 1661l1 20M612 1626l2 12M614 1638l2 12M732 1530l-16 7M692 1688l9 11M770 1599l-1 2M641 1529l1 18M609 1623l3 3M757 1551l-14 1M692 1688l-5 13M684 1522l-13 4M671 1526l-14 3M762 1640l-6 15M657 1529l4 8M729 1680l-9 10M608 1611l1 12M729 1680l-1 7M757 1551l-16 13M610 1577l9 11M634 1672l7 8M684 1522l-12 7M668 1683l-16 13M623 1559l-4 5M641 1680l9 6M657 1529l-2 10M684 1522l-9 10M740 1538l-5 14M761 1636l1 4M711 1519l-4 11M607 1587l12 1M768 1627l-7 9M709 1694l11 -4M691 1523l-7 -1M615 1605l-7 6M763 1581l6 20M731 1667l15 14M711 1519l-16 15M740 1538l3 14M627 1546l15 1M776 1592l-17 -3M742 1678l-8 -5M719 1690l-14 1M742 1678l8 -16M707 1532l20 -8M673 1696l-13 -5M735 1684l-1 -11M754 1651l12 -16M622 1644l-10 -8M778 1600l-19 -11M754 1567l3 -6M634 1660l-14 11M765 1574l-11 -7M764 1622l7 -11M707 1532l-1 -13M663 1528l-18 8M652 1540l-7 -4M750 1662l4 -11M621 1581l-15 -14M660 1691l-9 -8M651 1683l-8 -7M733 1534l-12 3M637 1555l-8 -16M620 1671l12 -19M695 1699l10 -8M766 1649l-12 2M684 1697l-11 -1M623 1675l11 -15M617 1615l-10 -6M764 1655l-10 -4M637 1555l-12 -8M759 1589l6 -15M615 1592l-1 -13M721 1537l6 -13M766 1635l-2 -13M719 1690l8 -9M607 1609l8 -17M757 1561l-11 -10M684 1529l-9 -11M609 1618l5 13M614 1631l5 13M670 1526l10 4M633 1538l12 4M714 1683l10 6M634 1661l-12 5M717 1524l0 13M650 1679l-13 -3M692 1693l-15 2M717 1524l-11 1M767 1617l-3 3M619 1644l-5 13M612 1571l12 2M755 1552l-2 13M644 1530l17 8M764 1620l9 11M753 1653l3 14M744 1672l-12 6M659 1522l2 16M667 1687l-6 10M764 1587l5 15M742 1540l-12 4M645 1542l-21 4M764 1587l1 15M765 1602l2 15M605 1606l4 12M775 1618l-11 2M650 1679l0 14M624 1546l11 8M650 1679l-10 8M747 1658l9 9M611 1596l-1 11M610 1607l-1 11M650 1679l11 18M644 1530l1 12M603 1604l8 8M759 1572l8 12M761 1649l-6 11M631 1658l-8 11M633 1674l10 6M747 1549l-12 -3M615 1625l-11 -4M643 1680l10 5M653 1685l10 5M663 1690l10 6M688 1689l-15 7M726 1529l-3 14M611 1612l-7 9M708 1522l12 11M631 1549l-6 10M625 1559l-6 9M619 1568l-6 10M714 1693l-13 -2M613 1578l-0 11M613 1589l-1 12M612 1601l-1 11M749 1671l-13 -2M615 1619l-11 2M688 1689l10 8M684 1519l-13 8M688 1689l0 14" stroke="#f48e20" stroke-width="1.4" fill="none" stroke-linecap="round"/><path d="M718 1526l-7 10M718 1526l0 13M741 1669l-5 13M652 1527l-8 12M622 1642l-7 10M650 1683l5 10M663 1684l-8 9M644 1539l-10 8M634 1547l-11 8M736 1682l-11 -6M747 1542l-9 7M763 1572l2 13M765 1585l2 12" stroke="#f48e20" stroke-width="2.1" fill="none" stroke-linecap="round"/><path d="M644 1668l-10 4M610 1577l20 3M691 1523l4 11M709 1682l11 8M636 1653l-20 7M623 1559l15 4M655 1539l-13 8M627 1546l11 17M741 1654l15 1M709 1682l0 12M709 1682l20 -2M766 1615l-5 21M756 1655l-11 6M619 1588l-4 17M661 1537l-6 2M691 1523l-5 17M629 1638l-13 12M678 1685l-5 11M668 1683l-18 3M692 1688l17 6M636 1653l-2 19M692 1688l-19 8M626 1613l-18 -2M684 1522l2 18M654 1675l-4 11M672 1529l-11 8M619 1564l11 16M638 1563l-19 1M731 1667l-2 13M748 1576l15 5M743 1552l-2 12M756 1567l-8 9M634 1672l20 3M668 1683l5 13M616 1650l20 3M769 1601l-16 6M753 1562l-12 2M758 1570l-10 6M641 1680l13 -5M735 1552l8 0M619 1588l-10 7M623 1633l-11 3M673 1696l1 -13M637 1555l-16 6M719 1690l-2 -17M684 1529l-21 -1M643 1676l-9 -16M743 1566l3 -15M757 1561l-14 5M637 1555l8 -19M686 1680l-13 16M707 1532l-7 -6M721 1537l-14 -5M660 1691l8 -11M700 1526l-16 3M695 1699l-5 -21M671 1538l-8 -10M632 1652l-14 -2M695 1699l-9 -19M621 1581l-7 -2M652 1540l11 -12M707 1532l-11 4M754 1567l-11 -1M660 1691l-5 -18M764 1622l-6 -11M750 1662l-16 11M650 1551l-5 -15M759 1589l-3 -11M756 1578l-2 -11M730 1547l-9 -10M746 1551l-16 -4M655 1673l-12 3M727 1681l7 -8M766 1635l-15 -1M615 1592l6 -11M612 1636l15 -14M680 1530l11 4M622 1590l-11 6M624 1559l-0 14M735 1664l-3 14M695 1523l-4 11M732 1678l-13 -1M751 1578l13 9M661 1538l-16 4M767 1641l-17 -1M611 1596l8 9M753 1565l-2 13M742 1540l-4 16M750 1640l3 13M706 1525l-15 9M609 1618l12 5M706 1525l6 12M632 1650l-13 -6M624 1573l-6 11M618 1584l-7 12M765 1573l-14 5M624 1573l-11 7M687 1523l4 11M748 1548l-10 8M757 1607l10 10M764 1620l-7 10M622 1608l-11 4M631 1549l6 10M656 1672l-13 8M735 1546l-12 -3M613 1578l10 7M720 1533l-9 10M671 1527l8 11M766 1617l-12 2M767 1639l-16 2M701 1691l-13 -2M759 1572l-9 12M645 1547l-14 2M759 1572l-13 3M645 1666l-2 14M754 1633l13 6M671 1527l0 12M720 1533l3 10M625 1578l-12 -0M671 1527l-12 18M742 1657l7 14M650 1535l9 10M695 1524l-1 13M671 1680l2 16" stroke="#f26e21" stroke-width="1.4" fill="none" stroke-linecap="round"/><path d="M619 1624l-12 -7M746 1655l-5 14M763 1640l-12 2M695 1682l3 12M623 1599l-13 5M646 1672l4 11M767 1597l-9 -7M644 1539l-1 11M625 1586l-11 -8M656 1545l-12 -6M767 1597l-4 11M763 1608l-4 11" stroke="#f26e21" stroke-width="2.1" fill="none" stroke-linecap="round"/><path d="M748 1595l21 6M655 1539l-0 17M630 1580l-11 8M766 1615l-19 2M661 1537l5 5M735 1552l6 12M626 1613l-17 10M654 1675l14 8M741 1564l7 12M627 1625l-15 1M716 1537l10 8M726 1545l9 7M745 1638l17 2M763 1581l-16 2M750 1628l11 8M615 1605l11 8M741 1654l-10 13M695 1534l-9 6M626 1613l-14 13M695 1534l7 6M716 1537l3 15M763 1581l-15 14M718 1670l-9 12M741 1654l4 7M675 1532l-9 10M642 1547l-4 16M642 1547l13 9M753 1607l13 8M707 1530l-5 10M695 1534l-5 8M745 1638l11 17M629 1600l-14 5M761 1636l-16 2M655 1539l11 3M718 1670l11 10M612 1626l17 12M663 1674l5 9M702 1540l14 -3M745 1661l-14 6M641 1653l-7 19M709 1682l-17 6M663 1674l-9 1M683 1674l9 14M766 1615l-16 13M730 1547l-17 -5M650 1551l2 -11M705 1691l-15 -13M705 1691l12 -18M754 1651l-9 -9M671 1538l13 -9M650 1551l-13 4M621 1581l8 -13M629 1568l8 -13M752 1601l7 -12M628 1604l-13 -12M632 1652l-10 -8M754 1651l-16 -5M713 1542l8 -5M750 1662l-12 -16M686 1540l14 -14M764 1622l-19 -8M628 1604l-21 5M743 1566l-6 -10M737 1556l-7 -9M734 1673l2 -13M765 1601l-13 -0M634 1575l-13 6M764 1622l-17 -14M634 1660l-2 -8M696 1536l-10 4M713 1542l-6 -10M758 1611l-6 -10M686 1540l-2 -11M698 1540l9 -8M671 1538l-19 2M632 1583l-11 -2M627 1622l-10 -7M627 1622l-14 -3M643 1676l9 -18M686 1540l-15 -2M759 1589l-11 -4M750 1628l14 -6M734 1673l-17 -0M728 1553l10 3M738 1556l7 11M745 1567l6 11M664 1673l-14 6M691 1534l-15 2M676 1536l-15 2M705 1676l-13 17M756 1608l8 12M764 1587l-16 9M705 1676l9 7M627 1614l-18 4M646 1656l-12 5M717 1537l1 12M648 1668l2 11M719 1677l-14 -1M661 1538l-7 12M746 1620l18 0M624 1573l9 11M633 1628l-14 16M635 1568l-11 5M723 1668l9 10M686 1679l6 14M645 1542l2 20M657 1668l-7 11M673 1676l-6 11M690 1680l2 13M730 1544l-12 5M705 1676l1 16M712 1537l6 12M635 1554l12 8M726 1664l6 14M738 1650l9 8M651 1664l-1 15M757 1630l-7 10M704 1541l-13 -7M611 1612l14 2M640 1648l-9 10M698 1677l-10 12M626 1629l-11 -4M723 1543l3 11M750 1561l-9 8M678 1677l10 12M659 1545l-14 2M736 1669l-14 -2M723 1543l-10 6M715 1675l6 9M626 1618l-11 1M754 1602l12 7M764 1596l-11 -0" stroke="#f05123" stroke-width="1.4" fill="none" stroke-linecap="round"/><path d="M711 1536l-6 9M630 1631l-11 -7M718 1539l1 12M751 1642l-5 13M630 1631l-8 11M677 1528l5 12M642 1662l4 10M758 1590l-10 -6M672 1676l-9 8M643 1550l-2 11M725 1676l-12 -6M738 1549l-9 7M759 1619l-4 12M755 1631l-4 11" stroke="#f05123" stroke-width="2.1" fill="none" stroke-linecap="round"/><path d="M702 1540l17 12M655 1664l-11 4M735 1552l-8 9M635 1630l-6 8M636 1653l5 0M655 1664l-1 11M666 1542l-11 14M666 1542l11 4M629 1638l7 15M748 1595l5 12M627 1625l8 5M683 1674l-5 11M747 1583l1 12M640 1574l-10 6M741 1564l-11 3M689 1669l3 19M666 1542l3 11M699 1675l10 7M741 1654l-13 2M686 1540l-20 2M686 1540l4 2M712 1662l-3 20M718 1670l13 -3M626 1613l1 12M741 1564l-7 13M627 1625l2 13M641 1653l14 11M663 1674l20 0M748 1576l-14 1M638 1563l4 6M747 1617l3 11M629 1600l-3 13M750 1628l-5 10M641 1639l-5 14M619 1588l10 12M638 1563l2 11M728 1656l3 11M655 1556l-17 7M702 1540l-12 2M745 1638l-4 16M748 1576l-1 7M728 1656l-10 14M735 1552l-16 0M638 1563l-8 17M655 1664l8 10M630 1580l-1 20M683 1674l-15 9M753 1607l-6 10M634 1630l-11 3M686 1680l4 -2M674 1683l2 -14M720 1560l10 -13M632 1652l1 -11M648 1569l-11 -14M752 1601l-7 -7M665 1556l-15 -5M648 1569l2 -18M643 1650l-11 2M720 1560l-7 -18M752 1601l-5 7M634 1660l9 -10M676 1669l-21 4M668 1680l8 -11M736 1660l2 -14M743 1566l-12 -3M734 1573l9 -7M717 1673l4 -14M627 1622l1 -18M655 1673l-3 -15M655 1673l5 -11M690 1549l8 -9M717 1673l-13 2M704 1675l-14 3M734 1673l-13 -14M754 1567l-16 14M665 1556l6 -18M690 1549l-19 -11M634 1596l-13 -15M759 1589l-14 5M713 1542l-12 3M652 1658l-18 2M738 1581l5 -15M690 1549l-4 -9M674 1550l-3 -12M686 1680l-10 -11M665 1556l-13 -16M634 1596l-19 -4M718 1549l10 4M748 1596l8 12M718 1549l6 11M691 1534l8 12M751 1578l-10 -4M736 1636l14 4M633 1584l-11 6M751 1578l-7 8M738 1650l-3 14M646 1656l2 12M654 1550l-7 12M646 1656l5 8M619 1605l8 9M738 1556l-8 14M647 1562l-12 6M746 1620l4 20M750 1640l-12 10M621 1623l12 5M646 1656l-14 -6M751 1578l-3 18M661 1538l12 18M691 1534l-9 11M748 1596l9 11M718 1549l-14 -8M633 1604l-11 4M637 1559l6 9M669 1664l-13 8M637 1633l-11 -4M623 1585l10 8M659 1545l12 7M659 1545l-3 11M726 1554l3 12M711 1543l-9 9M679 1538l7 12M751 1641l-16 3M750 1584l-9 11M647 1651l-2 15M708 1665l7 10M742 1627l12 6M671 1539l0 13M637 1577l-12 1M735 1644l7 13M694 1537l-0 12M669 1664l2 16" stroke="#ee3724" stroke-width="1.4" fill="none" stroke-linecap="round"/><path d="M746 1630l5 12M751 1642l-13 3M693 1670l2 12M636 1593l-13 6M751 1642l-11 -2M630 1631l4 10M634 1641l4 11M638 1652l4 10M748 1584l-9 -7M641 1561l-1 11M636 1593l-11 -7M668 1551l-12 -6" stroke="#ee3724" stroke-width="2.1" fill="none" stroke-linecap="round"/><path d="M641 1639l-0 14M731 1590l17 5M727 1561l-8 8M680 1666l9 3M640 1592l-11 8M655 1556l-13 13M747 1583l-16 7M702 1540l-13 11M716 1659l-4 3M702 1540l9 20M716 1659l12 -3M680 1666l-17 8M677 1546l12 5M731 1642l10 12M747 1583l-16 1M629 1638l12 1M652 1646l3 18M734 1577l13 6M700 1665l-11 4M711 1560l8 -8M731 1642l-3 14M635 1630l6 9M716 1659l2 11M652 1646l-11 7M626 1613l9 7M748 1595l-8 17M680 1666l3 8M689 1669l10 6M740 1612l7 5M641 1580l-11 0M640 1574l1 6M689 1669l-6 5M652 1574l-12 -0M750 1628l-11 -0M712 1662l6 8M669 1654l-6 20M629 1600l10 8M719 1552l-6 13M745 1638l-14 4M642 1569l10 5M686 1540l3 11M635 1620l-0 10M690 1542l-1 9M639 1608l-13 5M630 1580l10 12M719 1552l-0 17M635 1620l-8 5M642 1569l-2 5M747 1617l-10 5M740 1612l13 -5M655 1556l-3 18M690 1678l-14 -9M648 1569l17 -13M745 1594l-7 -13M714 1561l-1 -19M628 1604l6 -8M639 1611l-11 -7M633 1641l1 -11M632 1652l13 -17M745 1642l-9 -9M747 1608l-2 -14M702 1555l-12 -6M720 1560l-6 1M738 1646l-2 -13M717 1673l-4 -12M653 1649l-10 1M731 1563l-11 -3M648 1569l-14 6M652 1658l1 -9M639 1626l-12 -4M627 1622l12 -11M745 1614l2 -6M717 1673l-13 -8M634 1630l5 -4M738 1646l-17 13M643 1585l-11 -2M690 1678l2 -20M652 1658l-9 -8M701 1545l-11 4M736 1633l9 -19M643 1650l2 -15M634 1630l-7 -8M751 1634l-15 -1M748 1585l-10 -4M736 1633l14 -5M633 1628l6 14M639 1642l7 14M679 1666l-15 7M724 1560l6 10M633 1584l-3 15M630 1599l-3 15M647 1562l-7 11M640 1573l-7 11M627 1614l6 14M688 1667l17 9M699 1546l8 11M741 1574l-11 -4M744 1586l-8 9M736 1636l2 14M741 1608l5 12M653 1648l-7 8M748 1596l-1 12M747 1608l-1 12M638 1610l-11 4M718 1549l-10 13M748 1596l-12 -1M713 1658l10 10M720 1651l18 -1M679 1666l7 13M718 1549l-11 8M713 1658l-8 18M664 1658l-7 10M679 1666l-6 10M688 1667l2 13M664 1658l-13 6M660 1559l-13 3M633 1584l8 11M746 1620l-10 16M720 1651l6 13M661 1569l-14 -7M646 1656l18 2M682 1545l-9 11M625 1614l13 2M643 1568l6 9M648 1637l-8 11M708 1665l-10 12M656 1556l-4 10M729 1566l3 12M735 1644l-9 7M717 1658l-9 7M754 1619l-12 1M741 1569l-9 9M669 1664l9 13M746 1575l-14 3M671 1552l-7 8M722 1667l-14 -2M713 1549l-10 6M638 1616l-12 2M649 1577l-12 0M741 1595l13 7M753 1596l-12 -1" stroke="#ed2725" stroke-width="1.4" fill="none" stroke-linecap="round"/><path d="M705 1545l-7 9M719 1551l1 12M742 1619l4 11M738 1645l-12 3M641 1631l-11 -0M636 1593l-2 13M634 1606l-2 12M632 1618l-2 13M682 1540l5 12M739 1577l-10 -7M729 1570l-9 -7M681 1667l-9 9M640 1572l-2 11M638 1583l-2 10M713 1670l-12 -6M640 1636l-10 -5M729 1556l-9 7" stroke="#ed2725" stroke-width="2.1" fill="none" stroke-linecap="round"/><path d="M707 1650l5 12M641 1639l11 7M719 1569l15 8M639 1608l-4 12M689 1551l-7 13M647 1628l-6 11M645 1596l-16 4M640 1592l5 4M719 1648l9 8M689 1551l-16 13M713 1565l6 4M731 1590l4 11M735 1601l5 11M652 1646l17 8M719 1569l12 15M712 1662l-12 3M711 1560l-17 3M669 1654l-14 10M730 1567l-11 2M682 1656l7 13M648 1610l-13 10M711 1560l-11 -5M700 1555l-11 -4M669 1553l4 11M645 1596l-6 12M654 1643l-13 -4M727 1627l18 11M682 1656l-2 10M739 1628l-12 -1M711 1560l2 5M727 1627l4 15M669 1654l11 12M734 1577l-3 7M654 1643l-2 3M641 1580l-1 12M732 1604l8 8M652 1574l-11 6M655 1556l18 8M707 1650l9 9M641 1580l4 16M689 1551l5 12M652 1618l-17 12M662 1569l-10 5M731 1584l0 6M698 1660l-9 9M676 1669l-10 -17M736 1633l-9 -10M730 1601l15 -7M721 1659l2 -14M648 1600l-14 -4M745 1594l-13 -9M690 1549l-13 13M677 1562l-12 -6M736 1633l-10 -1M714 1561l-12 -6M653 1649l-8 -14M714 1561l-12 6M666 1563l-1 -7M724 1580l-4 -20M713 1661l-4 -13M666 1652l-13 -3M666 1563l11 -1M724 1580l10 -7M721 1659l-12 -11M643 1585l5 -16M639 1626l-0 -15M738 1646l-12 -14M666 1652l-14 6M666 1563l-18 6M643 1585l15 -11M724 1580l-10 -19M747 1608l-16 -0M643 1585l-9 11M704 1665l-12 -7M645 1635l-6 -9M660 1662l6 -10M666 1563l-8 11M658 1574l-10 -5M732 1585l-8 -5M745 1614l-18 9M645 1635l-11 -5M676 1669l16 -11M745 1614l-15 -3M732 1585l6 -4M689 1562l1 -13M677 1562l-3 -12M676 1669l-3 -11M738 1581l-14 -1M639 1611l-5 -15M713 1658l-12 4M701 1662l-13 5M746 1620l-18 -6M730 1570l3 13M733 1583l3 12M702 1652l11 6M664 1658l15 8M673 1556l3 11M643 1625l-10 3M736 1595l5 13M673 1556l-12 13M707 1557l1 5M708 1562l11 4M719 1566l11 4M647 1634l-14 -6M652 1579l-19 5M730 1570l-7 11M730 1570l-13 -1M736 1636l-8 7M728 1643l-8 8M673 1556l-13 3M688 1667l-9 -1M647 1562l5 17M736 1636l-16 0M675 1654l-11 4M673 1556l10 4M707 1557l-2 11M641 1617l-8 11M732 1625l4 11M707 1557l-11 -0M696 1557l-12 -1M684 1556l-11 -0M720 1651l-7 7M643 1600l-10 4M732 1578l-8 8M732 1578l-13 2M648 1637l-11 -4M633 1593l10 7M693 1562l-11 -5M682 1557l-11 -5M638 1616l5 11M643 1627l5 10M652 1566l-3 11M648 1637l7 9M655 1646l7 9M662 1655l7 9M708 1665l-13 -0M695 1665l-13 -0M682 1665l-13 -1M702 1552l-9 10M686 1550l7 12M719 1572l13 6M699 1651l9 14M726 1651l-9 7M741 1595l-11 3M742 1620l-13 1M671 1552l1 15M732 1578l9 17M643 1600l-5 16M664 1560l-8 9M656 1569l-7 8M703 1555l-10 7M648 1637l-1 14M729 1621l13 6M649 1577l-3 12M732 1633l3 11M676 1655l-7 9M720 1629l15 15M694 1549l-1 13M712 1653l-4 12M741 1595l-6 13" stroke="#eb2226" stroke-width="1.4" fill="none" stroke-linecap="round"/><path d="M698 1554l-7 10M720 1563l-6 11M720 1563l4 11M724 1574l4 12M733 1597l4 11M737 1608l5 11M726 1648l-12 4M647 1587l-11 6M652 1630l-11 1M690 1658l3 12M740 1640l-11 -3M687 1552l4 12M690 1658l-9 9M646 1601l-10 -8M720 1563l-15 0M680 1557l-12 -6M701 1664l-11 -6M650 1640l-10 -4" stroke="#eb2226" stroke-width="2.1" fill="none" stroke-linecap="round"/><path d="M731 1590l-7 6M719 1569l-3 16M710 1640l-3 10M707 1650l-17 -1M652 1618l-5 10M682 1564l12 9M740 1612l-18 4M645 1596l13 3M731 1584l-7 12M710 1640l9 8M694 1563l-12 1M694 1563l19 2M682 1656l-13 -2M648 1610l4 8M654 1643l8 -1M641 1580l17 6M694 1563l0 10M713 1565l3 20M690 1649l-1 20M682 1656l8 -7M658 1586l-13 10M652 1574l19 5M740 1612l-13 15M713 1565l-19 8M635 1620l17 -2M673 1564l9 -0M652 1574l6 12M645 1596l3 14M662 1642l7 12M660 1629l-19 10M724 1596l8 8M660 1629l-6 14M662 1642l-10 4M673 1564l-2 15M722 1616l5 11M710 1640l21 2M673 1564l-11 5M737 1622l-10 5M639 1608l9 2M676 1639l-7 15M716 1585l15 -1M710 1640l6 19M707 1650l-9 10M653 1649l13 -13M689 1574l-12 -12M727 1623l-5 4M670 1647l-17 2M723 1645l3 -13M709 1648l8 -8M717 1640l9 -8M652 1594l-9 -9M724 1597l8 -12M650 1607l-11 4M692 1658l-11 -5M681 1653l-11 -6M645 1635l8 -11M676 1571l-10 -8M709 1648l-17 10M650 1620l-11 6M666 1652l4 -5M726 1632l1 -9M672 1577l-14 -3M650 1612l-11 -1M708 1577l6 -16M724 1580l-16 -3M656 1588l-13 -3M717 1590l7 -10M689 1574l0 -12M732 1585l-11 8M726 1632l-4 -5M673 1658l-3 -11M666 1636l-21 -1M705 1568l6 12M717 1592l19 3M652 1579l13 6M654 1621l-11 4M708 1562l-3 6M661 1640l3 18M685 1651l-6 15M661 1569l19 10M661 1569l8 11M661 1640l-8 8M652 1579l-1 13M651 1592l-2 14M649 1606l-11 4M705 1568l-13 5M661 1569l-9 10M661 1640l-14 -6M661 1640l12 5M723 1581l-6 11M704 1637l16 14M709 1647l4 11M691 1645l-3 22M717 1569l-12 -1M736 1595l-8 19M641 1595l8 11M685 1651l-10 3M683 1560l11 4M694 1564l11 4M649 1606l-8 11M685 1651l3 16M728 1614l4 11M693 1562l-10 10M729 1621l-9 8M643 1600l15 6M662 1637l-14 0M649 1577l12 3M693 1562l13 5M706 1567l13 5M649 1577l5 15M646 1589l-3 11M729 1621l3 12M693 1562l0 11M653 1622l-5 15M683 1646l-7 9M648 1611l-10 5M720 1629l-4 12M716 1641l-4 12M735 1608l-6 13" stroke="#e71f28" stroke-width="1.4" fill="none" stroke-linecap="round"/><path d="M728 1586l5 11M714 1652l-12 3M702 1655l-12 3M691 1564l-11 6M669 1576l-11 6M658 1582l-11 5M688 1644l2 14M729 1637l-11 -2M656 1608l-10 -7M705 1563l-14 1M691 1564l-11 -7M690 1658l-10 -4M680 1654l-10 -5M670 1649l-10 -4M660 1645l-10 -5" stroke="#e71f28" stroke-width="2.1" fill="none" stroke-linecap="round"/><path d="M700 1637l10 3M716 1585l8 11M668 1614l-8 15M715 1618l12 9M714 1609l8 7M682 1564l-11 15M676 1639l14 10M716 1585l-6 15M668 1614l-16 4M715 1618l-3 11M712 1629l-2 11M700 1637l-2 3M658 1586l11 4M727 1627l-17 13M658 1586l-0 13M710 1600l14 -4M658 1599l-10 11M722 1616l-7 2M660 1629l2 13M694 1573l11 6M705 1579l11 6M669 1590l-11 9M676 1639l-14 3M660 1629l16 10M676 1639l22 1M694 1573l-11 3M683 1576l-12 3M671 1579l-13 7M705 1629l5 11M698 1640l9 10M658 1599l-6 19M724 1596l-2 20M710 1640l-12 -0M694 1573l4 11M652 1618l8 11M724 1596l-10 13M676 1639l6 17M694 1573l-4 12M716 1585l-15 10M671 1579l-2 11M698 1640l-8 9M706 1632l16 -5M670 1592l-12 -18M726 1632l-20 -0M706 1632l-11 8M670 1647l5 -16M715 1608l15 -7M709 1589l-1 -12M662 1604l-14 -4M692 1658l3 -18M705 1589l3 -12M662 1604l-10 -10M695 1640l-12 4M683 1644l-13 3M702 1567l-13 7M715 1608l9 -11M709 1648l-14 -8M662 1604l-12 3M686 1580l-9 -18M653 1624l8 -10M686 1580l-10 -9M709 1648l-3 -16M695 1640l-10 -4M661 1614l1 -10M661 1614l-11 6M722 1627l-7 -19M686 1580l3 -6M722 1627l-15 -3M731 1608l-16 -0M675 1631l-9 5M686 1580l-14 -3M661 1614l-11 -2M708 1577l-22 3M670 1592l-14 -4M666 1636l-3 -11M663 1625l-2 -11M730 1611l-15 -3M709 1600l8 -10M721 1593l-12 7M727 1623l-12 -15M670 1647l-4 -11M708 1577l-19 -3M711 1580l6 12M717 1592l6 11M723 1603l5 11M665 1585l13 5M649 1606l5 15M705 1568l-6 12M685 1631l6 14M691 1645l11 7M676 1567l4 12M685 1631l0 20M728 1614l-8 7M720 1621l-8 8M712 1629l-8 8M665 1625l-4 15M669 1580l9 10M665 1625l-11 -4M692 1573l-12 6M717 1592l-12 1M673 1645l12 6M704 1637l5 10M654 1621l7 19M704 1637l-13 8M673 1635l-12 5M691 1645l-6 6M720 1636l-16 1M664 1598l-15 8M717 1607l11 7M649 1606l8 9M657 1615l8 10M724 1586l-8 8M719 1580l-13 2M706 1582l-13 2M683 1572l-11 11M676 1637l-14 0M661 1580l11 3M654 1592l4 14M720 1629l-15 4M690 1637l9 14M730 1598l-11 2M719 1612l10 9M672 1567l0 16M711 1623l9 6M672 1583l-7 11M665 1594l-7 12M714 1616l6 13M693 1573l-0 11M658 1606l-5 16M690 1637l-7 9M658 1606l-10 5" stroke="#cd1f29" stroke-width="1.4" fill="none" stroke-linecap="round"/><path d="M714 1574l-6 11M680 1570l-11 6M691 1564l-1 13M674 1629l-11 1M663 1630l-11 0M718 1635l-11 -2M666 1615l-10 -7" stroke="#cd1f29" stroke-width="2.1" fill="none" stroke-linecap="round"/><path d="M701 1595l-4 11M683 1628l-7 11M696 1611l4 8M700 1619l15 -1M690 1585l-13 16M696 1611l-13 17M680 1627l-20 2M658 1599l19 2M677 1601l19 10M696 1611l-8 8M688 1619l-8 8M700 1619l-17 9M691 1599l6 7M697 1606l17 3M714 1609l-14 10M658 1599l10 15M691 1599l5 12M680 1627l-4 12M677 1601l-9 13M700 1619l-0 18M671 1579l19 6M691 1599l-14 2M697 1606l-1 5M690 1585l11 10M701 1595l9 5M714 1609l1 9M710 1600l-13 6M690 1585l1 14M677 1601l2 13M679 1614l1 13M700 1619l5 10M697 1606l3 13M690 1585l-10 3M680 1588l-11 2M701 1595l-10 4M683 1628l17 9M710 1600l4 9M698 1584l3 11M683 1628l15 12M669 1590l8 11M668 1614l12 13M680 1627l3 1M707 1624l-12 -9M695 1615l-11 -9M683 1601l3 -21M662 1604l8 -12M709 1600l-0 -11M702 1601l-8 -10M694 1591l-8 -11M684 1606l18 -5M707 1624l-16 4M691 1628l-16 3M684 1606l-7 4M702 1601l3 -12M715 1608l-6 -8M709 1600l-7 1M677 1610l-7 -18M702 1601l-19 0M695 1640l12 -16M712 1608l-3 -8M715 1608l-3 -0M684 1606l-1 -5M677 1610l-15 -6M685 1636l-10 -5M677 1610l6 -9M675 1631l2 -21M677 1610l-16 4M712 1608l-10 -7M686 1580l-16 12M675 1631l5 -12M680 1619l4 -13M675 1631l-7 -9M668 1622l-7 -8M707 1624l5 -16M707 1624l-3 -11M704 1613l-2 -12M707 1624l8 -16M706 1632l1 -8M683 1601l-13 -9M665 1625l20 6M706 1600l-0 12M706 1612l-1 13M705 1625l-1 12M704 1637l-19 -6M693 1593l-3 13M699 1580l-6 13M690 1606l-13 9M677 1615l-12 10M693 1593l-15 -3M690 1606l4 10M694 1616l5 10M699 1626l5 11M678 1590l12 16M680 1579l13 14M717 1592l-11 8M678 1590l-4 12M674 1602l-5 11M669 1613l-4 12M706 1600l-16 6M705 1593l-12 0M685 1631l-12 4M693 1593l13 7M690 1606l-3 12M687 1618l-2 13M680 1579l-2 11M678 1590l-14 8M706 1600l11 7M693 1610l-1 13M692 1623l-2 14M716 1594l-8 9M693 1610l-12 -2M681 1608l-11 -1M670 1607l-12 -1M690 1637l-14 0M672 1583l7 9M679 1592l7 9M686 1601l7 9M658 1606l8 8M666 1614l8 8M674 1622l8 7M682 1629l8 8M705 1633l-15 4M719 1600l-11 3M708 1603l11 9M693 1584l8 9M701 1593l7 10M693 1610l9 6M702 1616l9 7M708 1603l6 13M693 1584l0 13M693 1597l0 13M708 1603l-15 7M693 1584l-21 -1" stroke="#9c1e28" stroke-width="1.4" fill="none" stroke-linecap="round"/><path d="M708 1585l-6 11M702 1596l-5 11M697 1607l-6 11M691 1618l-6 11M690 1577l-1 13M689 1590l-1 13M688 1603l-2 13M686 1616l-1 13M685 1629l-11 0M685 1629l3 15M707 1633l-11 -2M696 1631l-11 -2M685 1629l-10 -7M675 1622l-9 -7" stroke="#9c1e28" stroke-width="2.1" fill="none" stroke-linecap="round"/></g></g>
<rect x="1233" y="112" width="15" height="825" fill="url(#cbA)" stroke="#2a2222" stroke-opacity="0.75" stroke-width="1.1"/><path d="M1233 904.7h3M1248 904.7h-3M1233 933.1h3M1248 933.1h-3M1233 924.5h3M1248 924.5h-3M1233 917.1h3M1248 917.1h-3M1233 910.6h3M1248 910.6h-3M1233 776.8h3M1248 776.8h-3M1233 866.2h3M1248 866.2h-3M1233 843.7h3M1248 843.7h-3M1233 827.7h3M1248 827.7h-3M1233 815.3h3M1248 815.3h-3M1233 805.2h3M1248 805.2h-3M1233 796.6h3M1248 796.6h-3M1233 789.2h3M1248 789.2h-3M1233 782.7h3M1248 782.7h-3M1233 648.9h3M1248 648.9h-3M1233 738.3h3M1248 738.3h-3M1233 715.8h3M1248 715.8h-3M1233 699.8h3M1248 699.8h-3M1233 687.4h3M1248 687.4h-3M1233 677.3h3M1248 677.3h-3M1233 668.7h3M1248 668.7h-3M1233 661.3h3M1248 661.3h-3M1233 654.8h3M1248 654.8h-3M1233 521.0h3M1248 521.0h-3M1233 610.4h3M1248 610.4h-3M1233 587.9h3M1248 587.9h-3M1233 571.9h3M1248 571.9h-3M1233 559.5h3M1248 559.5h-3M1233 549.4h3M1248 549.4h-3M1233 540.8h3M1248 540.8h-3M1233 533.4h3M1248 533.4h-3M1233 526.9h3M1248 526.9h-3M1233 393.1h3M1248 393.1h-3M1233 482.5h3M1248 482.5h-3M1233 460.0h3M1248 460.0h-3M1233 444.0h3M1248 444.0h-3M1233 431.6h3M1248 431.6h-3M1233 421.5h3M1248 421.5h-3M1233 412.9h3M1248 412.9h-3M1233 405.5h3M1248 405.5h-3M1233 399.0h3M1248 399.0h-3M1233 265.2h3M1248 265.2h-3M1233 354.6h3M1248 354.6h-3M1233 332.1h3M1248 332.1h-3M1233 316.1h3M1248 316.1h-3M1233 303.7h3M1248 303.7h-3M1233 293.6h3M1248 293.6h-3M1233 285.0h3M1248 285.0h-3M1233 277.6h3M1248 277.6h-3M1233 271.1h3M1248 271.1h-3M1233 137.3h3M1248 137.3h-3M1233 226.7h3M1248 226.7h-3M1233 204.2h3M1248 204.2h-3M1233 188.2h3M1248 188.2h-3M1233 175.8h3M1248 175.8h-3M1233 165.7h3M1248 165.7h-3M1233 157.1h3M1248 157.1h-3M1233 149.7h3M1248 149.7h-3M1233 143.2h3M1248 143.2h-3" stroke="#141414" stroke-opacity="0.9" stroke-width="1.2" fill="none"/><rect x="1228" y="1211" width="15" height="820" fill="url(#cbB)" stroke="#2a2222" stroke-opacity="0.75" stroke-width="1.1"/><path d="M1228 1266.8h3M1243 1266.8h-3M1228 1394.2h3M1243 1394.2h-3M1228 1521.6h3M1243 1521.6h-3M1228 1649.0h3M1243 1649.0h-3M1228 1776.4h3M1243 1776.4h-3M1228 1903.8h3M1243 1903.8h-3" stroke="#141414" stroke-opacity="0.9" stroke-width="1.2" fill="none"/>
<text class="t" x="78.5" y="77.5" letter-spacing="0.8">(a)</text><text class="t" x="308" y="77.5" textLength="860" lengthAdjust="spacing"><tspan class="i">P</tspan>=10 MPa, stress maximum: 153 MPa</text><text class="t" x="78.5" y="1120" letter-spacing="0.8">(b)</text><text class="t" x="232" y="1120" textLength="1014" lengthAdjust="spacing"><tspan class="i">P</tspan>=10 MPa, displacement maximum: 3.22 μm</text><text class="c" x="1215" y="48.5">MPa</text><text class="c" x="1239" y="98.3" textLength="79.5" lengthAdjust="spacingAndGlyphs">153</text><path d="M1219.5 83.5 L1232 83.5 L1225.7 73.5Z" fill="#111"/><text class="c" x="1263" y="163">10<tspan class="s" dy="-19.5" dx="-1">2</tspan></text><text class="c" x="1263" y="289">10<tspan class="s" dy="-19.5" dx="-1">1</tspan></text><text class="c" x="1263" y="415.2">10<tspan class="s" dy="-19.5" dx="-1">0</tspan></text><text class="c" x="1263" y="541.3">10<tspan class="s" dy="-19.5" dx="-1">−1</tspan></text><text class="c" x="1263" y="668">10<tspan class="s" dy="-19.5" dx="-1">−2</tspan></text><text class="c" x="1263" y="794.2">10<tspan class="s" dy="-19.5" dx="-1">−3</tspan></text><text class="c" x="1263" y="920.3">10<tspan class="s" dy="-19.5" dx="-1">−4</tspan></text><text class="c" x="1236.5" y="979">5.6×10<tspan class="s" dy="-19.5" dx="-1">5</tspan></text><path d="M1219.5 951.5 L1231.5 951.5 L1225.5 961.5Z" fill="#111"/><text class="c" x="1300" y="1140">μm</text><text class="c" x="1231.5" y="1196.5">3.22</text><path d="M1215.8 1181.5 L1226.2 1181.5 L1221 1172.5Z" fill="#111"/><text class="c" x="1260.3" y="1284.5">3.0</text><text class="c" x="1260.3" y="1412.4">2.5</text><text class="c" x="1260.3" y="1539.5">2.0</text><text class="c" x="1260.3" y="1667.5">1.5</text><text class="c" x="1260.3" y="1794.5">1.0</text><text class="c" x="1260.3" y="1922.3">0.5</text><text class="c" x="1261.5" y="2048.7">0</text><text class="c" x="1232.5" y="2079.3">0</text><path d="M1215.8 2045.5 L1226.4 2045.5 L1221 2055Z" fill="#111"/>
</svg>
</body></html>
